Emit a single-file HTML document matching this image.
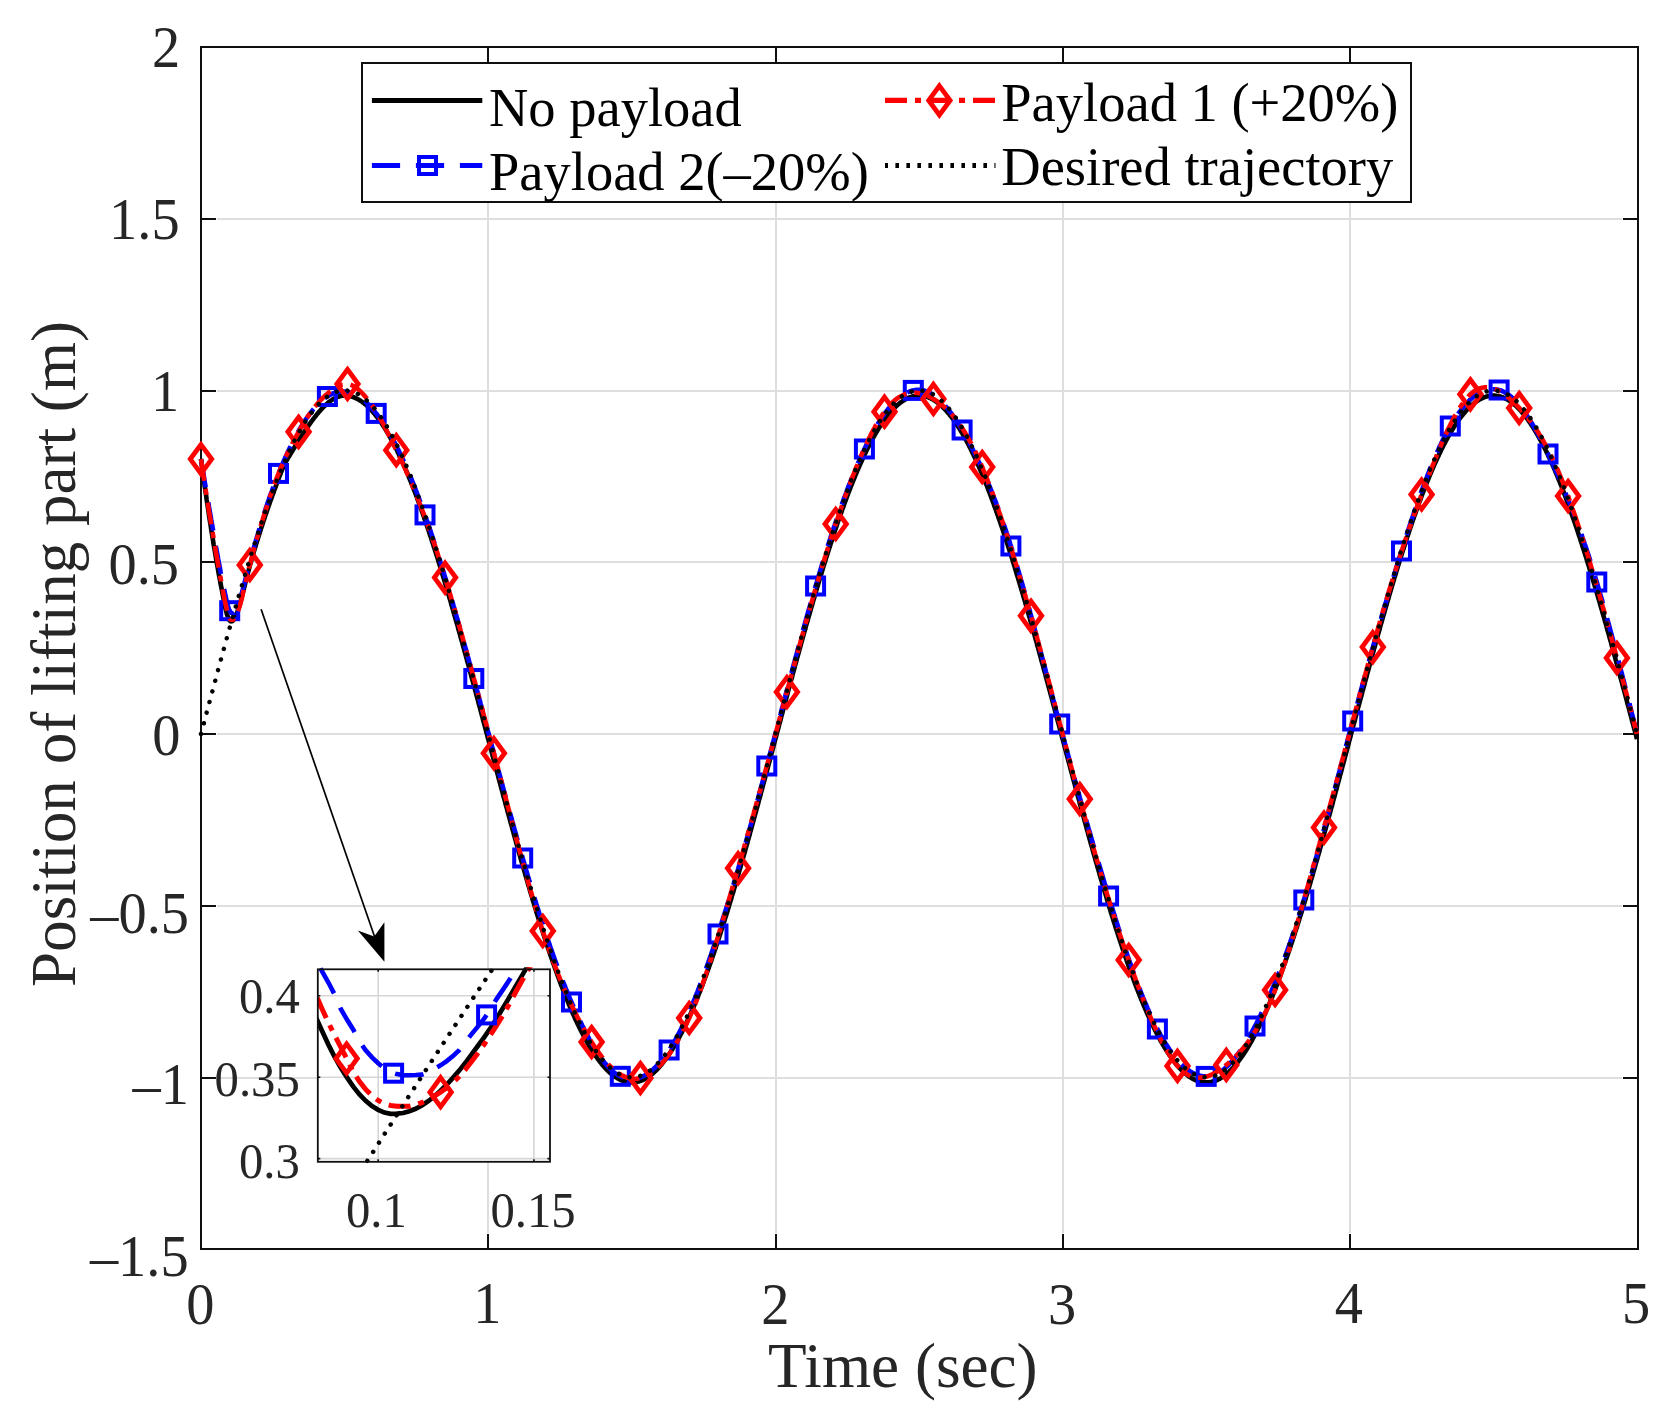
<!DOCTYPE html><html><head><meta charset="utf-8"><title>Position of lifting part</title>
<style>html,body{margin:0;padding:0;background:#fff}svg{display:block}text{font-family:"Liberation Serif",serif;fill:#262626}</style></head><body>
<svg width="1675" height="1423" viewBox="0 0 1675 1423">
<rect width="1675" height="1423" fill="#fff"/>
<defs><clipPath id="cm"><rect x="198.0" y="47.0" width="1443.0" height="1202.0"/></clipPath>
<clipPath id="ci"><rect x="317.3" y="967.3" width="233.2" height="196.5"/></clipPath>
<g id="sq"><rect x="-8.5" y="-8.5" width="17" height="17" fill="none" stroke="#0000ff" stroke-width="4"/></g>
<g id="di"><path d="M0 -14.55L10.7 0L0 14.55L-10.7 0Z" fill="none" stroke="#ff0000" stroke-width="4.8" stroke-linejoin="miter" stroke-miterlimit="10"/></g>
</defs>
<path d="M488 63.0V1233.0M776 63.0V1233.0M1063 63.0V1233.0M1350 63.0V1233.0M217.0 219H1622.0M217.0 391H1622.0M217.0 562H1622.0M217.0 734H1622.0M217.0 906H1622.0M217.0 1078H1622.0" stroke="#dedede" stroke-width="2" fill="none"/>
<path d="M488 1249.0v-15.0M488 47.0v15.0M776 1249.0v-15.0M776 47.0v15.0M1063 1249.0v-15.0M1063 47.0v15.0M1350 1249.0v-15.0M1350 47.0v15.0M201.0 219.0h15.0M1638.0 219.0h-15.0M201.0 391.0h15.0M1638.0 391.0h-15.0M201.0 562.0h15.0M1638.0 562.0h-15.0M201.0 734.0h15.0M1638.0 734.0h-15.0M201.0 906.0h15.0M1638.0 906.0h-15.0M201.0 1078.0h15.0M1638.0 1078.0h-15.0" stroke="#0f0f0f" stroke-width="2" fill="none"/>
<rect x="201.0" y="47.0" width="1437.0" height="1202.0" fill="none" stroke="#0f0f0f" stroke-width="2"/>
<g clip-path="url(#cm)" fill="none"><path d="M201.0 459.1L201.6 463.4L202.1 467.6L202.7 471.8L203.3 475.9L203.9 480.0L204.4 484.1L205.0 488.1L205.6 492.1L206.2 496.1L206.7 500.0L207.3 503.9L207.9 507.7L208.5 511.5L209.0 515.3L209.6 519.1L210.2 522.8L210.8 526.5L211.3 530.1L211.9 533.7L212.5 537.2L213.1 540.8L213.6 544.3L214.2 547.7L214.8 551.1L215.4 554.5L215.9 557.9L216.5 561.2L217.1 564.5L217.7 567.7L218.2 570.9L218.8 574.1L219.4 577.2L220.0 580.2L220.5 583.3L221.1 586.3L221.7 589.3L222.3 592.2L222.8 595.2L223.4 598.1L224.0 601.0L224.6 603.9L225.1 606.8L225.7 609.4L226.3 611.7L226.8 613.8L227.4 615.6L228.0 617.3L228.6 618.6L229.1 619.8L229.7 620.5L230.3 621.1L230.9 621.4L231.4 621.3L232.0 621.2L232.6 620.8L233.2 620.3L233.7 619.6L234.3 618.7L234.9 617.7L235.5 616.5L236.0 615.2L236.6 613.8L237.2 612.3L237.8 610.6L238.3 608.9L238.9 607.1L239.5 605.3L240.1 603.4L240.6 601.3L241.2 599.1L241.8 596.9L242.4 594.7L242.9 592.4L243.5 590.2L244.1 587.9L244.7 585.7L245.2 583.4L245.8 581.2L246.4 578.9L247.0 576.7L247.5 574.5L248.1 572.3L248.7 570.1L249.2 568.0L249.8 565.9L250.4 563.8L251.0 561.8L251.5 559.8L252.1 557.8L252.7 555.8L253.3 553.8L253.8 551.9L254.4 549.9L255.0 548.0L255.6 546.1L256.1 544.2L256.7 542.3L257.3 540.5L257.9 538.6L258.4 536.8L259.0 535.0L259.6 533.2L260.2 531.4L260.7 529.6L261.3 527.8L261.9 526.0L262.5 524.3L263.0 522.5L263.6 520.8L264.2 519.0L264.8 517.3L265.3 515.6L265.9 513.9L266.5 512.2L267.1 510.5L267.6 508.8L268.2 507.2L268.8 505.5L269.4 503.9L269.9 502.3L270.5 500.7L271.1 499.1L271.7 497.5L272.2 496.0L272.8 494.5L273.4 492.9L273.9 491.4L274.5 489.8L275.1 488.2L275.7 486.7L276.2 485.1L276.8 483.5L277.4 482.0L278.0 480.4L278.5 478.9L279.1 477.4L279.7 475.9L280.3 474.4L280.8 472.9L281.4 471.5L282.0 470.1L282.6 468.7L283.1 467.4L283.7 466.1L284.3 464.9L284.9 463.7L285.4 462.6L286.0 461.5L286.6 460.4L287.2 459.5L287.7 458.5L288.3 457.6L288.9 456.6L289.5 455.7L290.0 454.7L290.6 453.8L291.2 452.8L291.8 451.9L292.3 450.9L292.9 450.0L293.5 449.0L294.1 448.1L294.6 447.2L295.2 446.2L295.8 445.3L296.4 444.4L296.9 443.4L297.5 442.5L298.1 441.6L298.6 440.7L299.2 439.8L299.8 438.8L300.4 437.9L300.9 437.0L301.5 436.1L302.1 435.2L302.7 434.4L303.2 433.5L303.8 432.6L304.4 431.7L305.0 430.9L305.5 430.0L306.1 429.1L306.7 428.3L307.3 427.4L307.8 426.6L308.4 425.8L309.0 424.9L309.6 424.1L310.1 423.3L310.7 422.5L311.3 421.7L311.9 420.9L312.4 420.2L313.0 419.4L313.6 418.6L314.2 417.9L314.7 417.1L315.3 416.4L315.9 415.7L316.5 414.9L317.0 414.2L317.6 413.5L318.2 412.9L318.8 412.2L319.3 411.5L319.9 410.9L320.5 410.2L321.0 409.6L321.6 409.0L322.2 408.4L322.8 407.8L323.3 407.2L323.9 406.6L324.5 406.0L325.1 405.5L325.6 404.9L326.2 404.4L326.8 403.9L327.4 403.4L327.9 402.9L328.5 402.4L329.1 402.0L329.7 401.5L330.2 401.1L330.8 400.7L331.4 400.3L332.0 399.9L332.5 399.5L333.1 399.2L333.7 398.8L334.3 398.5L334.8 398.2L335.4 397.9L336.0 397.6L336.6 397.4L337.1 397.1L337.7 396.9L338.3 396.7L338.9 396.5L339.4 396.3L340.0 396.2L340.6 396.0L341.2 395.9L341.7 395.8L342.3 395.7L342.9 395.7L343.5 395.6L344.0 395.6L344.6 395.6L345.2 395.6L345.7 395.6L346.3 395.6L346.9 395.7L347.5 395.7L348.0 395.8L348.6 395.9L349.2 396.0L349.8 396.1L350.3 396.3L350.9 396.4L351.5 396.6L352.1 396.7L352.6 396.9L353.2 397.1L353.8 397.3L354.4 397.5L354.9 397.8L355.5 398.0L356.1 398.3L356.7 398.6L357.2 398.9L357.8 399.2L358.4 399.5L359.0 399.8L359.5 400.2L360.1 400.5L360.7 400.9L361.3 401.3L361.8 401.7L362.4 402.1L363.0 402.5L363.6 402.9L364.1 403.4L364.7 403.9L365.3 404.3L365.9 404.8L366.4 405.3L367.0 405.8L367.6 406.4L368.2 406.9L368.7 407.5L369.3 408.0L369.9 408.6L370.4 409.2L371.0 409.8L371.6 410.4L372.2 411.1L372.7 411.7L373.3 412.4L373.9 413.1L374.5 413.7L375.0 414.4L375.6 415.2L376.2 415.9L376.8 416.6L377.3 417.4L377.9 418.1L378.5 418.9L379.1 419.7L379.6 420.5L380.2 421.3L380.8 422.1L381.4 423.0L381.9 423.8L382.5 424.7L383.1 425.6L383.7 426.5L384.2 427.4L384.8 428.3L385.4 429.2L386.0 430.1L386.5 431.1L387.1 432.0L387.7 433.0L388.3 434.0L388.8 435.0L389.4 436.0L390.0 437.0L390.6 438.1L391.1 439.1L391.7 440.2L392.3 441.2L392.8 442.3L393.4 443.4L394.0 444.5L394.6 445.6L395.1 446.8L395.7 447.9L396.3 449.0L396.9 450.2L397.4 451.4L398.0 452.6L398.6 453.8L399.2 455.0L399.7 456.2L400.3 457.4L400.9 458.7L401.5 459.9L402.0 461.2L402.6 462.4L403.2 463.7L403.8 465.0L404.3 466.3L404.9 467.6L405.5 469.0L406.1 470.3L406.6 471.7L407.2 473.0L407.8 474.4L408.4 475.8L408.9 477.2L409.5 478.6L410.1 480.0L410.7 481.4L411.2 482.8L411.8 484.3L412.4 485.7L413.0 487.2L413.5 488.7L414.1 490.1L414.7 491.6L415.3 493.1L415.8 494.6L416.4 496.2L417.0 497.7L417.5 499.2L418.1 500.8L418.7 502.3L419.3 503.9L419.8 505.5L420.4 507.1L421.0 508.7L421.6 510.3L422.1 511.9L422.7 513.5L423.3 515.2L423.9 516.8L424.4 518.4L425.0 520.1L425.6 521.8L426.2 523.4L426.7 525.1L427.3 526.8L427.9 528.5L428.5 530.2L429.0 531.9L429.6 533.7L430.2 535.4L430.8 537.1L431.3 538.9L431.9 540.7L432.5 542.4L433.1 544.2L433.6 546.0L434.2 547.8L434.8 549.6L435.4 551.4L435.9 553.2L436.5 555.0L437.1 556.8L437.7 558.6L438.2 560.5L438.8 562.3L439.4 564.2L440.0 566.0L440.5 567.9L441.1 569.8L441.7 571.7L442.2 573.6L442.8 575.5L443.4 577.4L444.0 579.3L444.5 581.2L445.1 583.1L445.7 585.0L446.3 587.0L446.8 588.9L447.4 590.8L448.0 592.8L448.6 594.7L449.1 596.7L449.7 598.7L450.3 600.6L450.9 602.6L451.4 604.6L452.0 606.6L452.6 608.6L453.2 610.6L453.7 612.6L454.3 614.6L454.9 616.6L455.5 618.6L456.0 620.6L456.6 622.7L457.2 624.7L457.8 626.7L458.3 628.8L458.9 630.8L459.5 632.9L460.1 634.9L460.6 637.0L461.2 639.1L461.8 641.1L462.4 643.2L462.9 645.3L463.5 647.3L464.1 649.4L464.6 651.5L465.2 653.6L465.8 655.7L466.4 657.8L466.9 659.9L467.5 662.0L468.1 664.1L468.7 666.2L469.2 668.3L469.8 670.4L470.4 672.5L471.0 674.7L471.5 676.8L472.1 678.9L472.7 681.0L473.3 683.2L473.8 685.3L474.4 687.4L475.0 689.6L475.6 691.7L476.1 693.8L476.7 696.0L477.3 698.1L477.9 700.3L478.4 702.4L479.0 704.5L479.6 706.7L480.2 708.8L480.7 711.0L481.3 713.1L481.9 715.3L482.5 717.4L483.0 719.6L483.6 721.8L484.2 723.9L484.8 726.1L485.3 728.2L485.9 730.4L486.5 732.5L487.1 734.7L487.6 736.9L488.2 739.0L488.8 741.2L489.3 743.3L489.9 745.5L490.5 747.6L491.1 749.8L491.6 752.0L492.2 754.1L492.8 756.3L493.4 758.4L493.9 760.6L494.5 762.7L495.1 764.9L495.7 767.0L496.2 769.2L496.8 771.3L497.4 773.5L498.0 775.6L498.5 777.8L499.1 779.9L499.7 782.1L500.3 784.2L500.8 786.3L501.4 788.5L502.0 790.6L502.6 792.7L503.1 794.9L503.7 797.0L504.3 799.1L504.9 801.2L505.4 803.4L506.0 805.5L506.6 807.6L507.2 809.7L507.7 811.8L508.3 813.9L508.9 816.0L509.5 818.1L510.0 820.2L510.6 822.3L511.2 824.4L511.8 826.5L512.3 828.6L512.9 830.7L513.5 832.7L514.0 834.8L514.6 836.9L515.2 839.0L515.8 841.0L516.3 843.1L516.9 845.1L517.5 847.2L518.1 849.2L518.6 851.3L519.2 853.3L519.8 855.3L520.4 857.4L520.9 859.4L521.5 861.4L522.1 863.4L522.7 865.4L523.2 867.4L523.8 869.4L524.4 871.4L525.0 873.4L525.5 875.4L526.1 877.4L526.7 879.4L527.3 881.3L527.8 883.3L528.4 885.2L529.0 887.2L529.6 889.1L530.1 891.1L530.7 893.0L531.3 894.9L531.9 896.8L532.4 898.8L533.0 900.7L533.6 902.6L534.2 904.5L534.7 906.3L535.3 908.2L535.9 910.1L536.4 912.0L537.0 913.8L537.6 915.7L538.2 917.5L538.7 919.4L539.3 921.2L539.9 923.0L540.5 924.8L541.0 926.7L541.6 928.5L542.2 930.3L542.8 932.0L543.3 933.8L543.9 935.6L544.5 937.4L545.1 939.1L545.6 940.9L546.2 942.6L546.8 944.3L547.4 946.1L547.9 947.8L548.5 949.5L549.1 951.2L549.7 952.9L550.2 954.6L550.8 956.3L551.4 957.9L552.0 959.6L552.5 961.2L553.1 962.9L553.7 964.5L554.3 966.1L554.8 967.7L555.4 969.3L556.0 970.9L556.6 972.5L557.1 974.1L557.7 975.7L558.3 977.2L558.9 978.8L559.4 980.3L560.0 981.8L560.6 983.4L561.1 984.9L561.7 986.4L562.3 987.9L562.9 989.4L563.4 990.8L564.0 992.3L564.6 993.7L565.2 995.2L565.7 996.6L566.3 998.0L566.9 999.5L567.5 1000.9L568.0 1002.2L568.6 1003.6L569.2 1005.0L569.8 1006.4L570.3 1007.7L570.9 1009.0L571.5 1010.4L572.1 1011.7L572.6 1013.0L573.2 1014.3L573.8 1015.6L574.4 1016.8L574.9 1018.1L575.5 1019.4L576.1 1020.6L576.7 1021.8L577.2 1023.1L577.8 1024.3L578.4 1025.5L579.0 1026.6L579.5 1027.8L580.1 1029.0L580.7 1030.1L581.3 1031.3L581.8 1032.4L582.4 1033.5L583.0 1034.6L583.6 1035.7L584.1 1036.8L584.7 1037.9L585.3 1038.9L585.8 1040.0L586.4 1041.0L587.0 1042.0L587.6 1043.0L588.1 1044.0L588.7 1045.0L589.3 1046.0L589.9 1046.9L590.4 1047.9L591.0 1048.8L591.6 1049.8L592.2 1050.7L592.7 1051.6L593.3 1052.5L593.9 1053.3L594.5 1054.2L595.0 1055.0L595.6 1055.9L596.2 1056.7L596.8 1057.5L597.3 1058.3L597.9 1059.1L598.5 1059.9L599.1 1060.6L599.6 1061.4L600.2 1062.1L600.8 1062.9L601.4 1063.6L601.9 1064.3L602.5 1065.0L603.1 1065.6L603.7 1066.3L604.2 1066.9L604.8 1067.6L605.4 1068.2L606.0 1068.8L606.5 1069.4L607.1 1070.0L607.7 1070.5L608.2 1071.1L608.8 1071.6L609.4 1072.2L610.0 1072.7L610.5 1073.2L611.1 1073.7L611.7 1074.2L612.3 1074.6L612.8 1075.1L613.4 1075.5L614.0 1075.9L614.6 1076.4L615.1 1076.8L615.7 1077.1L616.3 1077.5L616.9 1077.9L617.4 1078.2L618.0 1078.5L618.6 1078.9L619.2 1079.2L619.7 1079.5L620.3 1079.7L620.9 1080.0L621.5 1080.2L622.0 1080.5L622.6 1080.7L623.2 1080.9L623.8 1081.1L624.3 1081.3L624.9 1081.5L625.5 1081.6L626.1 1081.8L626.6 1081.9L627.2 1082.0L627.8 1082.1L628.4 1082.2L628.9 1082.3L629.5 1082.3L630.1 1082.4L630.7 1082.4L631.2 1082.4L631.8 1082.4L632.4 1082.4L632.9 1082.4L633.5 1082.4L634.1 1082.3L634.7 1082.3L635.2 1082.2L635.8 1082.1L636.4 1082.0L637.0 1081.9L637.5 1081.8L638.1 1081.6L638.7 1081.5L639.3 1081.3L639.8 1081.1L640.4 1080.9L641.0 1080.7L641.6 1080.5L642.1 1080.2L642.7 1080.0L643.3 1079.7L643.9 1079.5L644.4 1079.2L645.0 1078.9L645.6 1078.5L646.2 1078.2L646.7 1077.9L647.3 1077.5L647.9 1077.1L648.5 1076.8L649.0 1076.4L649.6 1075.9L650.2 1075.5L650.8 1075.1L651.3 1074.6L651.9 1074.2L652.5 1073.7L653.1 1073.2L653.6 1072.7L654.2 1072.2L654.8 1071.6L655.4 1071.1L655.9 1070.5L656.5 1070.0L657.1 1069.4L657.6 1068.8L658.2 1068.2L658.8 1067.6L659.4 1066.9L659.9 1066.3L660.5 1065.6L661.1 1065.0L661.7 1064.3L662.2 1063.6L662.8 1062.9L663.4 1062.1L664.0 1061.4L664.5 1060.6L665.1 1059.9L665.7 1059.1L666.3 1058.3L666.8 1057.5L667.4 1056.7L668.0 1055.9L668.6 1055.0L669.1 1054.2L669.7 1053.3L670.3 1052.5L670.9 1051.6L671.4 1050.7L672.0 1049.8L672.6 1048.8L673.2 1047.9L673.7 1046.9L674.3 1046.0L674.9 1045.0L675.5 1044.0L676.0 1043.0L676.6 1042.0L677.2 1041.0L677.8 1040.0L678.3 1038.9L678.9 1037.9L679.5 1036.8L680.0 1035.7L680.6 1034.6L681.2 1033.5L681.8 1032.4L682.3 1031.3L682.9 1030.1L683.5 1029.0L684.1 1027.8L684.6 1026.6L685.2 1025.5L685.8 1024.3L686.4 1023.1L686.9 1021.8L687.5 1020.6L688.1 1019.4L688.7 1018.1L689.2 1016.8L689.8 1015.6L690.4 1014.3L691.0 1013.0L691.5 1011.7L692.1 1010.4L692.7 1009.0L693.3 1007.7L693.8 1006.4L694.4 1005.0L695.0 1003.6L695.6 1002.2L696.1 1000.9L696.7 999.5L697.3 998.0L697.9 996.6L698.4 995.2L699.0 993.7L699.6 992.3L700.2 990.8L700.7 989.4L701.3 987.9L701.9 986.4L702.5 984.9L703.0 983.4L703.6 981.8L704.2 980.3L704.7 978.8L705.3 977.2L705.9 975.7L706.5 974.1L707.0 972.5L707.6 970.9L708.2 969.3L708.8 967.7L709.3 966.1L709.9 964.5L710.5 962.9L711.1 961.2L711.6 959.6L712.2 957.9L712.8 956.3L713.4 954.6L713.9 952.9L714.5 951.2L715.1 949.5L715.7 947.8L716.2 946.1L716.8 944.3L717.4 942.6L718.0 940.9L718.5 939.1L719.1 937.4L719.7 935.6L720.3 933.8L720.8 932.0L721.4 930.3L722.0 928.5L722.6 926.7L723.1 924.8L723.7 923.0L724.3 921.2L724.9 919.4L725.4 917.5L726.0 915.7L726.6 913.8L727.2 912.0L727.7 910.1L728.3 908.2L728.9 906.3L729.4 904.5L730.0 902.6L730.6 900.7L731.2 898.8L731.7 896.8L732.3 894.9L732.9 893.0L733.5 891.1L734.0 889.1L734.6 887.2L735.2 885.2L735.8 883.3L736.3 881.3L736.9 879.4L737.5 877.4L738.1 875.4L738.6 873.4L739.2 871.4L739.8 869.4L740.4 867.4L740.9 865.4L741.5 863.4L742.1 861.4L742.7 859.4L743.2 857.4L743.8 855.3L744.4 853.3L745.0 851.3L745.5 849.2L746.1 847.2L746.7 845.1L747.3 843.1L747.8 841.0L748.4 839.0L749.0 836.9L749.6 834.8L750.1 832.7L750.7 830.7L751.3 828.6L751.8 826.5L752.4 824.4L753.0 822.3L753.6 820.2L754.1 818.1L754.7 816.0L755.3 813.9L755.9 811.8L756.4 809.7L757.0 807.6L757.6 805.5L758.2 803.4L758.7 801.2L759.3 799.1L759.9 797.0L760.5 794.9L761.0 792.7L761.6 790.6L762.2 788.5L762.8 786.3L763.3 784.2L763.9 782.1L764.5 779.9L765.1 777.8L765.6 775.6L766.2 773.5L766.8 771.3L767.4 769.2L767.9 767.0L768.5 764.9L769.1 762.7L769.7 760.6L770.2 758.4L770.8 756.3L771.4 754.1L772.0 752.0L772.5 749.8L773.1 747.6L773.7 745.5L774.3 743.3L774.8 741.2L775.4 739.0L776.0 736.9L776.5 734.7L777.1 732.5L777.7 730.4L778.3 728.2L778.8 726.1L779.4 723.9L780.0 721.8L780.6 719.6L781.1 717.4L781.7 715.3L782.3 713.1L782.9 711.0L783.4 708.8L784.0 706.7L784.6 704.5L785.2 702.4L785.7 700.3L786.3 698.1L786.9 696.0L787.5 693.8L788.0 691.7L788.6 689.6L789.2 687.4L789.8 685.3L790.3 683.2L790.9 681.0L791.5 678.9L792.1 676.8L792.6 674.7L793.2 672.5L793.8 670.4L794.4 668.3L794.9 666.2L795.5 664.1L796.1 662.0L796.7 659.9L797.2 657.8L797.8 655.7L798.4 653.6L799.0 651.5L799.5 649.4L800.1 647.3L800.7 645.3L801.2 643.2L801.8 641.1L802.4 639.1L803.0 637.0L803.5 634.9L804.1 632.9L804.7 630.8L805.3 628.8L805.8 626.7L806.4 624.7L807.0 622.7L807.6 620.6L808.1 618.6L808.7 616.6L809.3 614.6L809.9 612.6L810.4 610.6L811.0 608.6L811.6 606.6L812.2 604.6L812.7 602.6L813.3 600.6L813.9 598.7L814.5 596.7L815.0 594.7L815.6 592.8L816.2 590.8L816.8 588.9L817.3 587.0L817.9 585.0L818.5 583.1L819.1 581.2L819.6 579.3L820.2 577.4L820.8 575.5L821.4 573.6L821.9 571.7L822.5 569.8L823.1 567.9L823.6 566.0L824.2 564.2L824.8 562.3L825.4 560.5L825.9 558.6L826.5 556.8L827.1 555.0L827.7 553.2L828.2 551.4L828.8 549.6L829.4 547.8L830.0 546.0L830.5 544.2L831.1 542.4L831.7 540.7L832.3 538.9L832.8 537.1L833.4 535.4L834.0 533.7L834.6 531.9L835.1 530.2L835.7 528.5L836.3 526.8L836.9 525.1L837.4 523.4L838.0 521.8L838.6 520.1L839.2 518.4L839.7 516.8L840.3 515.2L840.9 513.5L841.5 511.9L842.0 510.3L842.6 508.7L843.2 507.1L843.8 505.5L844.3 503.9L844.9 502.3L845.5 500.8L846.1 499.2L846.6 497.7L847.2 496.2L847.8 494.6L848.3 493.1L848.9 491.6L849.5 490.1L850.1 488.7L850.6 487.2L851.2 485.7L851.8 484.3L852.4 482.8L852.9 481.4L853.5 480.0L854.1 478.6L854.7 477.2L855.2 475.8L855.8 474.4L856.4 473.0L857.0 471.7L857.5 470.3L858.1 469.0L858.7 467.6L859.3 466.3L859.8 465.0L860.4 463.7L861.0 462.4L861.6 461.2L862.1 459.9L862.7 458.7L863.3 457.4L863.9 456.2L864.4 455.0L865.0 453.8L865.6 452.6L866.2 451.4L866.7 450.2L867.3 449.0L867.9 447.9L868.5 446.8L869.0 445.6L869.6 444.5L870.2 443.4L870.8 442.3L871.3 441.2L871.9 440.2L872.5 439.1L873.0 438.1L873.6 437.0L874.2 436.0L874.8 435.0L875.3 434.0L875.9 433.0L876.5 432.0L877.1 431.1L877.6 430.1L878.2 429.2L878.8 428.3L879.4 427.4L879.9 426.5L880.5 425.6L881.1 424.7L881.7 423.8L882.2 423.0L882.8 422.1L883.4 421.3L884.0 420.5L884.5 419.7L885.1 418.9L885.7 418.1L886.3 417.4L886.8 416.6L887.4 415.9L888.0 415.2L888.6 414.4L889.1 413.7L889.7 413.1L890.3 412.4L890.9 411.7L891.4 411.1L892.0 410.4L892.6 409.8L893.2 409.2L893.7 408.6L894.3 408.0L894.9 407.5L895.4 406.9L896.0 406.4L896.6 405.8L897.2 405.3L897.7 404.8L898.3 404.3L898.9 403.9L899.5 403.4L900.0 402.9L900.6 402.5L901.2 402.1L901.8 401.7L902.3 401.3L902.9 400.9L903.5 400.5L904.1 400.2L904.6 399.8L905.2 399.5L905.8 399.2L906.4 398.9L906.9 398.6L907.5 398.3L908.1 398.0L908.7 397.8L909.2 397.5L909.8 397.3L910.4 397.1L911.0 396.9L911.5 396.7L912.1 396.6L912.7 396.4L913.3 396.3L913.8 396.1L914.4 396.0L915.0 395.9L915.6 395.8L916.1 395.7L916.7 395.7L917.3 395.6L917.9 395.6L918.4 395.6L919.0 395.6L919.6 395.6L920.1 395.6L920.7 395.6L921.3 395.7L921.9 395.7L922.4 395.8L923.0 395.9L923.6 396.0L924.2 396.1L924.7 396.3L925.3 396.4L925.9 396.6L926.5 396.7L927.0 396.9L927.6 397.1L928.2 397.3L928.8 397.5L929.3 397.8L929.9 398.0L930.5 398.3L931.1 398.6L931.6 398.9L932.2 399.2L932.8 399.5L933.4 399.8L933.9 400.2L934.5 400.5L935.1 400.9L935.7 401.3L936.2 401.7L936.8 402.1L937.4 402.5L938.0 402.9L938.5 403.4L939.1 403.9L939.7 404.3L940.3 404.8L940.8 405.3L941.4 405.8L942.0 406.4L942.6 406.9L943.1 407.5L943.7 408.0L944.3 408.6L944.8 409.2L945.4 409.8L946.0 410.4L946.6 411.1L947.1 411.7L947.7 412.4L948.3 413.1L948.9 413.7L949.4 414.4L950.0 415.2L950.6 415.9L951.2 416.6L951.7 417.4L952.3 418.1L952.9 418.9L953.5 419.7L954.0 420.5L954.6 421.3L955.2 422.1L955.8 423.0L956.3 423.8L956.9 424.7L957.5 425.6L958.1 426.5L958.6 427.4L959.2 428.3L959.8 429.2L960.4 430.1L960.9 431.1L961.5 432.0L962.1 433.0L962.7 434.0L963.2 435.0L963.8 436.0L964.4 437.0L965.0 438.1L965.5 439.1L966.1 440.2L966.7 441.2L967.2 442.3L967.8 443.4L968.4 444.5L969.0 445.6L969.5 446.8L970.1 447.9L970.7 449.0L971.3 450.2L971.8 451.4L972.4 452.6L973.0 453.8L973.6 455.0L974.1 456.2L974.7 457.4L975.3 458.7L975.9 459.9L976.4 461.2L977.0 462.4L977.6 463.7L978.2 465.0L978.7 466.3L979.3 467.6L979.9 469.0L980.5 470.3L981.0 471.7L981.6 473.0L982.2 474.4L982.8 475.8L983.3 477.2L983.9 478.6L984.5 480.0L985.1 481.4L985.6 482.8L986.2 484.3L986.8 485.7L987.4 487.2L987.9 488.7L988.5 490.1L989.1 491.6L989.7 493.1L990.2 494.6L990.8 496.2L991.4 497.7L991.9 499.2L992.5 500.8L993.1 502.3L993.7 503.9L994.2 505.5L994.8 507.1L995.4 508.7L996.0 510.3L996.5 511.9L997.1 513.5L997.7 515.2L998.3 516.8L998.8 518.4L999.4 520.1L1000.0 521.8L1000.6 523.4L1001.1 525.1L1001.7 526.8L1002.3 528.5L1002.9 530.2L1003.4 531.9L1004.0 533.7L1004.6 535.4L1005.2 537.1L1005.7 538.9L1006.3 540.7L1006.9 542.4L1007.5 544.2L1008.0 546.0L1008.6 547.8L1009.2 549.6L1009.8 551.4L1010.3 553.2L1010.9 555.0L1011.5 556.8L1012.1 558.6L1012.6 560.5L1013.2 562.3L1013.8 564.2L1014.4 566.0L1014.9 567.9L1015.5 569.8L1016.1 571.7L1016.6 573.6L1017.2 575.5L1017.8 577.4L1018.4 579.3L1018.9 581.2L1019.5 583.1L1020.1 585.0L1020.7 587.0L1021.2 588.9L1021.8 590.8L1022.4 592.8L1023.0 594.7L1023.5 596.7L1024.1 598.7L1024.7 600.6L1025.3 602.6L1025.8 604.6L1026.4 606.6L1027.0 608.6L1027.6 610.6L1028.1 612.6L1028.7 614.6L1029.3 616.6L1029.9 618.6L1030.4 620.6L1031.0 622.7L1031.6 624.7L1032.2 626.7L1032.7 628.8L1033.3 630.8L1033.9 632.9L1034.5 634.9L1035.0 637.0L1035.6 639.1L1036.2 641.1L1036.8 643.2L1037.3 645.3L1037.9 647.3L1038.5 649.4L1039.0 651.5L1039.6 653.6L1040.2 655.7L1040.8 657.8L1041.3 659.9L1041.9 662.0L1042.5 664.1L1043.1 666.2L1043.6 668.3L1044.2 670.4L1044.8 672.5L1045.4 674.7L1045.9 676.8L1046.5 678.9L1047.1 681.0L1047.7 683.2L1048.2 685.3L1048.8 687.4L1049.4 689.6L1050.0 691.7L1050.5 693.8L1051.1 696.0L1051.7 698.1L1052.3 700.3L1052.8 702.4L1053.4 704.5L1054.0 706.7L1054.6 708.8L1055.1 711.0L1055.7 713.1L1056.3 715.3L1056.9 717.4L1057.4 719.6L1058.0 721.8L1058.6 723.9L1059.2 726.1L1059.7 728.2L1060.3 730.4L1060.9 732.5L1061.5 734.7L1062.0 736.9L1062.6 739.0L1063.2 741.2L1063.7 743.3L1064.3 745.5L1064.9 747.6L1065.5 749.8L1066.0 752.0L1066.6 754.1L1067.2 756.3L1067.8 758.4L1068.3 760.6L1068.9 762.7L1069.5 764.9L1070.1 767.0L1070.6 769.2L1071.2 771.3L1071.8 773.5L1072.4 775.6L1072.9 777.8L1073.5 779.9L1074.1 782.1L1074.7 784.2L1075.2 786.3L1075.8 788.5L1076.4 790.6L1077.0 792.7L1077.5 794.9L1078.1 797.0L1078.7 799.1L1079.3 801.2L1079.8 803.4L1080.4 805.5L1081.0 807.6L1081.6 809.7L1082.1 811.8L1082.7 813.9L1083.3 816.0L1083.9 818.1L1084.4 820.2L1085.0 822.3L1085.6 824.4L1086.2 826.5L1086.7 828.6L1087.3 830.7L1087.9 832.7L1088.4 834.8L1089.0 836.9L1089.6 839.0L1090.2 841.0L1090.7 843.1L1091.3 845.1L1091.9 847.2L1092.5 849.2L1093.0 851.3L1093.6 853.3L1094.2 855.3L1094.8 857.4L1095.3 859.4L1095.9 861.4L1096.5 863.4L1097.1 865.4L1097.6 867.4L1098.2 869.4L1098.8 871.4L1099.4 873.4L1099.9 875.4L1100.5 877.4L1101.1 879.4L1101.7 881.3L1102.2 883.3L1102.8 885.2L1103.4 887.2L1104.0 889.1L1104.5 891.1L1105.1 893.0L1105.7 894.9L1106.3 896.8L1106.8 898.8L1107.4 900.7L1108.0 902.6L1108.6 904.5L1109.1 906.3L1109.7 908.2L1110.3 910.1L1110.8 912.0L1111.4 913.8L1112.0 915.7L1112.6 917.5L1113.1 919.4L1113.7 921.2L1114.3 923.0L1114.9 924.8L1115.4 926.7L1116.0 928.5L1116.6 930.3L1117.2 932.0L1117.7 933.8L1118.3 935.6L1118.9 937.4L1119.5 939.1L1120.0 940.9L1120.6 942.6L1121.2 944.3L1121.8 946.1L1122.3 947.8L1122.9 949.5L1123.5 951.2L1124.1 952.9L1124.6 954.6L1125.2 956.3L1125.8 957.9L1126.4 959.6L1126.9 961.2L1127.5 962.9L1128.1 964.5L1128.7 966.1L1129.2 967.7L1129.8 969.3L1130.4 970.9L1131.0 972.5L1131.5 974.1L1132.1 975.7L1132.7 977.2L1133.3 978.8L1133.8 980.3L1134.4 981.8L1135.0 983.4L1135.5 984.9L1136.1 986.4L1136.7 987.9L1137.3 989.4L1137.8 990.8L1138.4 992.3L1139.0 993.7L1139.6 995.2L1140.1 996.6L1140.7 998.0L1141.3 999.5L1141.9 1000.9L1142.4 1002.2L1143.0 1003.6L1143.6 1005.0L1144.2 1006.4L1144.7 1007.7L1145.3 1009.0L1145.9 1010.4L1146.5 1011.7L1147.0 1013.0L1147.6 1014.3L1148.2 1015.6L1148.8 1016.8L1149.3 1018.1L1149.9 1019.4L1150.5 1020.6L1151.1 1021.8L1151.6 1023.1L1152.2 1024.3L1152.8 1025.5L1153.4 1026.6L1153.9 1027.8L1154.5 1029.0L1155.1 1030.1L1155.7 1031.3L1156.2 1032.4L1156.8 1033.5L1157.4 1034.6L1158.0 1035.7L1158.5 1036.8L1159.1 1037.9L1159.7 1038.9L1160.2 1040.0L1160.8 1041.0L1161.4 1042.0L1162.0 1043.0L1162.5 1044.0L1163.1 1045.0L1163.7 1046.0L1164.3 1046.9L1164.8 1047.9L1165.4 1048.8L1166.0 1049.8L1166.6 1050.7L1167.1 1051.6L1167.7 1052.5L1168.3 1053.3L1168.9 1054.2L1169.4 1055.0L1170.0 1055.9L1170.6 1056.7L1171.2 1057.5L1171.7 1058.3L1172.3 1059.1L1172.9 1059.9L1173.5 1060.6L1174.0 1061.4L1174.6 1062.1L1175.2 1062.9L1175.8 1063.6L1176.3 1064.3L1176.9 1065.0L1177.5 1065.6L1178.1 1066.3L1178.6 1066.9L1179.2 1067.6L1179.8 1068.2L1180.4 1068.8L1180.9 1069.4L1181.5 1070.0L1182.1 1070.5L1182.6 1071.1L1183.2 1071.6L1183.8 1072.2L1184.4 1072.7L1184.9 1073.2L1185.5 1073.7L1186.1 1074.2L1186.7 1074.6L1187.2 1075.1L1187.8 1075.5L1188.4 1075.9L1189.0 1076.4L1189.5 1076.8L1190.1 1077.1L1190.7 1077.5L1191.3 1077.9L1191.8 1078.2L1192.4 1078.5L1193.0 1078.9L1193.6 1079.2L1194.1 1079.5L1194.7 1079.7L1195.3 1080.0L1195.9 1080.2L1196.4 1080.5L1197.0 1080.7L1197.6 1080.9L1198.2 1081.1L1198.7 1081.3L1199.3 1081.5L1199.9 1081.6L1200.5 1081.8L1201.0 1081.9L1201.6 1082.0L1202.2 1082.1L1202.8 1082.2L1203.3 1082.3L1203.9 1082.3L1204.5 1082.4L1205.1 1082.4L1205.6 1082.4L1206.2 1082.4L1206.8 1082.4L1207.3 1082.4L1207.9 1082.4L1208.5 1082.3L1209.1 1082.3L1209.6 1082.2L1210.2 1082.1L1210.8 1082.0L1211.4 1081.9L1211.9 1081.8L1212.5 1081.6L1213.1 1081.5L1213.7 1081.3L1214.2 1081.1L1214.8 1080.9L1215.4 1080.7L1216.0 1080.5L1216.5 1080.2L1217.1 1080.0L1217.7 1079.7L1218.3 1079.5L1218.8 1079.2L1219.4 1078.9L1220.0 1078.5L1220.6 1078.2L1221.1 1077.9L1221.7 1077.5L1222.3 1077.1L1222.9 1076.8L1223.4 1076.4L1224.0 1075.9L1224.6 1075.5L1225.2 1075.1L1225.7 1074.6L1226.3 1074.2L1226.9 1073.7L1227.5 1073.2L1228.0 1072.7L1228.6 1072.2L1229.2 1071.6L1229.8 1071.1L1230.3 1070.5L1230.9 1070.0L1231.5 1069.4L1232.0 1068.8L1232.6 1068.2L1233.2 1067.6L1233.8 1066.9L1234.3 1066.3L1234.9 1065.6L1235.5 1065.0L1236.1 1064.3L1236.6 1063.6L1237.2 1062.9L1237.8 1062.1L1238.4 1061.4L1238.9 1060.6L1239.5 1059.9L1240.1 1059.1L1240.7 1058.3L1241.2 1057.5L1241.8 1056.7L1242.4 1055.9L1243.0 1055.0L1243.5 1054.2L1244.1 1053.3L1244.7 1052.5L1245.3 1051.6L1245.8 1050.7L1246.4 1049.8L1247.0 1048.8L1247.6 1047.9L1248.1 1046.9L1248.7 1046.0L1249.3 1045.0L1249.9 1044.0L1250.4 1043.0L1251.0 1042.0L1251.6 1041.0L1252.2 1040.0L1252.7 1038.9L1253.3 1037.9L1253.9 1036.8L1254.4 1035.7L1255.0 1034.6L1255.6 1033.5L1256.2 1032.4L1256.7 1031.3L1257.3 1030.1L1257.9 1029.0L1258.5 1027.8L1259.0 1026.6L1259.6 1025.5L1260.2 1024.3L1260.8 1023.1L1261.3 1021.8L1261.9 1020.6L1262.5 1019.4L1263.1 1018.1L1263.6 1016.8L1264.2 1015.6L1264.8 1014.3L1265.4 1013.0L1265.9 1011.7L1266.5 1010.4L1267.1 1009.0L1267.7 1007.7L1268.2 1006.4L1268.8 1005.0L1269.4 1003.6L1270.0 1002.2L1270.5 1000.9L1271.1 999.5L1271.7 998.0L1272.3 996.6L1272.8 995.2L1273.4 993.7L1274.0 992.3L1274.6 990.8L1275.1 989.4L1275.7 987.9L1276.3 986.4L1276.9 984.9L1277.4 983.4L1278.0 981.8L1278.6 980.3L1279.1 978.8L1279.7 977.2L1280.3 975.7L1280.9 974.1L1281.4 972.5L1282.0 970.9L1282.6 969.3L1283.2 967.7L1283.7 966.1L1284.3 964.5L1284.9 962.9L1285.5 961.2L1286.0 959.6L1286.6 957.9L1287.2 956.3L1287.8 954.6L1288.3 952.9L1288.9 951.2L1289.5 949.5L1290.1 947.8L1290.6 946.1L1291.2 944.3L1291.8 942.6L1292.4 940.9L1292.9 939.1L1293.5 937.4L1294.1 935.6L1294.7 933.8L1295.2 932.0L1295.8 930.3L1296.4 928.5L1297.0 926.7L1297.5 924.8L1298.1 923.0L1298.7 921.2L1299.3 919.4L1299.8 917.5L1300.4 915.7L1301.0 913.8L1301.6 912.0L1302.1 910.1L1302.7 908.2L1303.3 906.3L1303.8 904.5L1304.4 902.6L1305.0 900.7L1305.6 898.8L1306.1 896.8L1306.7 894.9L1307.3 893.0L1307.9 891.1L1308.4 889.1L1309.0 887.2L1309.6 885.2L1310.2 883.3L1310.7 881.3L1311.3 879.4L1311.9 877.4L1312.5 875.4L1313.0 873.4L1313.6 871.4L1314.2 869.4L1314.8 867.4L1315.3 865.4L1315.9 863.4L1316.5 861.4L1317.1 859.4L1317.6 857.4L1318.2 855.3L1318.8 853.3L1319.4 851.3L1319.9 849.2L1320.5 847.2L1321.1 845.1L1321.7 843.1L1322.2 841.0L1322.8 839.0L1323.4 836.9L1324.0 834.8L1324.5 832.7L1325.1 830.7L1325.7 828.6L1326.2 826.5L1326.8 824.4L1327.4 822.3L1328.0 820.2L1328.5 818.1L1329.1 816.0L1329.7 813.9L1330.3 811.8L1330.8 809.7L1331.4 807.6L1332.0 805.5L1332.6 803.4L1333.1 801.2L1333.7 799.1L1334.3 797.0L1334.9 794.9L1335.4 792.7L1336.0 790.6L1336.6 788.5L1337.2 786.3L1337.7 784.2L1338.3 782.1L1338.9 779.9L1339.5 777.8L1340.0 775.6L1340.6 773.5L1341.2 771.3L1341.8 769.2L1342.3 767.0L1342.9 764.9L1343.5 762.7L1344.1 760.6L1344.6 758.4L1345.2 756.3L1345.8 754.1L1346.4 752.0L1346.9 749.8L1347.5 747.6L1348.1 745.5L1348.7 743.3L1349.2 741.2L1349.8 739.0L1350.4 736.9L1350.9 734.7L1351.5 732.5L1352.1 730.4L1352.7 728.2L1353.2 726.1L1353.8 723.9L1354.4 721.8L1355.0 719.6L1355.5 717.4L1356.1 715.3L1356.7 713.1L1357.3 711.0L1357.8 708.8L1358.4 706.7L1359.0 704.5L1359.6 702.4L1360.1 700.3L1360.7 698.1L1361.3 696.0L1361.9 693.8L1362.4 691.7L1363.0 689.6L1363.6 687.4L1364.2 685.3L1364.7 683.2L1365.3 681.0L1365.9 678.9L1366.5 676.8L1367.0 674.7L1367.6 672.5L1368.2 670.4L1368.8 668.3L1369.3 666.2L1369.9 664.1L1370.5 662.0L1371.1 659.9L1371.6 657.8L1372.2 655.7L1372.8 653.6L1373.4 651.5L1373.9 649.4L1374.5 647.3L1375.1 645.3L1375.6 643.2L1376.2 641.1L1376.8 639.1L1377.4 637.0L1377.9 634.9L1378.5 632.9L1379.1 630.8L1379.7 628.8L1380.2 626.7L1380.8 624.7L1381.4 622.7L1382.0 620.6L1382.5 618.6L1383.1 616.6L1383.7 614.6L1384.3 612.6L1384.8 610.6L1385.4 608.6L1386.0 606.6L1386.6 604.6L1387.1 602.6L1387.7 600.6L1388.3 598.7L1388.9 596.7L1389.4 594.7L1390.0 592.8L1390.6 590.8L1391.2 588.9L1391.7 587.0L1392.3 585.0L1392.9 583.1L1393.5 581.2L1394.0 579.3L1394.6 577.4L1395.2 575.5L1395.8 573.6L1396.3 571.7L1396.9 569.8L1397.5 567.9L1398.0 566.0L1398.6 564.2L1399.2 562.3L1399.8 560.5L1400.3 558.6L1400.9 556.8L1401.5 555.0L1402.1 553.2L1402.6 551.4L1403.2 549.6L1403.8 547.8L1404.4 546.0L1404.9 544.2L1405.5 542.4L1406.1 540.7L1406.7 538.9L1407.2 537.1L1407.8 535.4L1408.4 533.7L1409.0 531.9L1409.5 530.2L1410.1 528.5L1410.7 526.8L1411.3 525.1L1411.8 523.4L1412.4 521.8L1413.0 520.1L1413.6 518.4L1414.1 516.8L1414.7 515.2L1415.3 513.5L1415.9 511.9L1416.4 510.3L1417.0 508.7L1417.6 507.1L1418.2 505.5L1418.7 503.9L1419.3 502.3L1419.9 500.8L1420.5 499.2L1421.0 497.7L1421.6 496.2L1422.2 494.6L1422.7 493.1L1423.3 491.6L1423.9 490.1L1424.5 488.7L1425.0 487.2L1425.6 485.7L1426.2 484.3L1426.8 482.8L1427.3 481.4L1427.9 480.0L1428.5 478.6L1429.1 477.2L1429.6 475.8L1430.2 474.4L1430.8 473.0L1431.4 471.7L1431.9 470.3L1432.5 469.0L1433.1 467.6L1433.7 466.3L1434.2 465.0L1434.8 463.7L1435.4 462.4L1436.0 461.2L1436.5 459.9L1437.1 458.7L1437.7 457.4L1438.3 456.2L1438.8 455.0L1439.4 453.8L1440.0 452.6L1440.6 451.4L1441.1 450.2L1441.7 449.0L1442.3 447.9L1442.9 446.8L1443.4 445.6L1444.0 444.5L1444.6 443.4L1445.2 442.3L1445.7 441.2L1446.3 440.2L1446.9 439.1L1447.4 438.1L1448.0 437.0L1448.6 436.0L1449.2 435.0L1449.7 434.0L1450.3 433.0L1450.9 432.0L1451.5 431.1L1452.0 430.1L1452.6 429.2L1453.2 428.3L1453.8 427.4L1454.3 426.5L1454.9 425.6L1455.5 424.7L1456.1 423.8L1456.6 423.0L1457.2 422.1L1457.8 421.3L1458.4 420.5L1458.9 419.7L1459.5 418.9L1460.1 418.1L1460.7 417.4L1461.2 416.6L1461.8 415.9L1462.4 415.2L1463.0 414.4L1463.5 413.7L1464.1 413.1L1464.7 412.4L1465.3 411.7L1465.8 411.1L1466.4 410.4L1467.0 409.8L1467.6 409.2L1468.1 408.6L1468.7 408.0L1469.3 407.5L1469.8 406.9L1470.4 406.4L1471.0 405.8L1471.6 405.3L1472.1 404.8L1472.7 404.3L1473.3 403.9L1473.9 403.4L1474.4 402.9L1475.0 402.5L1475.6 402.1L1476.2 401.7L1476.7 401.3L1477.3 400.9L1477.9 400.5L1478.5 400.2L1479.0 399.8L1479.6 399.5L1480.2 399.2L1480.8 398.9L1481.3 398.6L1481.9 398.3L1482.5 398.0L1483.1 397.8L1483.6 397.5L1484.2 397.3L1484.8 397.1L1485.4 396.9L1485.9 396.7L1486.5 396.6L1487.1 396.4L1487.7 396.3L1488.2 396.1L1488.8 396.0L1489.4 395.9L1490.0 395.8L1490.5 395.7L1491.1 395.7L1491.7 395.6L1492.3 395.6L1492.8 395.6L1493.4 395.6L1494.0 395.6L1494.5 395.6L1495.1 395.6L1495.7 395.7L1496.3 395.7L1496.8 395.8L1497.4 395.9L1498.0 396.0L1498.6 396.1L1499.1 396.3L1499.7 396.4L1500.3 396.6L1500.9 396.7L1501.4 396.9L1502.0 397.1L1502.6 397.3L1503.2 397.5L1503.7 397.8L1504.3 398.0L1504.9 398.3L1505.5 398.6L1506.0 398.9L1506.6 399.2L1507.2 399.5L1507.8 399.8L1508.3 400.2L1508.9 400.5L1509.5 400.9L1510.1 401.3L1510.6 401.7L1511.2 402.1L1511.8 402.5L1512.4 402.9L1512.9 403.4L1513.5 403.9L1514.1 404.3L1514.7 404.8L1515.2 405.3L1515.8 405.8L1516.4 406.4L1517.0 406.9L1517.5 407.5L1518.1 408.0L1518.7 408.6L1519.2 409.2L1519.8 409.8L1520.4 410.4L1521.0 411.1L1521.5 411.7L1522.1 412.4L1522.7 413.1L1523.3 413.7L1523.8 414.4L1524.4 415.2L1525.0 415.9L1525.6 416.6L1526.1 417.4L1526.7 418.1L1527.3 418.9L1527.9 419.7L1528.4 420.5L1529.0 421.3L1529.6 422.1L1530.2 423.0L1530.7 423.8L1531.3 424.7L1531.9 425.6L1532.5 426.5L1533.0 427.4L1533.6 428.3L1534.2 429.2L1534.8 430.1L1535.3 431.1L1535.9 432.0L1536.5 433.0L1537.1 434.0L1537.6 435.0L1538.2 436.0L1538.8 437.0L1539.4 438.1L1539.9 439.1L1540.5 440.2L1541.1 441.2L1541.6 442.3L1542.2 443.4L1542.8 444.5L1543.4 445.6L1543.9 446.8L1544.5 447.9L1545.1 449.0L1545.7 450.2L1546.2 451.4L1546.8 452.6L1547.4 453.8L1548.0 455.0L1548.5 456.2L1549.1 457.4L1549.7 458.7L1550.3 459.9L1550.8 461.2L1551.4 462.4L1552.0 463.7L1552.6 465.0L1553.1 466.3L1553.7 467.6L1554.3 469.0L1554.9 470.3L1555.4 471.7L1556.0 473.0L1556.6 474.4L1557.2 475.8L1557.7 477.2L1558.3 478.6L1558.9 480.0L1559.5 481.4L1560.0 482.8L1560.6 484.3L1561.2 485.7L1561.8 487.2L1562.3 488.7L1562.9 490.1L1563.5 491.6L1564.1 493.1L1564.6 494.6L1565.2 496.2L1565.8 497.7L1566.3 499.2L1566.9 500.8L1567.5 502.3L1568.1 503.9L1568.6 505.5L1569.2 507.1L1569.8 508.7L1570.4 510.3L1570.9 511.9L1571.5 513.5L1572.1 515.2L1572.7 516.8L1573.2 518.4L1573.8 520.1L1574.4 521.8L1575.0 523.4L1575.5 525.1L1576.1 526.8L1576.7 528.5L1577.3 530.2L1577.8 531.9L1578.4 533.7L1579.0 535.4L1579.6 537.1L1580.1 538.9L1580.7 540.7L1581.3 542.4L1581.9 544.2L1582.4 546.0L1583.0 547.8L1583.6 549.6L1584.2 551.4L1584.7 553.2L1585.3 555.0L1585.9 556.8L1586.5 558.6L1587.0 560.5L1587.6 562.3L1588.2 564.2L1588.8 566.0L1589.3 567.9L1589.9 569.8L1590.5 571.7L1591.0 573.6L1591.6 575.5L1592.2 577.4L1592.8 579.3L1593.3 581.2L1593.9 583.1L1594.5 585.0L1595.1 587.0L1595.6 588.9L1596.2 590.8L1596.8 592.8L1597.4 594.7L1597.9 596.7L1598.5 598.7L1599.1 600.6L1599.7 602.6L1600.2 604.6L1600.8 606.6L1601.4 608.6L1602.0 610.6L1602.5 612.6L1603.1 614.6L1603.7 616.6L1604.3 618.6L1604.8 620.6L1605.4 622.7L1606.0 624.7L1606.6 626.7L1607.1 628.8L1607.7 630.8L1608.3 632.9L1608.9 634.9L1609.4 637.0L1610.0 639.1L1610.6 641.1L1611.2 643.2L1611.7 645.3L1612.3 647.3L1612.9 649.4L1613.4 651.5L1614.0 653.6L1614.6 655.7L1615.2 657.8L1615.7 659.9L1616.3 662.0L1616.9 664.1L1617.5 666.2L1618.0 668.3L1618.6 670.4L1619.2 672.5L1619.8 674.7L1620.3 676.8L1620.9 678.9L1621.5 681.0L1622.1 683.2L1622.6 685.3L1623.2 687.4L1623.8 689.6L1624.4 691.7L1624.9 693.8L1625.5 696.0L1626.1 698.1L1626.7 700.3L1627.2 702.4L1627.8 704.5L1628.4 706.7L1629.0 708.8L1629.5 711.0L1630.1 713.1L1630.7 715.3L1631.3 717.4L1631.8 719.6L1632.4 721.8L1633.0 723.9L1633.6 726.1L1634.1 728.2L1634.7 730.4L1635.3 732.5L1635.9 734.7L1636.4 736.9L1637.0 739.0" stroke="#000" stroke-width="4.6"/>
<path d="M201.0 459.1L201.6 462.6L202.1 466.1L202.7 469.5L203.3 473.0L203.9 476.4L204.4 479.8L205.0 483.3L205.6 486.7L206.2 490.1L206.7 493.5L207.3 496.8L207.9 500.2L208.5 503.6L209.0 506.9L209.6 510.2L210.2 513.6L210.8 516.9L211.3 520.2L211.9 523.5L212.5 526.8L213.1 530.1L213.6 533.3L214.2 536.6L214.8 539.9L215.4 543.2L215.9 546.4L216.5 549.6L217.1 552.8L217.7 555.9L218.2 559.1L218.8 562.1L219.4 565.2L220.0 568.3L220.5 571.4L221.1 574.4L221.7 577.4L222.3 580.3L222.8 583.2L223.4 586.0L224.0 588.7L224.6 591.3L225.1 593.7L225.7 596.2L226.3 599.3L226.8 601.5L227.4 603.6L228.0 606.1L228.6 608.0L229.1 609.5L229.7 610.7L230.3 611.7L230.9 612.6L231.4 613.0L232.0 613.2L232.6 613.2L233.2 613.2L233.7 613.1L234.3 612.7L234.9 611.9L235.5 611.1L236.0 610.3L236.6 609.2L237.2 608.0L237.8 606.3L238.3 604.6L238.9 603.0L239.5 601.3L240.1 599.3L240.6 597.2L241.2 595.2L241.8 593.3L242.4 591.2L242.9 589.0L243.5 586.8L244.1 584.6L244.7 582.4L245.2 580.1L245.8 577.9L246.4 575.6L247.0 573.4L247.5 571.2L248.1 569.0L248.7 566.8L249.2 564.6L249.8 562.5L250.4 560.4L251.0 558.3L251.5 556.2L252.1 554.1L252.7 552.0L253.3 549.9L253.8 547.9L254.4 545.8L255.0 543.8L255.6 541.8L256.1 539.8L256.7 537.8L257.3 535.9L257.9 533.9L258.4 532.0L259.0 530.1L259.6 528.2L260.2 526.3L260.7 524.4L261.3 522.5L261.9 520.7L262.5 518.9L263.0 517.0L263.6 515.2L264.2 513.4L264.8 511.6L265.3 509.8L265.9 508.1L266.5 506.3L267.1 504.6L267.6 502.9L268.2 501.2L268.8 499.5L269.4 497.9L269.9 496.3L270.5 494.6L271.1 493.1L271.7 491.5L272.2 489.9L272.8 488.3L273.4 486.8L273.9 485.2L274.5 483.7L275.1 482.2L275.7 480.7L276.2 479.2L276.8 477.7L277.4 476.3L278.0 474.8L278.5 473.4L279.1 472.0L279.7 470.6L280.3 469.2L280.8 467.8L281.4 466.4L282.0 465.1L282.6 463.7L283.1 462.4L283.7 461.1L284.3 459.8L284.9 458.5L285.4 457.2L286.0 455.9L286.6 454.7L287.2 453.4L287.7 452.2L288.3 451.0L288.9 449.8L289.5 448.6L290.0 447.4L290.6 446.2L291.2 445.1L291.8 443.9L292.3 442.8L292.9 441.7L293.5 440.6L294.1 439.4L294.6 438.4L295.2 437.3L295.8 436.2L296.4 435.1L296.9 434.1L297.5 433.0L298.1 432.0L298.6 431.0L299.2 430.0L299.8 429.0L300.4 428.0L300.9 427.1L301.5 426.1L302.1 425.2L302.7 424.3L303.2 423.4L303.8 422.5L304.4 421.6L305.0 420.7L305.5 419.8L306.1 419.0L306.7 418.1L307.3 417.3L307.8 416.5L308.4 415.7L309.0 414.9L309.6 414.1L310.1 413.4L310.7 412.6L311.3 411.9L311.9 411.2L312.4 410.5L313.0 409.8L313.6 409.1L314.2 408.4L314.7 407.8L315.3 407.1L315.9 406.5L316.5 405.9L317.0 405.3L317.6 404.7L318.2 404.1L318.8 403.5L319.3 402.9L319.9 402.4L320.5 401.9L321.0 401.4L321.6 400.9L322.2 400.4L322.8 399.9L323.3 399.4L323.9 399.0L324.5 398.5L325.1 398.1L325.6 397.7L326.2 397.3L326.8 396.9L327.4 396.5L327.9 396.1L328.5 395.8L329.1 395.5L329.7 395.1L330.2 394.8L330.8 394.5L331.4 394.3L332.0 394.0L332.5 393.7L333.1 393.5L333.7 393.3L334.3 393.1L334.8 392.9L335.4 392.7L336.0 392.5L336.6 392.4L337.1 392.2L337.7 392.1L338.3 392.0L338.9 391.9L339.4 391.8L340.0 391.7L340.6 391.7L341.2 391.6L341.7 391.6L342.3 391.6L342.9 391.6L343.5 391.6L344.0 391.6L344.6 391.6L345.2 391.7L345.7 391.7L346.3 391.8L346.9 391.9L347.5 392.0L348.0 392.1L348.6 392.2L349.2 392.4L349.8 392.5L350.3 392.7L350.9 392.9L351.5 393.1L352.1 393.3L352.6 393.5L353.2 393.8L353.8 394.0L354.4 394.3L354.9 394.5L355.5 394.8L356.1 395.1L356.7 395.4L357.2 395.8L357.8 396.1L358.4 396.4L359.0 396.8L359.5 397.2L360.1 397.6L360.7 398.0L361.3 398.4L361.8 398.8L362.4 399.2L363.0 399.7L363.6 400.2L364.1 400.6L364.7 401.1L365.3 401.6L365.9 402.1L366.4 402.7L367.0 403.2L367.6 403.8L368.2 404.3L368.7 404.9L369.3 405.5L369.9 406.1L370.4 406.7L371.0 407.3L371.6 407.9L372.2 408.6L372.7 409.2L373.3 409.9L373.9 410.6L374.5 411.3L375.0 412.0L375.6 412.7L376.2 413.4L376.8 414.1L377.3 414.9L377.9 415.7L378.5 416.4L379.1 417.2L379.6 418.0L380.2 418.8L380.8 419.6L381.4 420.4L381.9 421.3L382.5 422.1L383.1 423.0L383.7 423.9L384.2 424.7L384.8 425.6L385.4 426.5L386.0 427.4L386.5 428.4L387.1 429.3L387.7 430.3L388.3 431.2L388.8 432.2L389.4 433.2L390.0 434.2L390.6 435.2L391.1 436.2L391.7 437.2L392.3 438.2L392.8 439.3L393.4 440.3L394.0 441.4L394.6 442.5L395.1 443.6L395.7 444.7L396.3 445.8L396.9 446.9L397.4 448.0L398.0 449.2L398.6 450.3L399.2 451.5L399.7 452.7L400.3 453.9L400.9 455.1L401.5 456.3L402.0 457.5L402.6 458.7L403.2 460.0L403.8 461.2L404.3 462.5L404.9 463.8L405.5 465.1L406.1 466.4L406.6 467.7L407.2 469.0L407.8 470.3L408.4 471.6L408.9 473.0L409.5 474.4L410.1 475.7L410.7 477.1L411.2 478.5L411.8 479.9L412.4 481.3L413.0 482.7L413.5 484.2L414.1 485.6L414.7 487.1L415.3 488.5L415.8 490.0L416.4 491.5L417.0 493.0L417.5 494.5L418.1 496.0L418.7 497.5L419.3 499.1L419.8 500.6L420.4 502.2L421.0 503.7L421.6 505.3L422.1 506.9L422.7 508.5L423.3 510.1L423.9 511.7L424.4 513.3L425.0 514.9L425.6 516.6L426.2 518.2L426.7 519.9L427.3 521.6L427.9 523.2L428.5 524.9L429.0 526.6L429.6 528.3L430.2 530.0L430.8 531.8L431.3 533.5L431.9 535.2L432.5 537.0L433.1 538.7L433.6 540.5L434.2 542.2L434.8 544.0L435.4 545.8L435.9 547.6L436.5 549.4L437.1 551.2L437.7 553.0L438.2 554.8L438.8 556.6L439.4 558.5L440.0 560.3L440.5 562.1L441.1 564.0L441.7 565.8L442.2 567.7L442.8 569.6L443.4 571.5L444.0 573.3L444.5 575.2L445.1 577.1L445.7 579.0L446.3 581.0L446.8 582.9L447.4 584.8L448.0 586.7L448.6 588.7L449.1 590.6L449.7 592.5L450.3 594.5L450.9 596.5L451.4 598.4L452.0 600.4L452.6 602.4L453.2 604.3L453.7 606.3L454.3 608.3L454.9 610.3L455.5 612.3L456.0 614.3L456.6 616.3L457.2 618.3L457.8 620.4L458.3 622.4L458.9 624.4L459.5 626.4L460.1 628.5L460.6 630.5L461.2 632.6L461.8 634.6L462.4 636.7L462.9 638.7L463.5 640.8L464.1 642.9L464.6 644.9L465.2 647.0L465.8 649.1L466.4 651.2L466.9 653.2L467.5 655.3L468.1 657.4L468.7 659.5L469.2 661.6L469.8 663.7L470.4 665.8L471.0 667.9L471.5 670.0L472.1 672.1L472.7 674.2L473.3 676.4L473.8 678.5L474.4 680.6L475.0 682.7L475.6 684.9L476.1 687.0L476.7 689.1L477.3 691.2L477.9 693.4L478.4 695.5L479.0 697.6L479.6 699.8L480.2 701.9L480.7 704.1L481.3 706.2L481.9 708.4L482.5 710.5L483.0 712.6L483.6 714.8L484.2 716.9L484.8 719.1L485.3 721.2L485.9 723.4L486.5 725.5L487.1 727.7L487.6 729.8L488.2 732.0L488.8 734.1L489.3 736.3L489.9 738.4L490.5 740.6L491.1 742.7L491.6 744.9L492.2 747.0L492.8 749.2L493.4 751.3L493.9 753.5L494.5 755.6L495.1 757.8L495.7 759.9L496.2 762.1L496.8 764.2L497.4 766.3L498.0 768.5L498.5 770.6L499.1 772.8L499.7 774.9L500.3 777.0L500.8 779.2L501.4 781.3L502.0 783.4L502.6 785.5L503.1 787.7L503.7 789.8L504.3 791.9L504.9 794.0L505.4 796.1L506.0 798.2L506.6 800.4L507.2 802.5L507.7 804.6L508.3 806.7L508.9 808.8L509.5 810.9L510.0 812.9L510.6 815.0L511.2 817.1L511.8 819.2L512.3 821.3L512.9 823.4L513.5 825.4L514.0 827.5L514.6 829.6L515.2 831.6L515.8 833.7L516.3 835.7L516.9 837.8L517.5 839.8L518.1 841.8L518.6 843.9L519.2 845.9L519.8 847.9L520.4 850.0L520.9 852.0L521.5 854.0L522.1 856.0L522.7 858.0L523.2 860.0L523.8 862.0L524.4 863.9L525.0 865.9L525.5 867.9L526.1 869.9L526.7 871.8L527.3 873.8L527.8 875.7L528.4 877.7L529.0 879.6L529.6 881.5L530.1 883.5L530.7 885.4L531.3 887.3L531.9 889.2L532.4 891.1L533.0 893.0L533.6 894.9L534.2 896.8L534.7 898.6L535.3 900.5L535.9 902.4L536.4 904.2L537.0 906.1L537.6 907.9L538.2 909.7L538.7 911.6L539.3 913.4L539.9 915.2L540.5 917.0L541.0 918.8L541.6 920.6L542.2 922.4L542.8 924.1L543.3 925.9L543.9 927.7L544.5 929.4L545.1 931.2L545.6 932.9L546.2 934.6L546.8 936.3L547.4 938.1L547.9 939.8L548.5 941.5L549.1 943.1L549.7 944.8L550.2 946.5L550.8 948.2L551.4 949.8L552.0 951.4L552.5 953.1L553.1 954.7L553.7 956.3L554.3 957.9L554.8 959.5L555.4 961.1L556.0 962.7L556.6 964.3L557.1 965.9L557.7 967.4L558.3 969.0L558.9 970.5L559.4 972.0L560.0 973.6L560.6 975.1L561.1 976.6L561.7 978.1L562.3 979.6L562.9 981.0L563.4 982.5L564.0 984.0L564.6 985.4L565.2 986.8L565.7 988.3L566.3 989.7L566.9 991.1L567.5 992.5L568.0 993.9L568.6 995.3L569.2 996.6L569.8 998.0L570.3 999.3L570.9 1000.7L571.5 1002.0L572.1 1003.3L572.6 1004.6L573.2 1005.9L573.8 1007.2L574.4 1008.5L574.9 1009.8L575.5 1011.1L576.1 1012.3L576.7 1013.6L577.2 1014.9L577.8 1016.1L578.4 1017.3L579.0 1018.6L579.5 1019.8L580.1 1021.0L580.7 1022.2L581.3 1023.4L581.8 1024.6L582.4 1025.8L583.0 1026.9L583.6 1028.1L584.1 1029.2L584.7 1030.4L585.3 1031.5L585.8 1032.6L586.4 1033.7L587.0 1034.8L587.6 1035.9L588.1 1037.0L588.7 1038.0L589.3 1039.1L589.9 1040.1L590.4 1041.2L591.0 1042.2L591.6 1043.2L592.2 1044.2L592.7 1045.2L593.3 1046.2L593.9 1047.1L594.5 1048.1L595.0 1049.0L595.6 1049.9L596.2 1050.8L596.8 1051.7L597.3 1052.6L597.9 1053.5L598.5 1054.4L599.1 1055.2L599.6 1056.1L600.2 1056.9L600.8 1057.7L601.4 1058.5L601.9 1059.3L602.5 1060.0L603.1 1060.8L603.7 1061.5L604.2 1062.2L604.8 1063.0L605.4 1063.7L606.0 1064.3L606.5 1065.0L607.1 1065.7L607.7 1066.3L608.2 1066.9L608.8 1067.5L609.4 1068.1L610.0 1068.7L610.5 1069.2L611.1 1069.8L611.7 1070.3L612.3 1070.8L612.8 1071.3L613.4 1071.8L614.0 1072.3L614.6 1072.7L615.1 1073.2L615.7 1073.6L616.3 1074.0L616.9 1074.4L617.4 1074.7L618.0 1075.1L618.6 1075.4L619.2 1075.7L619.7 1076.0L620.3 1076.3L620.9 1076.6L621.5 1076.8L622.0 1077.0L622.6 1077.3L623.2 1077.5L623.8 1077.7L624.3 1077.9L624.9 1078.0L625.5 1078.2L626.1 1078.3L626.6 1078.4L627.2 1078.5L627.8 1078.6L628.4 1078.7L628.9 1078.8L629.5 1078.9L630.1 1078.9L630.7 1078.9L631.2 1078.9L631.8 1078.9L632.4 1078.9L632.9 1078.9L633.5 1078.9L634.1 1078.8L634.7 1078.7L635.2 1078.7L635.8 1078.6L636.4 1078.5L637.0 1078.3L637.5 1078.2L638.1 1078.1L638.7 1077.9L639.3 1077.7L639.8 1077.5L640.4 1077.3L641.0 1077.1L641.6 1076.9L642.1 1076.6L642.7 1076.4L643.3 1076.1L643.9 1075.8L644.4 1075.5L645.0 1075.2L645.6 1074.9L646.2 1074.5L646.7 1074.2L647.3 1073.8L647.9 1073.4L648.5 1073.0L649.0 1072.6L649.6 1072.2L650.2 1071.8L650.8 1071.3L651.3 1070.8L651.9 1070.4L652.5 1069.9L653.1 1069.4L653.6 1068.9L654.2 1068.3L654.8 1067.8L655.4 1067.2L655.9 1066.7L656.5 1066.1L657.1 1065.5L657.6 1064.9L658.2 1064.3L658.8 1063.6L659.4 1063.0L659.9 1062.3L660.5 1061.6L661.1 1061.0L661.7 1060.3L662.2 1059.5L662.8 1058.8L663.4 1058.1L664.0 1057.3L664.5 1056.6L665.1 1055.8L665.7 1055.0L666.3 1054.2L666.8 1053.4L667.4 1052.6L668.0 1051.7L668.6 1050.9L669.1 1050.0L669.7 1049.1L670.3 1048.2L670.9 1047.3L671.4 1046.4L672.0 1045.5L672.6 1044.5L673.2 1043.6L673.7 1042.6L674.3 1041.6L674.9 1040.6L675.5 1039.6L676.0 1038.6L676.6 1037.5L677.2 1036.5L677.8 1035.4L678.3 1034.3L678.9 1033.2L679.5 1032.1L680.0 1031.0L680.6 1029.9L681.2 1028.7L681.8 1027.6L682.3 1026.4L682.9 1025.2L683.5 1024.1L684.1 1022.9L684.6 1021.6L685.2 1020.4L685.8 1019.2L686.4 1017.9L686.9 1016.7L687.5 1015.4L688.1 1014.1L688.7 1012.8L689.2 1011.5L689.8 1010.2L690.4 1008.9L691.0 1007.5L691.5 1006.2L692.1 1004.8L692.7 1003.4L693.3 1002.0L693.8 1000.7L694.4 999.3L695.0 997.8L695.6 996.4L696.1 995.0L696.7 993.5L697.3 992.1L697.9 990.6L698.4 989.1L699.0 987.7L699.6 986.2L700.2 984.7L700.7 983.2L701.3 981.6L701.9 980.1L702.5 978.6L703.0 977.0L703.6 975.5L704.2 973.9L704.7 972.3L705.3 970.7L705.9 969.2L706.5 967.6L707.0 966.0L707.6 964.3L708.2 962.7L708.8 961.1L709.3 959.4L709.9 957.8L710.5 956.1L711.1 954.5L711.6 952.8L712.2 951.1L712.8 949.5L713.4 947.8L713.9 946.1L714.5 944.4L715.1 942.7L715.7 940.9L716.2 939.2L716.8 937.5L717.4 935.7L718.0 934.0L718.5 932.3L719.1 930.5L719.7 928.7L720.3 927.0L720.8 925.2L721.4 923.4L722.0 921.6L722.6 919.8L723.1 918.0L723.7 916.2L724.3 914.4L724.9 912.6L725.4 910.8L726.0 908.9L726.6 907.1L727.2 905.2L727.7 903.4L728.3 901.5L728.9 899.7L729.4 897.8L730.0 895.9L730.6 894.1L731.2 892.2L731.7 890.3L732.3 888.4L732.9 886.5L733.5 884.6L734.0 882.7L734.6 880.7L735.2 878.8L735.8 876.9L736.3 874.9L736.9 873.0L737.5 871.1L738.1 869.1L738.6 867.1L739.2 865.2L739.8 863.2L740.4 861.2L740.9 859.3L741.5 857.3L742.1 855.3L742.7 853.3L743.2 851.3L743.8 849.3L744.4 847.3L745.0 845.3L745.5 843.3L746.1 841.3L746.7 839.2L747.3 837.2L747.8 835.2L748.4 833.1L749.0 831.1L749.6 829.1L750.1 827.0L750.7 825.0L751.3 822.9L751.8 820.8L752.4 818.8L753.0 816.7L753.6 814.6L754.1 812.6L754.7 810.5L755.3 808.4L755.9 806.3L756.4 804.2L757.0 802.1L757.6 800.0L758.2 797.9L758.7 795.8L759.3 793.7L759.9 791.6L760.5 789.5L761.0 787.4L761.6 785.2L762.2 783.1L762.8 781.0L763.3 778.8L763.9 776.7L764.5 774.6L765.1 772.4L765.6 770.3L766.2 768.2L766.8 766.0L767.4 763.9L767.9 761.7L768.5 759.5L769.1 757.4L769.7 755.2L770.2 753.1L770.8 750.9L771.4 748.7L772.0 746.6L772.5 744.4L773.1 742.2L773.7 740.1L774.3 737.9L774.8 735.7L775.4 733.6L776.0 731.4L776.5 729.2L777.1 727.0L777.7 724.9L778.3 722.7L778.8 720.5L779.4 718.3L780.0 716.2L780.6 714.0L781.1 711.8L781.7 709.6L782.3 707.5L782.9 705.3L783.4 703.1L784.0 700.9L784.6 698.8L785.2 696.6L785.7 694.4L786.3 692.3L786.9 690.1L787.5 687.9L788.0 685.8L788.6 683.6L789.2 681.4L789.8 679.3L790.3 677.1L790.9 675.0L791.5 672.8L792.1 670.7L792.6 668.5L793.2 666.4L793.8 664.2L794.4 662.1L794.9 660.0L795.5 657.8L796.1 655.7L796.7 653.6L797.2 651.5L797.8 649.3L798.4 647.2L799.0 645.1L799.5 643.0L800.1 640.9L800.7 638.8L801.2 636.7L801.8 634.6L802.4 632.5L803.0 630.4L803.5 628.4L804.1 626.3L804.7 624.2L805.3 622.2L805.8 620.1L806.4 618.0L807.0 616.0L807.6 614.0L808.1 611.9L808.7 609.9L809.3 607.9L809.9 605.8L810.4 603.8L811.0 601.8L811.6 599.8L812.2 597.8L812.7 595.8L813.3 593.8L813.9 591.9L814.5 589.9L815.0 587.9L815.6 586.0L816.2 584.0L816.8 582.1L817.3 580.2L817.9 578.2L818.5 576.3L819.1 574.4L819.6 572.5L820.2 570.6L820.8 568.7L821.4 566.8L821.9 564.9L822.5 563.0L823.1 561.2L823.6 559.3L824.2 557.5L824.8 555.6L825.4 553.8L825.9 551.9L826.5 550.1L827.1 548.3L827.7 546.5L828.2 544.7L828.8 542.9L829.4 541.1L830.0 539.3L830.5 537.6L831.1 535.8L831.7 534.0L832.3 532.3L832.8 530.6L833.4 528.8L834.0 527.1L834.6 525.4L835.1 523.7L835.7 522.0L836.3 520.3L836.9 518.6L837.4 517.0L838.0 515.3L838.6 513.7L839.2 512.0L839.7 510.4L840.3 508.7L840.9 507.1L841.5 505.5L842.0 503.9L842.6 502.3L843.2 500.7L843.8 499.2L844.3 497.6L844.9 496.1L845.5 494.5L846.1 493.0L846.6 491.4L847.2 489.9L847.8 488.4L848.3 486.9L848.9 485.4L849.5 484.0L850.1 482.5L850.6 481.0L851.2 479.6L851.8 478.1L852.4 476.7L852.9 475.3L853.5 473.9L854.1 472.5L854.7 471.1L855.2 469.7L855.8 468.3L856.4 467.0L857.0 465.6L857.5 464.3L858.1 462.9L858.7 461.6L859.3 460.3L859.8 459.0L860.4 457.7L861.0 456.4L861.6 455.2L862.1 453.9L862.7 452.7L863.3 451.4L863.9 450.2L864.4 449.0L865.0 447.8L865.6 446.6L866.2 445.4L866.7 444.2L867.3 443.1L867.9 441.9L868.5 440.8L869.0 439.7L869.6 438.6L870.2 437.4L870.8 436.4L871.3 435.3L871.9 434.2L872.5 433.2L873.0 432.1L873.6 431.1L874.2 430.1L874.8 429.0L875.3 428.1L875.9 427.1L876.5 426.1L877.1 425.1L877.6 424.2L878.2 423.2L878.8 422.3L879.4 421.4L879.9 420.5L880.5 419.6L881.1 418.8L881.7 417.9L882.2 417.0L882.8 416.2L883.4 415.4L884.0 414.6L884.5 413.8L885.1 413.0L885.7 412.2L886.3 411.4L886.8 410.7L887.4 410.0L888.0 409.2L888.6 408.5L889.1 407.8L889.7 407.1L890.3 406.5L890.9 405.8L891.4 405.2L892.0 404.5L892.6 403.9L893.2 403.3L893.7 402.7L894.3 402.1L894.9 401.6L895.4 401.0L896.0 400.5L896.6 399.9L897.2 399.4L897.7 398.9L898.3 398.4L898.9 397.9L899.5 397.5L900.0 397.0L900.6 396.6L901.2 396.2L901.8 395.8L902.3 395.4L902.9 395.0L903.5 394.6L904.1 394.3L904.6 393.9L905.2 393.6L905.8 393.3L906.4 393.0L906.9 392.7L907.5 392.4L908.1 392.1L908.7 391.9L909.2 391.7L909.8 391.4L910.4 391.2L911.0 391.0L911.5 390.8L912.1 390.7L912.7 390.5L913.3 390.4L913.8 390.3L914.4 390.2L915.0 390.1L915.6 390.0L916.1 389.9L916.7 389.9L917.3 389.8L917.9 389.8L918.4 389.8L919.0 389.8L919.6 389.9L920.1 389.9L920.7 390.0L921.3 390.0L921.9 390.1L922.4 390.2L923.0 390.4L923.6 390.5L924.2 390.6L924.7 390.8L925.3 391.0L925.9 391.2L926.5 391.4L927.0 391.6L927.6 391.9L928.2 392.1L928.8 392.4L929.3 392.7L929.9 393.0L930.5 393.3L931.1 393.6L931.6 393.9L932.2 394.3L932.8 394.6L933.4 395.0L933.9 395.4L934.5 395.8L935.1 396.2L935.7 396.7L936.2 397.1L936.8 397.6L937.4 398.1L938.0 398.5L938.5 399.0L939.1 399.6L939.7 400.1L940.3 400.6L940.8 401.2L941.4 401.7L942.0 402.3L942.6 402.9L943.1 403.5L943.7 404.1L944.3 404.8L944.8 405.4L945.4 406.0L946.0 406.7L946.6 407.4L947.1 408.1L947.7 408.8L948.3 409.5L948.9 410.2L949.4 411.0L950.0 411.7L950.6 412.5L951.2 413.2L951.7 414.0L952.3 414.8L952.9 415.6L953.5 416.4L954.0 417.3L954.6 418.1L955.2 419.0L955.8 419.8L956.3 420.7L956.9 421.6L957.5 422.5L958.1 423.4L958.6 424.3L959.2 425.2L959.8 426.1L960.4 427.1L960.9 428.0L961.5 429.0L962.1 430.0L962.7 431.0L963.2 432.0L963.8 433.0L964.4 434.0L965.0 435.0L965.5 436.0L966.1 437.0L966.7 438.1L967.2 439.1L967.8 440.2L968.4 441.2L969.0 442.3L969.5 443.4L970.1 444.4L970.7 445.5L971.3 446.6L971.8 447.7L972.4 448.8L973.0 450.0L973.6 451.1L974.1 452.2L974.7 453.4L975.3 454.6L975.9 455.7L976.4 456.9L977.0 458.1L977.6 459.3L978.2 460.5L978.7 461.7L979.3 462.9L979.9 464.1L980.5 465.4L981.0 466.6L981.6 467.9L982.2 469.2L982.8 470.4L983.3 471.7L983.9 473.0L984.5 474.3L985.1 475.7L985.6 477.0L986.2 478.3L986.8 479.7L987.4 481.0L987.9 482.4L988.5 483.8L989.1 485.2L989.7 486.5L990.2 488.0L990.8 489.4L991.4 490.8L991.9 492.2L992.5 493.7L993.1 495.2L993.7 496.6L994.2 498.1L994.8 499.6L995.4 501.1L996.0 502.6L996.5 504.1L997.1 505.7L997.7 507.2L998.3 508.8L998.8 510.4L999.4 511.9L1000.0 513.5L1000.6 515.1L1001.1 516.7L1001.7 518.4L1002.3 520.0L1002.9 521.7L1003.4 523.3L1004.0 525.0L1004.6 526.7L1005.2 528.4L1005.7 530.1L1006.3 531.8L1006.9 533.5L1007.5 535.3L1008.0 537.0L1008.6 538.8L1009.2 540.6L1009.8 542.4L1010.3 544.2L1010.9 546.0L1011.5 547.8L1012.1 549.7L1012.6 551.5L1013.2 553.4L1013.8 555.2L1014.4 557.1L1014.9 559.0L1015.5 560.9L1016.1 562.8L1016.6 564.7L1017.2 566.7L1017.8 568.6L1018.4 570.6L1018.9 572.5L1019.5 574.5L1020.1 576.5L1020.7 578.5L1021.2 580.4L1021.8 582.4L1022.4 584.5L1023.0 586.5L1023.5 588.5L1024.1 590.5L1024.7 592.6L1025.3 594.6L1025.8 596.7L1026.4 598.7L1027.0 600.8L1027.6 602.9L1028.1 605.0L1028.7 607.0L1029.3 609.1L1029.9 611.2L1030.4 613.3L1031.0 615.4L1031.6 617.6L1032.2 619.7L1032.7 621.8L1033.3 623.9L1033.9 626.1L1034.5 628.2L1035.0 630.3L1035.6 632.5L1036.2 634.6L1036.8 636.8L1037.3 639.0L1037.9 641.1L1038.5 643.3L1039.0 645.4L1039.6 647.6L1040.2 649.8L1040.8 652.0L1041.3 654.1L1041.9 656.3L1042.5 658.5L1043.1 660.7L1043.6 662.9L1044.2 665.1L1044.8 667.2L1045.4 669.4L1045.9 671.6L1046.5 673.8L1047.1 676.0L1047.7 678.2L1048.2 680.4L1048.8 682.6L1049.4 684.8L1050.0 687.0L1050.5 689.2L1051.1 691.3L1051.7 693.5L1052.3 695.7L1052.8 697.9L1053.4 700.1L1054.0 702.3L1054.6 704.5L1055.1 706.6L1055.7 708.8L1056.3 711.0L1056.9 713.2L1057.4 715.3L1058.0 717.5L1058.6 719.7L1059.2 721.8L1059.7 724.0L1060.3 726.2L1060.9 728.3L1061.5 730.5L1062.0 732.6L1062.6 734.7L1063.2 736.9L1063.7 739.0L1064.3 741.2L1064.9 743.3L1065.5 745.4L1066.0 747.5L1066.6 749.7L1067.2 751.8L1067.8 753.9L1068.3 756.0L1068.9 758.1L1069.5 760.2L1070.1 762.3L1070.6 764.4L1071.2 766.5L1071.8 768.6L1072.4 770.7L1072.9 772.8L1073.5 774.9L1074.1 776.9L1074.7 779.0L1075.2 781.1L1075.8 783.2L1076.4 785.2L1077.0 787.3L1077.5 789.4L1078.1 791.4L1078.7 793.5L1079.3 795.5L1079.8 797.6L1080.4 799.6L1081.0 801.7L1081.6 803.7L1082.1 805.7L1082.7 807.8L1083.3 809.8L1083.9 811.8L1084.4 813.9L1085.0 815.9L1085.6 817.9L1086.2 819.9L1086.7 821.9L1087.3 823.9L1087.9 825.9L1088.4 827.9L1089.0 829.9L1089.6 831.9L1090.2 833.9L1090.7 835.9L1091.3 837.9L1091.9 839.9L1092.5 841.9L1093.0 843.8L1093.6 845.8L1094.2 847.8L1094.8 849.7L1095.3 851.7L1095.9 853.7L1096.5 855.6L1097.1 857.6L1097.6 859.5L1098.2 861.5L1098.8 863.4L1099.4 865.4L1099.9 867.3L1100.5 869.2L1101.1 871.2L1101.7 873.1L1102.2 875.0L1102.8 876.9L1103.4 878.9L1104.0 880.8L1104.5 882.7L1105.1 884.6L1105.7 886.5L1106.3 888.4L1106.8 890.3L1107.4 892.2L1108.0 894.1L1108.6 896.0L1109.1 897.9L1109.7 899.8L1110.3 901.7L1110.8 903.5L1111.4 905.4L1112.0 907.3L1112.6 909.1L1113.1 911.0L1113.7 912.8L1114.3 914.7L1114.9 916.5L1115.4 918.4L1116.0 920.2L1116.6 922.0L1117.2 923.8L1117.7 925.6L1118.3 927.4L1118.9 929.2L1119.5 931.0L1120.0 932.8L1120.6 934.6L1121.2 936.4L1121.8 938.1L1122.3 939.9L1122.9 941.6L1123.5 943.4L1124.1 945.1L1124.6 946.8L1125.2 948.6L1125.8 950.3L1126.4 952.0L1126.9 953.7L1127.5 955.4L1128.1 957.0L1128.7 958.7L1129.2 960.4L1129.8 962.0L1130.4 963.7L1131.0 965.3L1131.5 966.9L1132.1 968.6L1132.7 970.2L1133.3 971.8L1133.8 973.4L1134.4 974.9L1135.0 976.5L1135.5 978.1L1136.1 979.6L1136.7 981.2L1137.3 982.7L1137.8 984.2L1138.4 985.7L1139.0 987.2L1139.6 988.7L1140.1 990.2L1140.7 991.6L1141.3 993.1L1141.9 994.5L1142.4 996.0L1143.0 997.4L1143.6 998.8L1144.2 1000.2L1144.7 1001.6L1145.3 1003.0L1145.9 1004.3L1146.5 1005.7L1147.0 1007.0L1147.6 1008.4L1148.2 1009.7L1148.8 1011.0L1149.3 1012.3L1149.9 1013.6L1150.5 1014.8L1151.1 1016.1L1151.6 1017.3L1152.2 1018.5L1152.8 1019.8L1153.4 1021.0L1153.9 1022.1L1154.5 1023.3L1155.1 1024.5L1155.7 1025.6L1156.2 1026.8L1156.8 1027.9L1157.4 1029.0L1158.0 1030.1L1158.5 1031.2L1159.1 1032.2L1159.7 1033.3L1160.2 1034.3L1160.8 1035.4L1161.4 1036.4L1162.0 1037.4L1162.5 1038.4L1163.1 1039.4L1163.7 1040.3L1164.3 1041.3L1164.8 1042.2L1165.4 1043.2L1166.0 1044.1L1166.6 1045.0L1167.1 1045.9L1167.7 1046.8L1168.3 1047.7L1168.9 1048.5L1169.4 1049.4L1170.0 1050.2L1170.6 1051.0L1171.2 1051.8L1171.7 1052.6L1172.3 1053.4L1172.9 1054.2L1173.5 1055.0L1174.0 1055.7L1174.6 1056.4L1175.2 1057.2L1175.8 1057.9L1176.3 1058.6L1176.9 1059.2L1177.5 1059.9L1178.1 1060.6L1178.6 1061.2L1179.2 1061.8L1179.8 1062.5L1180.4 1063.1L1180.9 1063.7L1181.5 1064.2L1182.1 1064.8L1182.6 1065.3L1183.2 1065.9L1183.8 1066.4L1184.4 1066.9L1184.9 1067.4L1185.5 1067.9L1186.1 1068.4L1186.7 1068.8L1187.2 1069.3L1187.8 1069.7L1188.4 1070.1L1189.0 1070.5L1189.5 1070.9L1190.1 1071.3L1190.7 1071.7L1191.3 1072.0L1191.8 1072.4L1192.4 1072.7L1193.0 1073.0L1193.6 1073.3L1194.1 1073.6L1194.7 1073.8L1195.3 1074.1L1195.9 1074.3L1196.4 1074.6L1197.0 1074.8L1197.6 1075.0L1198.2 1075.2L1198.7 1075.4L1199.3 1075.5L1199.9 1075.7L1200.5 1075.8L1201.0 1075.9L1201.6 1076.0L1202.2 1076.1L1202.8 1076.2L1203.3 1076.3L1203.9 1076.3L1204.5 1076.4L1205.1 1076.4L1205.6 1076.4L1206.2 1076.4L1206.8 1076.4L1207.3 1076.3L1207.9 1076.3L1208.5 1076.2L1209.1 1076.2L1209.6 1076.1L1210.2 1076.0L1210.8 1075.8L1211.4 1075.7L1211.9 1075.6L1212.5 1075.4L1213.1 1075.2L1213.7 1075.0L1214.2 1074.8L1214.8 1074.6L1215.4 1074.3L1216.0 1074.1L1216.5 1073.8L1217.1 1073.5L1217.7 1073.2L1218.3 1072.9L1218.8 1072.6L1219.4 1072.2L1220.0 1071.9L1220.6 1071.5L1221.1 1071.1L1221.7 1070.7L1222.3 1070.3L1222.9 1069.9L1223.4 1069.5L1224.0 1069.0L1224.6 1068.6L1225.2 1068.1L1225.7 1067.6L1226.3 1067.1L1226.9 1066.5L1227.5 1066.0L1228.0 1065.5L1228.6 1064.9L1229.2 1064.3L1229.8 1063.7L1230.3 1063.1L1230.9 1062.5L1231.5 1061.9L1232.0 1061.3L1232.6 1060.6L1233.2 1060.0L1233.8 1059.3L1234.3 1058.6L1234.9 1057.9L1235.5 1057.2L1236.1 1056.4L1236.6 1055.7L1237.2 1055.0L1237.8 1054.2L1238.4 1053.4L1238.9 1052.6L1239.5 1051.8L1240.1 1051.0L1240.7 1050.2L1241.2 1049.4L1241.8 1048.5L1242.4 1047.7L1243.0 1046.8L1243.5 1045.9L1244.1 1045.0L1244.7 1044.1L1245.3 1043.2L1245.8 1042.3L1246.4 1041.3L1247.0 1040.4L1247.6 1039.4L1248.1 1038.4L1248.7 1037.5L1249.3 1036.5L1249.9 1035.5L1250.4 1034.5L1251.0 1033.4L1251.6 1032.4L1252.2 1031.4L1252.7 1030.3L1253.3 1029.2L1253.9 1028.2L1254.4 1027.1L1255.0 1026.0L1255.6 1024.9L1256.2 1023.8L1256.7 1022.7L1257.3 1021.5L1257.9 1020.4L1258.5 1019.3L1259.0 1018.1L1259.6 1016.9L1260.2 1015.8L1260.8 1014.6L1261.3 1013.4L1261.9 1012.2L1262.5 1011.0L1263.1 1009.8L1263.6 1008.6L1264.2 1007.3L1264.8 1006.1L1265.4 1004.9L1265.9 1003.6L1266.5 1002.3L1267.1 1001.1L1267.7 999.8L1268.2 998.5L1268.8 997.2L1269.4 995.9L1270.0 994.6L1270.5 993.2L1271.1 991.9L1271.7 990.5L1272.3 989.2L1272.8 987.8L1273.4 986.4L1274.0 985.1L1274.6 983.7L1275.1 982.3L1275.7 980.9L1276.3 979.4L1276.9 978.0L1277.4 976.6L1278.0 975.1L1278.6 973.7L1279.1 972.2L1279.7 970.7L1280.3 969.2L1280.9 967.7L1281.4 966.2L1282.0 964.7L1282.6 963.2L1283.2 961.7L1283.7 960.1L1284.3 958.6L1284.9 957.0L1285.5 955.4L1286.0 953.9L1286.6 952.3L1287.2 950.7L1287.8 949.1L1288.3 947.4L1288.9 945.8L1289.5 944.2L1290.1 942.5L1290.6 940.9L1291.2 939.2L1291.8 937.5L1292.4 935.8L1292.9 934.1L1293.5 932.4L1294.1 930.7L1294.7 929.0L1295.2 927.2L1295.8 925.5L1296.4 923.7L1297.0 922.0L1297.5 920.2L1298.1 918.4L1298.7 916.6L1299.3 914.8L1299.8 913.0L1300.4 911.2L1301.0 909.3L1301.6 907.5L1302.1 905.6L1302.7 903.8L1303.3 901.9L1303.8 900.0L1304.4 898.1L1305.0 896.2L1305.6 894.3L1306.1 892.4L1306.7 890.4L1307.3 888.5L1307.9 886.5L1308.4 884.6L1309.0 882.6L1309.6 880.7L1310.2 878.7L1310.7 876.7L1311.3 874.7L1311.9 872.7L1312.5 870.7L1313.0 868.7L1313.6 866.7L1314.2 864.7L1314.8 862.6L1315.3 860.6L1315.9 858.5L1316.5 856.5L1317.1 854.4L1317.6 852.4L1318.2 850.3L1318.8 848.2L1319.4 846.2L1319.9 844.1L1320.5 842.0L1321.1 839.9L1321.7 837.8L1322.2 835.7L1322.8 833.6L1323.4 831.5L1324.0 829.3L1324.5 827.2L1325.1 825.1L1325.7 823.0L1326.2 820.8L1326.8 818.7L1327.4 816.6L1328.0 814.4L1328.5 812.3L1329.1 810.1L1329.7 808.0L1330.3 805.8L1330.8 803.7L1331.4 801.5L1332.0 799.3L1332.6 797.2L1333.1 795.0L1333.7 792.8L1334.3 790.7L1334.9 788.5L1335.4 786.3L1336.0 784.1L1336.6 782.0L1337.2 779.8L1337.7 777.6L1338.3 775.4L1338.9 773.2L1339.5 771.0L1340.0 768.9L1340.6 766.7L1341.2 764.5L1341.8 762.3L1342.3 760.1L1342.9 758.0L1343.5 755.8L1344.1 753.6L1344.6 751.4L1345.2 749.2L1345.8 747.0L1346.4 744.9L1346.9 742.7L1347.5 740.5L1348.1 738.3L1348.7 736.2L1349.2 734.0L1349.8 731.8L1350.4 729.7L1350.9 727.5L1351.5 725.3L1352.1 723.2L1352.7 721.0L1353.2 718.9L1353.8 716.7L1354.4 714.6L1355.0 712.4L1355.5 710.3L1356.1 708.1L1356.7 706.0L1357.3 703.9L1357.8 701.7L1358.4 699.6L1359.0 697.5L1359.6 695.4L1360.1 693.2L1360.7 691.1L1361.3 689.0L1361.9 686.9L1362.4 684.8L1363.0 682.7L1363.6 680.6L1364.2 678.5L1364.7 676.4L1365.3 674.4L1365.9 672.3L1366.5 670.2L1367.0 668.1L1367.6 666.0L1368.2 664.0L1368.8 661.9L1369.3 659.9L1369.9 657.8L1370.5 655.8L1371.1 653.7L1371.6 651.7L1372.2 649.6L1372.8 647.6L1373.4 645.5L1373.9 643.5L1374.5 641.5L1375.1 639.5L1375.6 637.5L1376.2 635.4L1376.8 633.4L1377.4 631.4L1377.9 629.4L1378.5 627.4L1379.1 625.4L1379.7 623.4L1380.2 621.5L1380.8 619.5L1381.4 617.5L1382.0 615.5L1382.5 613.6L1383.1 611.6L1383.7 609.6L1384.3 607.7L1384.8 605.7L1385.4 603.8L1386.0 601.8L1386.6 599.9L1387.1 598.0L1387.7 596.0L1388.3 594.1L1388.9 592.2L1389.4 590.3L1390.0 588.3L1390.6 586.4L1391.2 584.5L1391.7 582.6L1392.3 580.7L1392.9 578.8L1393.5 577.0L1394.0 575.1L1394.6 573.2L1395.2 571.3L1395.8 569.5L1396.3 567.6L1396.9 565.7L1397.5 563.9L1398.0 562.0L1398.6 560.2L1399.2 558.3L1399.8 556.5L1400.3 554.7L1400.9 552.8L1401.5 551.0L1402.1 549.2L1402.6 547.4L1403.2 545.6L1403.8 543.8L1404.4 542.0L1404.9 540.2L1405.5 538.4L1406.1 536.6L1406.7 534.8L1407.2 533.0L1407.8 531.3L1408.4 529.5L1409.0 527.8L1409.5 526.0L1410.1 524.3L1410.7 522.6L1411.3 520.8L1411.8 519.1L1412.4 517.4L1413.0 515.7L1413.6 514.0L1414.1 512.3L1414.7 510.6L1415.3 508.9L1415.9 507.3L1416.4 505.6L1417.0 504.0L1417.6 502.3L1418.2 500.7L1418.7 499.1L1419.3 497.5L1419.9 495.8L1420.5 494.2L1421.0 492.7L1421.6 491.1L1422.2 489.5L1422.7 487.9L1423.3 486.4L1423.9 484.8L1424.5 483.3L1425.0 481.8L1425.6 480.3L1426.2 478.8L1426.8 477.3L1427.3 475.8L1427.9 474.3L1428.5 472.8L1429.1 471.4L1429.6 469.9L1430.2 468.5L1430.8 467.1L1431.4 465.7L1431.9 464.3L1432.5 462.9L1433.1 461.5L1433.7 460.1L1434.2 458.8L1434.8 457.4L1435.4 456.1L1436.0 454.8L1436.5 453.5L1437.1 452.2L1437.7 450.9L1438.3 449.6L1438.8 448.4L1439.4 447.1L1440.0 445.9L1440.6 444.7L1441.1 443.5L1441.7 442.3L1442.3 441.1L1442.9 439.9L1443.4 438.8L1444.0 437.6L1444.6 436.5L1445.2 435.4L1445.7 434.3L1446.3 433.2L1446.9 432.1L1447.4 431.1L1448.0 430.0L1448.6 429.0L1449.2 428.0L1449.7 427.0L1450.3 426.0L1450.9 425.0L1451.5 424.1L1452.0 423.1L1452.6 422.2L1453.2 421.3L1453.8 420.4L1454.3 419.5L1454.9 418.6L1455.5 417.7L1456.1 416.8L1456.6 416.0L1457.2 415.1L1457.8 414.3L1458.4 413.5L1458.9 412.7L1459.5 411.9L1460.1 411.2L1460.7 410.4L1461.2 409.7L1461.8 408.9L1462.4 408.2L1463.0 407.5L1463.5 406.8L1464.1 406.1L1464.7 405.5L1465.3 404.8L1465.8 404.2L1466.4 403.5L1467.0 402.9L1467.6 402.3L1468.1 401.7L1468.7 401.2L1469.3 400.6L1469.8 400.0L1470.4 399.5L1471.0 399.0L1471.6 398.5L1472.1 398.0L1472.7 397.5L1473.3 397.0L1473.9 396.6L1474.4 396.1L1475.0 395.7L1475.6 395.3L1476.2 394.9L1476.7 394.5L1477.3 394.1L1477.9 393.8L1478.5 393.4L1479.0 393.1L1479.6 392.8L1480.2 392.5L1480.8 392.2L1481.3 391.9L1481.9 391.6L1482.5 391.4L1483.1 391.1L1483.6 390.9L1484.2 390.7L1484.8 390.5L1485.4 390.3L1485.9 390.1L1486.5 390.0L1487.1 389.8L1487.7 389.7L1488.2 389.6L1488.8 389.5L1489.4 389.4L1490.0 389.3L1490.5 389.3L1491.1 389.2L1491.7 389.2L1492.3 389.2L1492.8 389.2L1493.4 389.2L1494.0 389.2L1494.5 389.2L1495.1 389.3L1495.7 389.3L1496.3 389.4L1496.8 389.5L1497.4 389.6L1498.0 389.7L1498.6 389.9L1499.1 390.0L1499.7 390.2L1500.3 390.3L1500.9 390.5L1501.4 390.7L1502.0 391.0L1502.6 391.2L1503.2 391.5L1503.7 391.8L1504.3 392.1L1504.9 392.4L1505.5 392.7L1506.0 393.0L1506.6 393.4L1507.2 393.8L1507.8 394.2L1508.3 394.6L1508.9 395.0L1509.5 395.4L1510.1 395.9L1510.6 396.3L1511.2 396.8L1511.8 397.3L1512.4 397.8L1512.9 398.4L1513.5 398.9L1514.1 399.5L1514.7 400.0L1515.2 400.6L1515.8 401.2L1516.4 401.8L1517.0 402.5L1517.5 403.1L1518.1 403.8L1518.7 404.4L1519.2 405.1L1519.8 405.8L1520.4 406.5L1521.0 407.2L1521.5 408.0L1522.1 408.7L1522.7 409.5L1523.3 410.3L1523.8 411.1L1524.4 411.9L1525.0 412.7L1525.6 413.5L1526.1 414.3L1526.7 415.2L1527.3 416.0L1527.9 416.9L1528.4 417.8L1529.0 418.7L1529.6 419.6L1530.2 420.5L1530.7 421.5L1531.3 422.4L1531.9 423.4L1532.5 424.3L1533.0 425.3L1533.6 426.3L1534.2 427.3L1534.8 428.3L1535.3 429.3L1535.9 430.3L1536.5 431.4L1537.1 432.4L1537.6 433.5L1538.2 434.5L1538.8 435.6L1539.4 436.7L1539.9 437.8L1540.5 438.9L1541.1 440.0L1541.6 441.1L1542.2 442.3L1542.8 443.4L1543.4 444.5L1543.9 445.7L1544.5 446.9L1545.1 448.0L1545.7 449.2L1546.2 450.4L1546.8 451.6L1547.4 452.8L1548.0 454.0L1548.5 455.2L1549.1 456.4L1549.7 457.7L1550.3 458.9L1550.8 460.1L1551.4 461.3L1552.0 462.6L1552.6 463.8L1553.1 465.1L1553.7 466.3L1554.3 467.6L1554.9 468.8L1555.4 470.1L1556.0 471.3L1556.6 472.6L1557.2 473.9L1557.7 475.2L1558.3 476.5L1558.9 477.8L1559.5 479.1L1560.0 480.4L1560.6 481.7L1561.2 483.0L1561.8 484.3L1562.3 485.6L1562.9 487.0L1563.5 488.3L1564.1 489.7L1564.6 491.0L1565.2 492.4L1565.8 493.8L1566.3 495.1L1566.9 496.5L1567.5 497.9L1568.1 499.3L1568.6 500.7L1569.2 502.2L1569.8 503.6L1570.4 505.0L1570.9 506.5L1571.5 507.9L1572.1 509.4L1572.7 510.8L1573.2 512.3L1573.8 513.8L1574.4 515.3L1575.0 516.8L1575.5 518.3L1576.1 519.8L1576.7 521.4L1577.3 522.9L1577.8 524.5L1578.4 526.0L1579.0 527.6L1579.6 529.2L1580.1 530.8L1580.7 532.4L1581.3 534.0L1581.9 535.6L1582.4 537.2L1583.0 538.9L1583.6 540.5L1584.2 542.2L1584.7 543.9L1585.3 545.6L1585.9 547.3L1586.5 549.0L1587.0 550.7L1587.6 552.5L1588.2 554.2L1588.8 556.0L1589.3 557.8L1589.9 559.5L1590.5 561.3L1591.0 563.2L1591.6 565.0L1592.2 566.8L1592.8 568.7L1593.3 570.5L1593.9 572.4L1594.5 574.3L1595.1 576.2L1595.6 578.1L1596.2 580.1L1596.8 582.0L1597.4 584.0L1597.9 585.9L1598.5 587.9L1599.1 589.9L1599.7 591.9L1600.2 593.9L1600.8 595.9L1601.4 597.9L1602.0 599.9L1602.5 601.9L1603.1 603.9L1603.7 606.0L1604.3 608.0L1604.8 610.1L1605.4 612.1L1606.0 614.2L1606.6 616.3L1607.1 618.3L1607.7 620.4L1608.3 622.5L1608.9 624.6L1609.4 626.7L1610.0 628.8L1610.6 631.0L1611.2 633.1L1611.7 635.2L1612.3 637.3L1612.9 639.5L1613.4 641.6L1614.0 643.8L1614.6 646.0L1615.2 648.1L1615.7 650.3L1616.3 652.5L1616.9 654.6L1617.5 656.8L1618.0 659.0L1618.6 661.2L1619.2 663.4L1619.8 665.6L1620.3 667.8L1620.9 670.1L1621.5 672.3L1622.1 674.5L1622.6 676.7L1623.2 679.0L1623.8 681.2L1624.4 683.5L1624.9 685.7L1625.5 688.0L1626.1 690.2L1626.7 692.5L1627.2 694.8L1627.8 697.0L1628.4 699.3L1629.0 701.6L1629.5 703.9L1630.1 706.2L1630.7 708.4L1631.3 710.7L1631.8 713.0L1632.4 715.3L1633.0 717.6L1633.6 719.9L1634.1 722.3L1634.7 724.6L1635.3 726.9L1635.9 729.2L1636.4 731.5L1637.0 733.9" stroke="#0000ff" stroke-width="4.6" stroke-dasharray="28.6 15.4"/></g>
<g>
<use href="#sq" x="229.7" y="610.7"/>
<use href="#sq" x="278.5" y="473.4"/>
<use href="#sq" x="327.4" y="396.5"/>
<use href="#sq" x="376.2" y="413.4"/>
<use href="#sq" x="425.0" y="514.9"/>
<use href="#sq" x="473.8" y="678.5"/>
<use href="#sq" x="522.7" y="858.0"/>
<use href="#sq" x="571.5" y="1002.0"/>
<use href="#sq" x="620.3" y="1076.3"/>
<use href="#sq" x="669.1" y="1050.0"/>
<use href="#sq" x="718.0" y="934.0"/>
<use href="#sq" x="766.8" y="766.0"/>
<use href="#sq" x="815.6" y="586.0"/>
<use href="#sq" x="864.4" y="449.0"/>
<use href="#sq" x="913.3" y="390.4"/>
<use href="#sq" x="962.1" y="430.0"/>
<use href="#sq" x="1010.9" y="546.0"/>
<use href="#sq" x="1059.7" y="724.0"/>
<use href="#sq" x="1108.6" y="896.0"/>
<use href="#sq" x="1157.4" y="1029.0"/>
<use href="#sq" x="1206.2" y="1076.4"/>
<use href="#sq" x="1255.0" y="1026.0"/>
<use href="#sq" x="1303.8" y="900.0"/>
<use href="#sq" x="1352.7" y="721.0"/>
<use href="#sq" x="1401.5" y="551.0"/>
<use href="#sq" x="1450.3" y="426.0"/>
<use href="#sq" x="1499.1" y="390.0"/>
<use href="#sq" x="1548.0" y="454.0"/>
<use href="#sq" x="1596.8" y="582.0"/>
</g>
<g clip-path="url(#cm)" fill="none"><path d="M201.0 459.1L201.6 463.0L202.1 466.9L202.7 470.7L203.3 474.6L203.9 478.4L204.4 482.1L205.0 485.9L205.6 489.6L206.2 493.2L206.7 496.9L207.3 500.5L207.9 504.1L208.5 507.7L209.0 511.2L209.6 514.7L210.2 518.2L210.8 521.6L211.3 525.1L211.9 528.5L212.5 531.9L213.1 535.3L213.6 538.7L214.2 542.1L214.8 545.5L215.4 548.8L215.9 552.2L216.5 555.5L217.1 558.8L217.7 562.0L218.2 565.2L218.8 568.4L219.4 571.6L220.0 574.7L220.5 577.8L221.1 580.9L221.7 584.0L222.3 587.1L222.8 590.1L223.4 593.2L224.0 596.2L224.6 599.3L225.1 602.2L225.7 604.8L226.3 607.3L226.8 609.9L227.4 612.6L228.0 614.6L228.6 616.2L229.1 617.6L229.7 618.6L230.3 619.3L230.9 619.6L231.4 619.8L232.0 619.8L232.6 619.8L233.2 619.5L233.7 619.0L234.3 618.4L234.9 617.7L235.5 616.8L236.0 615.9L236.6 614.8L237.2 613.5L237.8 612.0L238.3 610.3L238.9 608.6L239.5 606.8L240.1 604.8L240.6 602.8L241.2 600.6L241.8 598.3L242.4 595.9L242.9 593.5L243.5 591.2L244.1 588.9L244.7 586.5L245.2 584.1L245.8 581.7L246.4 579.2L247.0 576.8L247.5 574.4L248.1 572.0L248.7 569.6L249.2 567.3L249.8 565.0L250.4 562.8L251.0 560.5L251.5 558.3L252.1 556.1L252.7 553.9L253.3 551.8L253.8 549.6L254.4 547.5L255.0 545.4L255.6 543.3L256.1 541.3L256.7 539.3L257.3 537.3L257.9 535.3L258.4 533.4L259.0 531.5L259.6 529.6L260.2 527.7L260.7 525.8L261.3 523.9L261.9 522.0L262.5 520.2L263.0 518.3L263.6 516.5L264.2 514.6L264.8 512.8L265.3 511.0L265.9 509.2L266.5 507.4L267.1 505.7L267.6 503.9L268.2 502.2L268.8 500.5L269.4 498.7L269.9 497.0L270.5 495.3L271.1 493.7L271.7 492.0L272.2 490.4L272.8 488.8L273.4 487.2L273.9 485.6L274.5 484.0L275.1 482.4L275.7 480.9L276.2 479.4L276.8 477.9L277.4 476.4L278.0 474.9L278.5 473.5L279.1 472.1L279.7 470.7L280.3 469.3L280.8 467.9L281.4 466.6L282.0 465.3L282.6 463.9L283.1 462.6L283.7 461.3L284.3 460.1L284.9 458.8L285.4 457.6L286.0 456.3L286.6 455.1L287.2 453.9L287.7 452.7L288.3 451.5L288.9 450.4L289.5 449.2L290.0 448.1L290.6 446.9L291.2 445.8L291.8 444.7L292.3 443.6L292.9 442.5L293.5 441.4L294.1 440.3L294.6 439.2L295.2 438.1L295.8 437.1L296.4 436.0L296.9 434.9L297.5 433.9L298.1 432.9L298.6 431.8L299.2 430.8L299.8 429.8L300.4 428.7L300.9 427.7L301.5 426.7L302.1 425.8L302.7 424.8L303.2 423.8L303.8 422.9L304.4 421.9L305.0 421.0L305.5 420.1L306.1 419.2L306.7 418.3L307.3 417.4L307.8 416.5L308.4 415.7L309.0 414.8L309.6 414.0L310.1 413.2L310.7 412.4L311.3 411.5L311.9 410.8L312.4 410.0L313.0 409.2L313.6 408.5L314.2 407.7L314.7 407.0L315.3 406.3L315.9 405.6L316.5 404.9L317.0 404.2L317.6 403.5L318.2 402.8L318.8 402.2L319.3 401.6L319.9 400.9L320.5 400.3L321.0 399.7L321.6 399.2L322.2 398.6L322.8 398.0L323.3 397.4L323.9 396.9L324.5 396.3L325.1 395.8L325.6 395.3L326.2 394.7L326.8 394.2L327.4 393.7L327.9 393.2L328.5 392.7L329.1 392.2L329.7 391.8L330.2 391.3L330.8 390.9L331.4 390.4L332.0 390.0L332.5 389.6L333.1 389.2L333.7 388.8L334.3 388.5L334.8 388.1L335.4 387.8L336.0 387.5L336.6 387.2L337.1 386.9L337.7 386.6L338.3 386.3L338.9 386.0L339.4 385.8L340.0 385.5L340.6 385.3L341.2 385.0L341.7 384.8L342.3 384.6L342.9 384.5L343.5 384.3L344.0 384.2L344.6 384.1L345.2 384.0L345.7 384.0L346.3 383.9L346.9 384.0L347.5 384.0L348.0 384.1L348.6 384.2L349.2 384.3L349.8 384.5L350.3 384.7L350.9 384.9L351.5 385.1L352.1 385.4L352.6 385.6L353.2 385.9L353.8 386.2L354.4 386.6L354.9 387.0L355.5 387.3L356.1 387.7L356.7 388.2L357.2 388.6L357.8 389.1L358.4 389.6L359.0 390.1L359.5 390.6L360.1 391.1L360.7 391.7L361.3 392.2L361.8 392.8L362.4 393.4L363.0 394.0L363.6 394.7L364.1 395.3L364.7 396.0L365.3 396.6L365.9 397.3L366.4 398.0L367.0 398.7L367.6 399.5L368.2 400.2L368.7 400.9L369.3 401.7L369.9 402.5L370.4 403.2L371.0 404.0L371.6 404.8L372.2 405.6L372.7 406.4L373.3 407.2L373.9 408.1L374.5 408.9L375.0 409.8L375.6 410.7L376.2 411.6L376.8 412.5L377.3 413.5L377.9 414.4L378.5 415.4L379.1 416.4L379.6 417.4L380.2 418.4L380.8 419.5L381.4 420.5L381.9 421.6L382.5 422.6L383.1 423.7L383.7 424.8L384.2 425.9L384.8 427.0L385.4 428.2L386.0 429.3L386.5 430.4L387.1 431.6L387.7 432.7L388.3 433.9L388.8 435.0L389.4 436.2L390.0 437.4L390.6 438.5L391.1 439.7L391.7 440.9L392.3 442.0L392.8 443.2L393.4 444.4L394.0 445.6L394.6 446.7L395.1 447.9L395.7 449.1L396.3 450.2L396.9 451.4L397.4 452.5L398.0 453.7L398.6 454.9L399.2 456.1L399.7 457.3L400.3 458.5L400.9 459.7L401.5 460.9L402.0 462.1L402.6 463.3L403.2 464.6L403.8 465.8L404.3 467.1L404.9 468.3L405.5 469.6L406.1 470.9L406.6 472.2L407.2 473.5L407.8 474.8L408.4 476.1L408.9 477.4L409.5 478.7L410.1 480.0L410.7 481.4L411.2 482.7L411.8 484.1L412.4 485.4L413.0 486.8L413.5 488.2L414.1 489.5L414.7 490.9L415.3 492.3L415.8 493.8L416.4 495.2L417.0 496.6L417.5 498.0L418.1 499.5L418.7 500.9L419.3 502.4L419.8 503.9L420.4 505.3L421.0 506.8L421.6 508.3L422.1 509.8L422.7 511.3L423.3 512.9L423.9 514.4L424.4 515.9L425.0 517.5L425.6 519.0L426.2 520.6L426.7 522.2L427.3 523.8L427.9 525.4L428.5 527.0L429.0 528.6L429.6 530.2L430.2 531.8L430.8 533.5L431.3 535.1L431.9 536.8L432.5 538.5L433.1 540.1L433.6 541.8L434.2 543.5L434.8 545.2L435.4 546.9L435.9 548.7L436.5 550.4L437.1 552.1L437.7 553.9L438.2 555.7L438.8 557.4L439.4 559.2L440.0 561.0L440.5 562.8L441.1 564.6L441.7 566.5L442.2 568.3L442.8 570.1L443.4 572.0L444.0 573.8L444.5 575.7L445.1 577.6L445.7 579.5L446.3 581.4L446.8 583.3L447.4 585.2L448.0 587.1L448.6 589.0L449.1 591.0L449.7 592.9L450.3 594.8L450.9 596.8L451.4 598.7L452.0 600.7L452.6 602.6L453.2 604.6L453.7 606.6L454.3 608.6L454.9 610.5L455.5 612.5L456.0 614.5L456.6 616.5L457.2 618.5L457.8 620.5L458.3 622.5L458.9 624.5L459.5 626.6L460.1 628.6L460.6 630.6L461.2 632.6L461.8 634.7L462.4 636.7L462.9 638.8L463.5 640.8L464.1 642.9L464.6 644.9L465.2 647.0L465.8 649.1L466.4 651.1L466.9 653.2L467.5 655.3L468.1 657.3L468.7 659.4L469.2 661.5L469.8 663.6L470.4 665.7L471.0 667.8L471.5 669.9L472.1 672.0L472.7 674.1L473.3 676.2L473.8 678.3L474.4 680.4L475.0 682.5L475.6 684.6L476.1 686.8L476.7 688.9L477.3 691.0L477.9 693.1L478.4 695.3L479.0 697.4L479.6 699.5L480.2 701.7L480.7 703.8L481.3 705.9L481.9 708.1L482.5 710.2L483.0 712.3L483.6 714.5L484.2 716.6L484.8 718.8L485.3 720.9L485.9 723.1L486.5 725.2L487.1 727.4L487.6 729.5L488.2 731.7L488.8 733.8L489.3 736.0L489.9 738.1L490.5 740.3L491.1 742.4L491.6 744.6L492.2 746.7L492.8 748.9L493.4 751.0L493.9 753.2L494.5 755.3L495.1 757.5L495.7 759.7L496.2 761.8L496.8 764.0L497.4 766.2L498.0 768.4L498.5 770.5L499.1 772.7L499.7 774.9L500.3 777.1L500.8 779.3L501.4 781.5L502.0 783.7L502.6 785.9L503.1 788.1L503.7 790.3L504.3 792.5L504.9 794.7L505.4 796.9L506.0 799.1L506.6 801.3L507.2 803.5L507.7 805.7L508.3 807.9L508.9 810.1L509.5 812.3L510.0 814.5L510.6 816.7L511.2 818.8L511.8 821.0L512.3 823.2L512.9 825.4L513.5 827.6L514.0 829.8L514.6 832.0L515.2 834.1L515.8 836.3L516.3 838.5L516.9 840.6L517.5 842.8L518.1 845.0L518.6 847.1L519.2 849.3L519.8 851.4L520.4 853.6L520.9 855.7L521.5 857.8L522.1 859.9L522.7 862.1L523.2 864.2L523.8 866.3L524.4 868.4L525.0 870.5L525.5 872.6L526.1 874.6L526.7 876.7L527.3 878.8L527.8 880.8L528.4 882.9L529.0 884.9L529.6 887.0L530.1 889.0L530.7 891.0L531.3 893.0L531.9 895.0L532.4 897.0L533.0 899.0L533.6 900.9L534.2 902.9L534.7 904.9L535.3 906.8L535.9 908.7L536.4 910.6L537.0 912.6L537.6 914.5L538.2 916.3L538.7 918.2L539.3 920.1L539.9 921.9L540.5 923.8L541.0 925.6L541.6 927.4L542.2 929.2L542.8 931.0L543.3 932.8L543.9 934.6L544.5 936.3L545.1 938.0L545.6 939.8L546.2 941.5L546.8 943.2L547.4 944.9L547.9 946.5L548.5 948.2L549.1 949.9L549.7 951.5L550.2 953.1L550.8 954.7L551.4 956.3L552.0 957.9L552.5 959.5L553.1 961.1L553.7 962.6L554.3 964.1L554.8 965.7L555.4 967.2L556.0 968.7L556.6 970.2L557.1 971.7L557.7 973.1L558.3 974.6L558.9 976.0L559.4 977.5L560.0 978.9L560.6 980.3L561.1 981.7L561.7 983.1L562.3 984.5L562.9 985.8L563.4 987.2L564.0 988.5L564.6 989.9L565.2 991.2L565.7 992.5L566.3 993.8L566.9 995.1L567.5 996.4L568.0 997.7L568.6 998.9L569.2 1000.2L569.8 1001.4L570.3 1002.7L570.9 1003.9L571.5 1005.1L572.1 1006.3L572.6 1007.5L573.2 1008.7L573.8 1009.8L574.4 1011.0L574.9 1012.2L575.5 1013.3L576.1 1014.4L576.7 1015.6L577.2 1016.7L577.8 1017.8L578.4 1018.9L579.0 1020.0L579.5 1021.1L580.1 1022.2L580.7 1023.2L581.3 1024.3L581.8 1025.3L582.4 1026.4L583.0 1027.4L583.6 1028.4L584.1 1029.4L584.7 1030.5L585.3 1031.5L585.8 1032.5L586.4 1033.4L587.0 1034.4L587.6 1035.4L588.1 1036.4L588.7 1037.3L589.3 1038.3L589.9 1039.2L590.4 1040.1L591.0 1041.1L591.6 1042.0L592.2 1042.9L592.7 1043.8L593.3 1044.7L593.9 1045.6L594.5 1046.5L595.0 1047.3L595.6 1048.2L596.2 1049.0L596.8 1049.9L597.3 1050.7L597.9 1051.5L598.5 1052.3L599.1 1053.1L599.6 1053.9L600.2 1054.7L600.8 1055.4L601.4 1056.2L601.9 1056.9L602.5 1057.6L603.1 1058.4L603.7 1059.1L604.2 1059.8L604.8 1060.4L605.4 1061.1L606.0 1061.8L606.5 1062.4L607.1 1063.1L607.7 1063.7L608.2 1064.3L608.8 1064.9L609.4 1065.5L610.0 1066.1L610.5 1066.7L611.1 1067.2L611.7 1067.8L612.3 1068.3L612.8 1068.8L613.4 1069.3L614.0 1069.8L614.6 1070.3L615.1 1070.8L615.7 1071.2L616.3 1071.7L616.9 1072.1L617.4 1072.5L618.0 1072.9L618.6 1073.3L619.2 1073.7L619.7 1074.0L620.3 1074.4L620.9 1074.7L621.5 1075.1L622.0 1075.4L622.6 1075.7L623.2 1076.0L623.8 1076.2L624.3 1076.5L624.9 1076.7L625.5 1077.0L626.1 1077.2L626.6 1077.4L627.2 1077.6L627.8 1077.8L628.4 1077.9L628.9 1078.1L629.5 1078.2L630.1 1078.3L630.7 1078.4L631.2 1078.5L631.8 1078.6L632.4 1078.7L632.9 1078.7L633.5 1078.7L634.1 1078.8L634.7 1078.8L635.2 1078.7L635.8 1078.7L636.4 1078.7L637.0 1078.6L637.5 1078.6L638.1 1078.5L638.7 1078.4L639.3 1078.3L639.8 1078.1L640.4 1078.0L641.0 1077.8L641.6 1077.7L642.1 1077.5L642.7 1077.3L643.3 1077.1L643.9 1076.9L644.4 1076.6L645.0 1076.4L645.6 1076.1L646.2 1075.8L646.7 1075.6L647.3 1075.3L647.9 1075.0L648.5 1074.6L649.0 1074.3L649.6 1073.9L650.2 1073.6L650.8 1073.2L651.3 1072.8L651.9 1072.4L652.5 1072.0L653.1 1071.6L653.6 1071.1L654.2 1070.7L654.8 1070.2L655.4 1069.7L655.9 1069.2L656.5 1068.7L657.1 1068.2L657.6 1067.7L658.2 1067.1L658.8 1066.6L659.4 1066.0L659.9 1065.4L660.5 1064.8L661.1 1064.2L661.7 1063.6L662.2 1063.0L662.8 1062.3L663.4 1061.6L664.0 1061.0L664.5 1060.3L665.1 1059.6L665.7 1058.9L666.3 1058.1L666.8 1057.4L667.4 1056.6L668.0 1055.9L668.6 1055.1L669.1 1054.3L669.7 1053.5L670.3 1052.6L670.9 1051.8L671.4 1050.9L672.0 1050.1L672.6 1049.2L673.2 1048.3L673.7 1047.4L674.3 1046.5L674.9 1045.6L675.5 1044.6L676.0 1043.7L676.6 1042.7L677.2 1041.7L677.8 1040.7L678.3 1039.7L678.9 1038.7L679.5 1037.6L680.0 1036.6L680.6 1035.5L681.2 1034.4L681.8 1033.4L682.3 1032.3L682.9 1031.1L683.5 1030.0L684.1 1028.9L684.6 1027.7L685.2 1026.5L685.8 1025.4L686.4 1024.2L686.9 1022.9L687.5 1021.7L688.1 1020.5L688.7 1019.2L689.2 1018.0L689.8 1016.7L690.4 1015.4L691.0 1014.1L691.5 1012.8L692.1 1011.4L692.7 1010.1L693.3 1008.7L693.8 1007.3L694.4 1005.9L695.0 1004.4L695.6 1003.0L696.1 1001.5L696.7 1000.1L697.3 998.6L697.9 997.1L698.4 995.5L699.0 994.0L699.6 992.5L700.2 990.9L700.7 989.3L701.3 987.7L701.9 986.1L702.5 984.5L703.0 982.9L703.6 981.2L704.2 979.6L704.7 977.9L705.3 976.2L705.9 974.6L706.5 972.9L707.0 971.1L707.6 969.4L708.2 967.7L708.8 965.9L709.3 964.2L709.9 962.4L710.5 960.6L711.1 958.8L711.6 957.1L712.2 955.2L712.8 953.4L713.4 951.6L713.9 949.8L714.5 947.9L715.1 946.1L715.7 944.2L716.2 942.4L716.8 940.5L717.4 938.6L718.0 936.7L718.5 934.8L719.1 932.9L719.7 931.0L720.3 929.1L720.8 927.2L721.4 925.3L722.0 923.4L722.6 921.4L723.1 919.5L723.7 917.6L724.3 915.6L724.9 913.7L725.4 911.7L726.0 909.7L726.6 907.8L727.2 905.8L727.7 903.9L728.3 901.9L728.9 899.9L729.4 897.9L730.0 896.0L730.6 894.0L731.2 892.0L731.7 890.0L732.3 888.0L732.9 886.0L733.5 884.1L734.0 882.1L734.6 880.1L735.2 878.1L735.8 876.1L736.3 874.1L736.9 872.2L737.5 870.2L738.1 868.2L738.6 866.2L739.2 864.2L739.8 862.2L740.4 860.2L740.9 858.3L741.5 856.3L742.1 854.3L742.7 852.3L743.2 850.3L743.8 848.3L744.4 846.2L745.0 844.2L745.5 842.2L746.1 840.2L746.7 838.2L747.3 836.2L747.8 834.1L748.4 832.1L749.0 830.1L749.6 828.1L750.1 826.0L750.7 824.0L751.3 822.0L751.8 819.9L752.4 817.9L753.0 815.8L753.6 813.8L754.1 811.7L754.7 809.7L755.3 807.6L755.9 805.6L756.4 803.5L757.0 801.5L757.6 799.4L758.2 797.3L758.7 795.3L759.3 793.2L759.9 791.1L760.5 789.1L761.0 787.0L761.6 784.9L762.2 782.8L762.8 780.8L763.3 778.7L763.9 776.6L764.5 774.5L765.1 772.4L765.6 770.3L766.2 768.2L766.8 766.2L767.4 764.1L767.9 762.0L768.5 759.9L769.1 757.8L769.7 755.7L770.2 753.6L770.8 751.5L771.4 749.4L772.0 747.2L772.5 745.1L773.1 743.0L773.7 740.9L774.3 738.8L774.8 736.7L775.4 734.6L776.0 732.5L776.5 730.3L777.1 728.2L777.7 726.1L778.3 724.0L778.8 721.8L779.4 719.7L780.0 717.6L780.6 715.5L781.1 713.3L781.7 711.2L782.3 709.1L782.9 706.9L783.4 704.8L784.0 702.7L784.6 700.5L785.2 698.4L785.7 696.3L786.3 694.1L786.9 692.0L787.5 689.8L788.0 687.7L788.6 685.6L789.2 683.4L789.8 681.3L790.3 679.2L790.9 677.0L791.5 674.9L792.1 672.8L792.6 670.7L793.2 668.5L793.8 666.4L794.4 664.3L794.9 662.2L795.5 660.1L796.1 658.0L796.7 655.9L797.2 653.8L797.8 651.7L798.4 649.6L799.0 647.5L799.5 645.4L800.1 643.3L800.7 641.2L801.2 639.2L801.8 637.1L802.4 635.0L803.0 632.9L803.5 630.9L804.1 628.8L804.7 626.8L805.3 624.7L805.8 622.7L806.4 620.6L807.0 618.6L807.6 616.6L808.1 614.5L808.7 612.5L809.3 610.5L809.9 608.5L810.4 606.5L811.0 604.4L811.6 602.4L812.2 600.4L812.7 598.5L813.3 596.5L813.9 594.5L814.5 592.5L815.0 590.6L815.6 588.6L816.2 586.6L816.8 584.7L817.3 582.7L817.9 580.8L818.5 578.9L819.1 576.9L819.6 575.0L820.2 573.1L820.8 571.2L821.4 569.3L821.9 567.4L822.5 565.5L823.1 563.6L823.6 561.7L824.2 559.9L824.8 558.0L825.4 556.1L825.9 554.3L826.5 552.5L827.1 550.6L827.7 548.8L828.2 547.0L828.8 545.2L829.4 543.3L830.0 541.5L830.5 539.8L831.1 538.0L831.7 536.2L832.3 534.4L832.8 532.7L833.4 530.9L834.0 529.2L834.6 527.4L835.1 525.7L835.7 524.0L836.3 522.3L836.9 520.6L837.4 518.9L838.0 517.2L838.6 515.5L839.2 513.8L839.7 512.1L840.3 510.5L840.9 508.8L841.5 507.1L842.0 505.5L842.6 503.9L843.2 502.2L843.8 500.6L844.3 499.0L844.9 497.4L845.5 495.8L846.1 494.2L846.6 492.6L847.2 491.0L847.8 489.5L848.3 487.9L848.9 486.3L849.5 484.8L850.1 483.3L850.6 481.7L851.2 480.2L851.8 478.7L852.4 477.2L852.9 475.7L853.5 474.3L854.1 472.8L854.7 471.3L855.2 469.9L855.8 468.4L856.4 467.0L857.0 465.6L857.5 464.2L858.1 462.8L858.7 461.4L859.3 460.0L859.8 458.7L860.4 457.3L861.0 456.0L861.6 454.6L862.1 453.3L862.7 452.0L863.3 450.7L863.9 449.4L864.4 448.1L865.0 446.9L865.6 445.6L866.2 444.4L866.7 443.2L867.3 442.0L867.9 440.8L868.5 439.6L869.0 438.4L869.6 437.2L870.2 436.1L870.8 434.9L871.3 433.8L871.9 432.7L872.5 431.6L873.0 430.5L873.6 429.4L874.2 428.4L874.8 427.3L875.3 426.3L875.9 425.3L876.5 424.3L877.1 423.3L877.6 422.3L878.2 421.3L878.8 420.4L879.4 419.4L879.9 418.5L880.5 417.6L881.1 416.7L881.7 415.9L882.2 415.0L882.8 414.1L883.4 413.3L884.0 412.5L884.5 411.7L885.1 410.9L885.7 410.1L886.3 409.4L886.8 408.7L887.4 408.0L888.0 407.3L888.6 406.6L889.1 405.9L889.7 405.3L890.3 404.7L890.9 404.1L891.4 403.5L892.0 402.9L892.6 402.3L893.2 401.8L893.7 401.3L894.3 400.8L894.9 400.3L895.4 399.8L896.0 399.4L896.6 398.9L897.2 398.5L897.7 398.1L898.3 397.7L898.9 397.3L899.5 397.0L900.0 396.6L900.6 396.3L901.2 396.0L901.8 395.7L902.3 395.4L902.9 395.1L903.5 394.9L904.1 394.7L904.6 394.4L905.2 394.2L905.8 394.0L906.4 393.8L906.9 393.7L907.5 393.5L908.1 393.4L908.7 393.3L909.2 393.2L909.8 393.1L910.4 393.0L911.0 392.9L911.5 392.8L912.1 392.8L912.7 392.8L913.3 392.7L913.8 392.7L914.4 392.7L915.0 392.8L915.6 392.8L916.1 392.8L916.7 392.9L917.3 392.9L917.9 393.0L918.4 393.1L919.0 393.2L919.6 393.3L920.1 393.4L920.7 393.6L921.3 393.7L921.9 393.9L922.4 394.0L923.0 394.2L923.6 394.4L924.2 394.6L924.7 394.8L925.3 395.0L925.9 395.2L926.5 395.4L927.0 395.7L927.6 395.9L928.2 396.2L928.8 396.5L929.3 396.7L929.9 397.0L930.5 397.3L931.1 397.6L931.6 397.9L932.2 398.3L932.8 398.6L933.4 398.9L933.9 399.3L934.5 399.6L935.1 400.0L935.7 400.3L936.2 400.7L936.8 401.1L937.4 401.5L938.0 401.9L938.5 402.3L939.1 402.7L939.7 403.1L940.3 403.6L940.8 404.0L941.4 404.5L942.0 404.9L942.6 405.4L943.1 405.9L943.7 406.4L944.3 406.9L944.8 407.4L945.4 407.9L946.0 408.5L946.6 409.0L947.1 409.6L947.7 410.1L948.3 410.7L948.9 411.3L949.4 411.9L950.0 412.5L950.6 413.1L951.2 413.8L951.7 414.4L952.3 415.1L952.9 415.7L953.5 416.4L954.0 417.1L954.6 417.8L955.2 418.5L955.8 419.2L956.3 420.0L956.9 420.7L957.5 421.5L958.1 422.3L958.6 423.0L959.2 423.8L959.8 424.7L960.4 425.5L960.9 426.3L961.5 427.2L962.1 428.0L962.7 428.9L963.2 429.8L963.8 430.7L964.4 431.6L965.0 432.5L965.5 433.5L966.1 434.4L966.7 435.4L967.2 436.4L967.8 437.4L968.4 438.4L969.0 439.4L969.5 440.4L970.1 441.5L970.7 442.6L971.3 443.6L971.8 444.7L972.4 445.9L973.0 447.0L973.6 448.1L974.1 449.3L974.7 450.4L975.3 451.6L975.9 452.8L976.4 454.0L977.0 455.3L977.6 456.5L978.2 457.8L978.7 459.0L979.3 460.3L979.9 461.6L980.5 463.0L981.0 464.3L981.6 465.6L982.2 467.0L982.8 468.4L983.3 469.8L983.9 471.2L984.5 472.6L985.1 474.0L985.6 475.5L986.2 476.9L986.8 478.3L987.4 479.8L987.9 481.3L988.5 482.8L989.1 484.3L989.7 485.8L990.2 487.3L990.8 488.8L991.4 490.3L991.9 491.9L992.5 493.4L993.1 495.0L993.7 496.6L994.2 498.1L994.8 499.7L995.4 501.3L996.0 502.9L996.5 504.6L997.1 506.2L997.7 507.8L998.3 509.5L998.8 511.1L999.4 512.8L1000.0 514.5L1000.6 516.1L1001.1 517.8L1001.7 519.5L1002.3 521.2L1002.9 523.0L1003.4 524.7L1004.0 526.4L1004.6 528.1L1005.2 529.9L1005.7 531.7L1006.3 533.4L1006.9 535.2L1007.5 537.0L1008.0 538.8L1008.6 540.6L1009.2 542.4L1009.8 544.2L1010.3 546.0L1010.9 547.8L1011.5 549.6L1012.1 551.5L1012.6 553.3L1013.2 555.2L1013.8 557.0L1014.4 558.9L1014.9 560.8L1015.5 562.7L1016.1 564.6L1016.6 566.5L1017.2 568.4L1017.8 570.3L1018.4 572.2L1018.9 574.1L1019.5 576.0L1020.1 578.0L1020.7 579.9L1021.2 581.9L1021.8 583.8L1022.4 585.8L1023.0 587.7L1023.5 589.7L1024.1 591.7L1024.7 593.7L1025.3 595.7L1025.8 597.6L1026.4 599.6L1027.0 601.6L1027.6 603.7L1028.1 605.7L1028.7 607.7L1029.3 609.7L1029.9 611.7L1030.4 613.8L1031.0 615.8L1031.6 617.9L1032.2 619.9L1032.7 622.0L1033.3 624.0L1033.9 626.1L1034.5 628.2L1035.0 630.2L1035.6 632.3L1036.2 634.4L1036.8 636.5L1037.3 638.6L1037.9 640.7L1038.5 642.8L1039.0 644.9L1039.6 647.0L1040.2 649.2L1040.8 651.3L1041.3 653.4L1041.9 655.6L1042.5 657.7L1043.1 659.8L1043.6 662.0L1044.2 664.1L1044.8 666.3L1045.4 668.4L1045.9 670.6L1046.5 672.8L1047.1 674.9L1047.7 677.1L1048.2 679.3L1048.8 681.4L1049.4 683.6L1050.0 685.8L1050.5 688.0L1051.1 690.1L1051.7 692.3L1052.3 694.5L1052.8 696.7L1053.4 698.9L1054.0 701.1L1054.6 703.3L1055.1 705.5L1055.7 707.7L1056.3 709.8L1056.9 712.0L1057.4 714.2L1058.0 716.4L1058.6 718.6L1059.2 720.8L1059.7 723.0L1060.3 725.2L1060.9 727.4L1061.5 729.6L1062.0 731.8L1062.6 734.0L1063.2 736.2L1063.7 738.4L1064.3 740.6L1064.9 742.8L1065.5 745.0L1066.0 747.2L1066.6 749.3L1067.2 751.5L1067.8 753.7L1068.3 755.9L1068.9 758.1L1069.5 760.3L1070.1 762.4L1070.6 764.6L1071.2 766.8L1071.8 769.0L1072.4 771.1L1072.9 773.3L1073.5 775.4L1074.1 777.6L1074.7 779.8L1075.2 781.9L1075.8 784.1L1076.4 786.2L1077.0 788.3L1077.5 790.5L1078.1 792.6L1078.7 794.8L1079.3 796.9L1079.8 799.0L1080.4 801.1L1081.0 803.2L1081.6 805.3L1082.1 807.4L1082.7 809.5L1083.3 811.6L1083.9 813.7L1084.4 815.8L1085.0 817.9L1085.6 820.0L1086.2 822.1L1086.7 824.1L1087.3 826.2L1087.9 828.3L1088.4 830.3L1089.0 832.4L1089.6 834.4L1090.2 836.5L1090.7 838.5L1091.3 840.5L1091.9 842.6L1092.5 844.6L1093.0 846.6L1093.6 848.6L1094.2 850.6L1094.8 852.6L1095.3 854.6L1095.9 856.6L1096.5 858.6L1097.1 860.6L1097.6 862.5L1098.2 864.5L1098.8 866.5L1099.4 868.4L1099.9 870.4L1100.5 872.3L1101.1 874.3L1101.7 876.2L1102.2 878.1L1102.8 880.1L1103.4 882.0L1104.0 883.9L1104.5 885.8L1105.1 887.7L1105.7 889.6L1106.3 891.5L1106.8 893.4L1107.4 895.3L1108.0 897.1L1108.6 899.0L1109.1 900.8L1109.7 902.7L1110.3 904.5L1110.8 906.4L1111.4 908.2L1112.0 910.0L1112.6 911.9L1113.1 913.7L1113.7 915.5L1114.3 917.3L1114.9 919.1L1115.4 920.9L1116.0 922.6L1116.6 924.4L1117.2 926.2L1117.7 927.9L1118.3 929.7L1118.9 931.4L1119.5 933.2L1120.0 934.9L1120.6 936.6L1121.2 938.3L1121.8 940.1L1122.3 941.8L1122.9 943.5L1123.5 945.1L1124.1 946.8L1124.6 948.5L1125.2 950.2L1125.8 951.8L1126.4 953.5L1126.9 955.1L1127.5 956.8L1128.1 958.4L1128.7 960.0L1129.2 961.6L1129.8 963.2L1130.4 964.8L1131.0 966.5L1131.5 968.1L1132.1 969.6L1132.7 971.2L1133.3 972.8L1133.8 974.4L1134.4 976.0L1135.0 977.6L1135.5 979.1L1136.1 980.7L1136.7 982.2L1137.3 983.8L1137.8 985.3L1138.4 986.8L1139.0 988.4L1139.6 989.9L1140.1 991.4L1140.7 992.9L1141.3 994.4L1141.9 995.9L1142.4 997.4L1143.0 998.8L1143.6 1000.3L1144.2 1001.8L1144.7 1003.2L1145.3 1004.7L1145.9 1006.1L1146.5 1007.5L1147.0 1008.9L1147.6 1010.3L1148.2 1011.7L1148.8 1013.1L1149.3 1014.5L1149.9 1015.8L1150.5 1017.2L1151.1 1018.5L1151.6 1019.9L1152.2 1021.2L1152.8 1022.5L1153.4 1023.8L1153.9 1025.1L1154.5 1026.3L1155.1 1027.6L1155.7 1028.9L1156.2 1030.1L1156.8 1031.3L1157.4 1032.5L1158.0 1033.7L1158.5 1034.9L1159.1 1036.1L1159.7 1037.3L1160.2 1038.4L1160.8 1039.5L1161.4 1040.7L1162.0 1041.8L1162.5 1042.9L1163.1 1043.9L1163.7 1045.0L1164.3 1046.1L1164.8 1047.1L1165.4 1048.1L1166.0 1049.1L1166.6 1050.1L1167.1 1051.1L1167.7 1052.1L1168.3 1053.0L1168.9 1053.9L1169.4 1054.9L1170.0 1055.8L1170.6 1056.6L1171.2 1057.5L1171.7 1058.4L1172.3 1059.2L1172.9 1060.0L1173.5 1060.8L1174.0 1061.6L1174.6 1062.3L1175.2 1063.1L1175.8 1063.8L1176.3 1064.5L1176.9 1065.2L1177.5 1065.9L1178.1 1066.6L1178.6 1067.2L1179.2 1067.8L1179.8 1068.4L1180.4 1069.0L1180.9 1069.5L1181.5 1070.1L1182.1 1070.6L1182.6 1071.1L1183.2 1071.6L1183.8 1072.0L1184.4 1072.5L1184.9 1072.9L1185.5 1073.3L1186.1 1073.7L1186.7 1074.0L1187.2 1074.4L1187.8 1074.7L1188.4 1075.0L1189.0 1075.3L1189.5 1075.6L1190.1 1075.8L1190.7 1076.1L1191.3 1076.3L1191.8 1076.5L1192.4 1076.7L1193.0 1076.9L1193.6 1077.0L1194.1 1077.2L1194.7 1077.3L1195.3 1077.4L1195.9 1077.5L1196.4 1077.6L1197.0 1077.6L1197.6 1077.7L1198.2 1077.7L1198.7 1077.7L1199.3 1077.7L1199.9 1077.7L1200.5 1077.7L1201.0 1077.6L1201.6 1077.6L1202.2 1077.5L1202.8 1077.4L1203.3 1077.3L1203.9 1077.2L1204.5 1077.1L1205.1 1077.0L1205.6 1076.8L1206.2 1076.7L1206.8 1076.5L1207.3 1076.3L1207.9 1076.1L1208.5 1075.9L1209.1 1075.7L1209.6 1075.5L1210.2 1075.3L1210.8 1075.0L1211.4 1074.7L1211.9 1074.5L1212.5 1074.2L1213.1 1073.9L1213.7 1073.6L1214.2 1073.3L1214.8 1073.0L1215.4 1072.6L1216.0 1072.3L1216.5 1072.0L1217.1 1071.6L1217.7 1071.2L1218.3 1070.9L1218.8 1070.5L1219.4 1070.1L1220.0 1069.7L1220.6 1069.3L1221.1 1068.9L1221.7 1068.5L1222.3 1068.0L1222.9 1067.6L1223.4 1067.2L1224.0 1066.7L1224.6 1066.3L1225.2 1065.8L1225.7 1065.4L1226.3 1064.9L1226.9 1064.4L1227.5 1063.9L1228.0 1063.5L1228.6 1063.0L1229.2 1062.5L1229.8 1062.0L1230.3 1061.5L1230.9 1061.0L1231.5 1060.4L1232.0 1059.9L1232.6 1059.4L1233.2 1058.8L1233.8 1058.3L1234.3 1057.7L1234.9 1057.2L1235.5 1056.6L1236.1 1056.0L1236.6 1055.4L1237.2 1054.9L1237.8 1054.3L1238.4 1053.6L1238.9 1053.0L1239.5 1052.4L1240.1 1051.8L1240.7 1051.1L1241.2 1050.5L1241.8 1049.8L1242.4 1049.1L1243.0 1048.4L1243.5 1047.8L1244.1 1047.1L1244.7 1046.3L1245.3 1045.6L1245.8 1044.9L1246.4 1044.1L1247.0 1043.4L1247.6 1042.6L1248.1 1041.8L1248.7 1041.1L1249.3 1040.3L1249.9 1039.4L1250.4 1038.6L1251.0 1037.8L1251.6 1036.9L1252.2 1036.1L1252.7 1035.2L1253.3 1034.3L1253.9 1033.4L1254.4 1032.5L1255.0 1031.6L1255.6 1030.7L1256.2 1029.7L1256.7 1028.8L1257.3 1027.8L1257.9 1026.8L1258.5 1025.8L1259.0 1024.8L1259.6 1023.7L1260.2 1022.7L1260.8 1021.6L1261.3 1020.6L1261.9 1019.5L1262.5 1018.4L1263.1 1017.2L1263.6 1016.1L1264.2 1015.0L1264.8 1013.8L1265.4 1012.6L1265.9 1011.4L1266.5 1010.2L1267.1 1009.0L1267.7 1007.7L1268.2 1006.5L1268.8 1005.2L1269.4 1003.9L1270.0 1002.6L1270.5 1001.3L1271.1 999.9L1271.7 998.6L1272.3 997.2L1272.8 995.8L1273.4 994.4L1274.0 992.9L1274.6 991.5L1275.1 990.0L1275.7 988.5L1276.3 987.0L1276.9 985.5L1277.4 984.0L1278.0 982.4L1278.6 980.9L1279.1 979.3L1279.7 977.7L1280.3 976.1L1280.9 974.5L1281.4 972.8L1282.0 971.2L1282.6 969.5L1283.2 967.8L1283.7 966.1L1284.3 964.4L1284.9 962.7L1285.5 961.0L1286.0 959.2L1286.6 957.5L1287.2 955.7L1287.8 953.9L1288.3 952.1L1288.9 950.3L1289.5 948.5L1290.1 946.7L1290.6 944.8L1291.2 943.0L1291.8 941.1L1292.4 939.3L1292.9 937.4L1293.5 935.5L1294.1 933.6L1294.7 931.7L1295.2 929.8L1295.8 927.9L1296.4 925.9L1297.0 924.0L1297.5 922.0L1298.1 920.1L1298.7 918.1L1299.3 916.2L1299.8 914.2L1300.4 912.2L1301.0 910.2L1301.6 908.2L1302.1 906.2L1302.7 904.2L1303.3 902.2L1303.8 900.1L1304.4 898.1L1305.0 896.1L1305.6 894.0L1306.1 892.0L1306.7 890.0L1307.3 887.9L1307.9 885.9L1308.4 883.8L1309.0 881.7L1309.6 879.7L1310.2 877.6L1310.7 875.5L1311.3 873.4L1311.9 871.4L1312.5 869.3L1313.0 867.2L1313.6 865.1L1314.2 863.0L1314.8 861.0L1315.3 858.9L1315.9 856.8L1316.5 854.7L1317.1 852.6L1317.6 850.5L1318.2 848.4L1318.8 846.3L1319.4 844.3L1319.9 842.2L1320.5 840.1L1321.1 838.0L1321.7 835.9L1322.2 833.8L1322.8 831.8L1323.4 829.7L1324.0 827.6L1324.5 825.5L1325.1 823.5L1325.7 821.4L1326.2 819.3L1326.8 817.2L1327.4 815.1L1328.0 813.0L1328.5 810.9L1329.1 808.8L1329.7 806.7L1330.3 804.6L1330.8 802.5L1331.4 800.4L1332.0 798.3L1332.6 796.2L1333.1 794.1L1333.7 791.9L1334.3 789.8L1334.9 787.7L1335.4 785.6L1336.0 783.4L1336.6 781.3L1337.2 779.2L1337.7 777.0L1338.3 774.9L1338.9 772.8L1339.5 770.6L1340.0 768.5L1340.6 766.4L1341.2 764.2L1341.8 762.1L1342.3 759.9L1342.9 757.8L1343.5 755.6L1344.1 753.5L1344.6 751.3L1345.2 749.2L1345.8 747.1L1346.4 744.9L1346.9 742.8L1347.5 740.6L1348.1 738.5L1348.7 736.3L1349.2 734.2L1349.8 732.0L1350.4 729.9L1350.9 727.7L1351.5 725.6L1352.1 723.4L1352.7 721.3L1353.2 719.1L1353.8 717.0L1354.4 714.8L1355.0 712.7L1355.5 710.5L1356.1 708.4L1356.7 706.3L1357.3 704.1L1357.8 702.0L1358.4 699.8L1359.0 697.7L1359.6 695.6L1360.1 693.4L1360.7 691.3L1361.3 689.2L1361.9 687.1L1362.4 684.9L1363.0 682.8L1363.6 680.7L1364.2 678.6L1364.7 676.4L1365.3 674.3L1365.9 672.2L1366.5 670.1L1367.0 668.0L1367.6 665.9L1368.2 663.8L1368.8 661.7L1369.3 659.6L1369.9 657.5L1370.5 655.4L1371.1 653.3L1371.6 651.2L1372.2 649.2L1372.8 647.1L1373.4 645.0L1373.9 642.9L1374.5 640.9L1375.1 638.8L1375.6 636.8L1376.2 634.7L1376.8 632.7L1377.4 630.7L1377.9 628.7L1378.5 626.7L1379.1 624.6L1379.7 622.6L1380.2 620.7L1380.8 618.7L1381.4 616.7L1382.0 614.7L1382.5 612.8L1383.1 610.8L1383.7 608.8L1384.3 606.9L1384.8 605.0L1385.4 603.0L1386.0 601.1L1386.6 599.2L1387.1 597.3L1387.7 595.4L1388.3 593.5L1388.9 591.6L1389.4 589.7L1390.0 587.8L1390.6 585.9L1391.2 584.1L1391.7 582.2L1392.3 580.4L1392.9 578.5L1393.5 576.7L1394.0 574.8L1394.6 573.0L1395.2 571.2L1395.8 569.4L1396.3 567.6L1396.9 565.8L1397.5 564.0L1398.0 562.2L1398.6 560.4L1399.2 558.6L1399.8 556.9L1400.3 555.1L1400.9 553.4L1401.5 551.6L1402.1 549.9L1402.6 548.1L1403.2 546.4L1403.8 544.7L1404.4 543.0L1404.9 541.3L1405.5 539.6L1406.1 537.9L1406.7 536.2L1407.2 534.5L1407.8 532.8L1408.4 531.2L1409.0 529.5L1409.5 527.8L1410.1 526.2L1410.7 524.5L1411.3 522.9L1411.8 521.3L1412.4 519.6L1413.0 518.0L1413.6 516.4L1414.1 514.8L1414.7 513.2L1415.3 511.6L1415.9 510.0L1416.4 508.4L1417.0 506.8L1417.6 505.3L1418.2 503.7L1418.7 502.2L1419.3 500.6L1419.9 499.1L1420.5 497.5L1421.0 496.0L1421.6 494.5L1422.2 492.9L1422.7 491.4L1423.3 489.9L1423.9 488.4L1424.5 486.8L1425.0 485.3L1425.6 483.8L1426.2 482.3L1426.8 480.8L1427.3 479.3L1427.9 477.8L1428.5 476.3L1429.1 474.8L1429.6 473.3L1430.2 471.8L1430.8 470.3L1431.4 468.9L1431.9 467.4L1432.5 465.9L1433.1 464.5L1433.7 463.0L1434.2 461.6L1434.8 460.2L1435.4 458.7L1436.0 457.3L1436.5 455.9L1437.1 454.5L1437.7 453.1L1438.3 451.7L1438.8 450.3L1439.4 448.9L1440.0 447.6L1440.6 446.2L1441.1 444.9L1441.7 443.5L1442.3 442.2L1442.9 440.9L1443.4 439.6L1444.0 438.3L1444.6 437.0L1445.2 435.7L1445.7 434.5L1446.3 433.2L1446.9 432.0L1447.4 430.7L1448.0 429.5L1448.6 428.3L1449.2 427.1L1449.7 426.0L1450.3 424.8L1450.9 423.6L1451.5 422.5L1452.0 421.4L1452.6 420.3L1453.2 419.2L1453.8 418.1L1454.3 417.0L1454.9 416.0L1455.5 415.0L1456.1 414.0L1456.6 413.0L1457.2 412.0L1457.8 411.0L1458.4 410.1L1458.9 409.1L1459.5 408.2L1460.1 407.3L1460.7 406.4L1461.2 405.6L1461.8 404.7L1462.4 403.9L1463.0 403.1L1463.5 402.3L1464.1 401.5L1464.7 400.8L1465.3 400.0L1465.8 399.3L1466.4 398.6L1467.0 398.0L1467.6 397.3L1468.1 396.7L1468.7 396.1L1469.3 395.5L1469.8 394.9L1470.4 394.3L1471.0 393.8L1471.6 393.3L1472.1 392.8L1472.7 392.4L1473.3 391.9L1473.9 391.5L1474.4 391.1L1475.0 390.7L1475.6 390.4L1476.2 390.1L1476.7 389.7L1477.3 389.4L1477.9 389.2L1478.5 388.9L1479.0 388.7L1479.6 388.5L1480.2 388.3L1480.8 388.1L1481.3 387.9L1481.9 387.8L1482.5 387.7L1483.1 387.6L1483.6 387.5L1484.2 387.4L1484.8 387.3L1485.4 387.3L1485.9 387.3L1486.5 387.3L1487.1 387.3L1487.7 387.3L1488.2 387.4L1488.8 387.4L1489.4 387.5L1490.0 387.6L1490.5 387.7L1491.1 387.8L1491.7 388.0L1492.3 388.1L1492.8 388.3L1493.4 388.5L1494.0 388.7L1494.5 388.9L1495.1 389.1L1495.7 389.4L1496.3 389.6L1496.8 389.9L1497.4 390.2L1498.0 390.4L1498.6 390.7L1499.1 391.1L1499.7 391.4L1500.3 391.7L1500.9 392.1L1501.4 392.4L1502.0 392.8L1502.6 393.2L1503.2 393.6L1503.7 394.0L1504.3 394.4L1504.9 394.8L1505.5 395.3L1506.0 395.7L1506.6 396.2L1507.2 396.6L1507.8 397.1L1508.3 397.6L1508.9 398.1L1509.5 398.6L1510.1 399.1L1510.6 399.6L1511.2 400.1L1511.8 400.6L1512.4 401.1L1512.9 401.7L1513.5 402.2L1514.1 402.8L1514.7 403.3L1515.2 403.9L1515.8 404.5L1516.4 405.1L1517.0 405.6L1517.5 406.2L1518.1 406.8L1518.7 407.4L1519.2 408.0L1519.8 408.6L1520.4 409.2L1521.0 409.9L1521.5 410.5L1522.1 411.1L1522.7 411.8L1523.3 412.4L1523.8 413.1L1524.4 413.7L1525.0 414.4L1525.6 415.1L1526.1 415.8L1526.7 416.5L1527.3 417.2L1527.9 417.9L1528.4 418.7L1529.0 419.4L1529.6 420.2L1530.2 420.9L1530.7 421.7L1531.3 422.5L1531.9 423.2L1532.5 424.0L1533.0 424.8L1533.6 425.7L1534.2 426.5L1534.8 427.3L1535.3 428.2L1535.9 429.0L1536.5 429.9L1537.1 430.8L1537.6 431.6L1538.2 432.5L1538.8 433.5L1539.4 434.4L1539.9 435.3L1540.5 436.2L1541.1 437.2L1541.6 438.2L1542.2 439.1L1542.8 440.1L1543.4 441.1L1543.9 442.1L1544.5 443.1L1545.1 444.2L1545.7 445.2L1546.2 446.3L1546.8 447.3L1547.4 448.4L1548.0 449.5L1548.5 450.6L1549.1 451.7L1549.7 452.9L1550.3 454.0L1550.8 455.2L1551.4 456.3L1552.0 457.5L1552.6 458.7L1553.1 459.9L1553.7 461.1L1554.3 462.3L1554.9 463.6L1555.4 464.8L1556.0 466.1L1556.6 467.4L1557.2 468.7L1557.7 470.0L1558.3 471.3L1558.9 472.7L1559.5 474.0L1560.0 475.4L1560.6 476.8L1561.2 478.2L1561.8 479.6L1562.3 481.0L1562.9 482.4L1563.5 483.9L1564.1 485.3L1564.6 486.8L1565.2 488.3L1565.8 489.8L1566.3 491.3L1566.9 492.9L1567.5 494.4L1568.1 496.0L1568.6 497.6L1569.2 499.1L1569.8 500.7L1570.4 502.4L1570.9 504.0L1571.5 505.6L1572.1 507.2L1572.7 508.9L1573.2 510.5L1573.8 512.2L1574.4 513.9L1575.0 515.6L1575.5 517.3L1576.1 519.0L1576.7 520.7L1577.3 522.4L1577.8 524.1L1578.4 525.9L1579.0 527.6L1579.6 529.4L1580.1 531.2L1580.7 532.9L1581.3 534.7L1581.9 536.5L1582.4 538.3L1583.0 540.1L1583.6 541.9L1584.2 543.7L1584.7 545.6L1585.3 547.4L1585.9 549.3L1586.5 551.1L1587.0 553.0L1587.6 554.9L1588.2 556.7L1588.8 558.6L1589.3 560.5L1589.9 562.4L1590.5 564.3L1591.0 566.2L1591.6 568.2L1592.2 570.1L1592.8 572.0L1593.3 574.0L1593.9 575.9L1594.5 577.9L1595.1 579.8L1595.6 581.8L1596.2 583.7L1596.8 585.7L1597.4 587.7L1597.9 589.7L1598.5 591.7L1599.1 593.7L1599.7 595.7L1600.2 597.7L1600.8 599.7L1601.4 601.8L1602.0 603.8L1602.5 605.8L1603.1 607.9L1603.7 609.9L1604.3 611.9L1604.8 614.0L1605.4 616.1L1606.0 618.1L1606.6 620.2L1607.1 622.3L1607.7 624.3L1608.3 626.4L1608.9 628.5L1609.4 630.6L1610.0 632.7L1610.6 634.8L1611.2 636.9L1611.7 639.0L1612.3 641.1L1612.9 643.2L1613.4 645.3L1614.0 647.4L1614.6 649.5L1615.2 651.6L1615.7 653.8L1616.3 655.9L1616.9 658.0L1617.5 660.1L1618.0 662.3L1618.6 664.4L1619.2 666.6L1619.8 668.7L1620.3 670.8L1620.9 673.0L1621.5 675.1L1622.1 677.3L1622.6 679.5L1623.2 681.6L1623.8 683.8L1624.4 685.9L1624.9 688.1L1625.5 690.3L1626.1 692.4L1626.7 694.6L1627.2 696.8L1627.8 699.0L1628.4 701.1L1629.0 703.3L1629.5 705.5L1630.1 707.7L1630.7 709.8L1631.3 712.0L1631.8 714.2L1632.4 716.4L1633.0 718.6L1633.6 720.7L1634.1 722.9L1634.7 725.1L1635.3 727.3L1635.9 729.5L1636.4 731.7L1637.0 733.9" stroke="#ff0000" stroke-width="4.6" stroke-dasharray="22 8 6 8"/></g>
<g>
<use href="#di" x="201.0" y="459.1"/>
<use href="#di" x="249.8" y="565.0"/>
<use href="#di" x="298.6" y="431.8"/>
<use href="#di" x="347.5" y="384.0"/>
<use href="#di" x="396.3" y="450.2"/>
<use href="#di" x="445.1" y="577.6"/>
<use href="#di" x="493.9" y="753.2"/>
<use href="#di" x="542.8" y="931.0"/>
<use href="#di" x="591.6" y="1042.0"/>
<use href="#di" x="640.4" y="1078.0"/>
<use href="#di" x="689.2" y="1018.0"/>
<use href="#di" x="738.1" y="868.2"/>
<use href="#di" x="786.9" y="692.0"/>
<use href="#di" x="835.7" y="524.0"/>
<use href="#di" x="884.5" y="411.7"/>
<use href="#di" x="933.4" y="398.9"/>
<use href="#di" x="982.2" y="467.0"/>
<use href="#di" x="1031.0" y="615.8"/>
<use href="#di" x="1079.8" y="799.0"/>
<use href="#di" x="1128.7" y="960.0"/>
<use href="#di" x="1177.5" y="1065.9"/>
<use href="#di" x="1226.3" y="1064.9"/>
<use href="#di" x="1275.1" y="990.0"/>
<use href="#di" x="1324.0" y="827.6"/>
<use href="#di" x="1372.8" y="647.1"/>
<use href="#di" x="1421.6" y="494.5"/>
<use href="#di" x="1470.4" y="394.3"/>
<use href="#di" x="1519.2" y="408.0"/>
<use href="#di" x="1568.1" y="496.0"/>
<use href="#di" x="1616.9" y="658.0"/>
</g>
<g clip-path="url(#cm)" fill="none"><path d="M201.0 733.9L201.6 731.7L202.1 729.5L202.7 727.4L203.3 725.2L203.9 723.1L204.4 720.9L205.0 718.8L205.6 716.6L206.2 714.4L206.7 712.3L207.3 710.1L207.9 708.0L208.5 705.8L209.0 703.7L209.6 701.5L210.2 699.4L210.8 697.2L211.3 695.1L211.9 693.0L212.5 690.8L213.1 688.7L213.6 686.5L214.2 684.4L214.8 682.3L215.4 680.1L215.9 678.0L216.5 675.9L217.1 673.7L217.7 671.6L218.2 669.5L218.8 667.4L219.4 665.3L220.0 663.2L220.5 661.0L221.1 658.9L221.7 656.8L222.3 654.7L222.8 652.6L223.4 650.5L224.0 648.4L224.6 646.4L225.1 644.3L225.7 642.2L226.3 640.1L226.8 638.0L227.4 636.0L228.0 633.9L228.6 631.8L229.1 629.8L229.7 627.7L230.3 625.7L230.9 623.6L231.4 621.6L232.0 619.6L232.6 617.5L233.2 615.5L233.7 613.5L234.3 611.5L234.9 609.4L235.5 607.4L236.0 605.4L236.6 603.4L237.2 601.4L237.8 599.4L238.3 597.5L238.9 595.5L239.5 593.5L240.1 591.5L240.6 589.6L241.2 587.6L241.8 585.7L242.4 583.7L242.9 581.8L243.5 579.9L244.1 577.9L244.7 576.0L245.2 574.1L245.8 572.2L246.4 570.3L247.0 568.4L247.5 566.5L248.1 564.6L248.7 562.8L249.2 560.9L249.8 559.0L250.4 557.2L251.0 555.3L251.5 553.5L252.1 551.7L252.7 549.8L253.3 548.0L253.8 546.2L254.4 544.4L255.0 542.6L255.6 540.8L256.1 539.0L256.7 537.3L257.3 535.5L257.9 533.7L258.4 532.0L259.0 530.3L259.6 528.5L260.2 526.8L260.7 525.1L261.3 523.4L261.9 521.7L262.5 520.0L263.0 518.3L263.6 516.6L264.2 514.9L264.8 513.3L265.3 511.6L265.9 510.0L266.5 508.4L267.1 506.7L267.6 505.1L268.2 503.5L268.8 501.9L269.4 500.3L269.9 498.8L270.5 497.2L271.1 495.6L271.7 494.1L272.2 492.5L272.8 491.0L273.4 489.5L273.9 488.0L274.5 486.5L275.1 485.0L275.7 483.5L276.2 482.0L276.8 480.6L277.4 479.1L278.0 477.7L278.5 476.2L279.1 474.8L279.7 473.4L280.3 472.0L280.8 470.6L281.4 469.2L282.0 467.9L282.6 466.5L283.1 465.2L283.7 463.8L284.3 462.5L284.9 461.2L285.4 459.9L286.0 458.6L286.6 457.3L287.2 456.0L287.7 454.8L288.3 453.5L288.9 452.3L289.5 451.0L290.0 449.8L290.6 448.6L291.2 447.4L291.8 446.2L292.3 445.1L292.9 443.9L293.5 442.7L294.1 441.6L294.6 440.5L295.2 439.4L295.8 438.3L296.4 437.2L296.9 436.1L297.5 435.0L298.1 434.0L298.6 432.9L299.2 431.9L299.8 430.9L300.4 429.8L300.9 428.8L301.5 427.9L302.1 426.9L302.7 425.9L303.2 425.0L303.8 424.0L304.4 423.1L305.0 422.2L305.5 421.3L306.1 420.4L306.7 419.5L307.3 418.7L307.8 417.8L308.4 417.0L309.0 416.2L309.6 415.3L310.1 414.5L310.7 413.8L311.3 413.0L311.9 412.2L312.4 411.5L313.0 410.7L313.6 410.0L314.2 409.3L314.7 408.6L315.3 407.9L315.9 407.2L316.5 406.6L317.0 405.9L317.6 405.3L318.2 404.7L318.8 404.1L319.3 403.5L319.9 402.9L320.5 402.3L321.0 401.8L321.6 401.2L322.2 400.7L322.8 400.2L323.3 399.7L323.9 399.2L324.5 398.7L325.1 398.2L325.6 397.8L326.2 397.3L326.8 396.9L327.4 396.5L327.9 396.1L328.5 395.7L329.1 395.4L329.7 395.0L330.2 394.7L330.8 394.3L331.4 394.0L332.0 393.7L332.5 393.4L333.1 393.1L333.7 392.9L334.3 392.6L334.8 392.4L335.4 392.2L336.0 392.0L336.6 391.8L337.1 391.6L337.7 391.4L338.3 391.2L338.9 391.1L339.4 391.0L340.0 390.9L340.6 390.8L341.2 390.7L341.7 390.6L342.3 390.5L342.9 390.5L343.5 390.5L344.0 390.4L344.6 390.4L345.2 390.4L345.7 390.5L346.3 390.5L346.9 390.5L347.5 390.6L348.0 390.7L348.6 390.8L349.2 390.9L349.8 391.0L350.3 391.1L350.9 391.2L351.5 391.4L352.1 391.6L352.6 391.8L353.2 392.0L353.8 392.2L354.4 392.4L354.9 392.6L355.5 392.9L356.1 393.1L356.7 393.4L357.2 393.7L357.8 394.0L358.4 394.3L359.0 394.7L359.5 395.0L360.1 395.4L360.7 395.7L361.3 396.1L361.8 396.5L362.4 396.9L363.0 397.3L363.6 397.8L364.1 398.2L364.7 398.7L365.3 399.2L365.9 399.7L366.4 400.2L367.0 400.7L367.6 401.2L368.2 401.8L368.7 402.3L369.3 402.9L369.9 403.5L370.4 404.1L371.0 404.7L371.6 405.3L372.2 405.9L372.7 406.6L373.3 407.2L373.9 407.9L374.5 408.6L375.0 409.3L375.6 410.0L376.2 410.7L376.8 411.5L377.3 412.2L377.9 413.0L378.5 413.8L379.1 414.5L379.6 415.3L380.2 416.2L380.8 417.0L381.4 417.8L381.9 418.7L382.5 419.5L383.1 420.4L383.7 421.3L384.2 422.2L384.8 423.1L385.4 424.0L386.0 425.0L386.5 425.9L387.1 426.9L387.7 427.9L388.3 428.8L388.8 429.8L389.4 430.9L390.0 431.9L390.6 432.9L391.1 434.0L391.7 435.0L392.3 436.1L392.8 437.2L393.4 438.3L394.0 439.4L394.6 440.5L395.1 441.6L395.7 442.7L396.3 443.9L396.9 445.1L397.4 446.2L398.0 447.4L398.6 448.6L399.2 449.8L399.7 451.0L400.3 452.3L400.9 453.5L401.5 454.8L402.0 456.0L402.6 457.3L403.2 458.6L403.8 459.9L404.3 461.2L404.9 462.5L405.5 463.8L406.1 465.2L406.6 466.5L407.2 467.9L407.8 469.2L408.4 470.6L408.9 472.0L409.5 473.4L410.1 474.8L410.7 476.2L411.2 477.7L411.8 479.1L412.4 480.6L413.0 482.0L413.5 483.5L414.1 485.0L414.7 486.5L415.3 488.0L415.8 489.5L416.4 491.0L417.0 492.5L417.5 494.1L418.1 495.6L418.7 497.2L419.3 498.8L419.8 500.3L420.4 501.9L421.0 503.5L421.6 505.1L422.1 506.7L422.7 508.4L423.3 510.0L423.9 511.6L424.4 513.3L425.0 514.9L425.6 516.6L426.2 518.3L426.7 520.0L427.3 521.7L427.9 523.4L428.5 525.1L429.0 526.8L429.6 528.5L430.2 530.3L430.8 532.0L431.3 533.7L431.9 535.5L432.5 537.3L433.1 539.0L433.6 540.8L434.2 542.6L434.8 544.4L435.4 546.2L435.9 548.0L436.5 549.8L437.1 551.7L437.7 553.5L438.2 555.3L438.8 557.2L439.4 559.0L440.0 560.9L440.5 562.8L441.1 564.6L441.7 566.5L442.2 568.4L442.8 570.3L443.4 572.2L444.0 574.1L444.5 576.0L445.1 577.9L445.7 579.9L446.3 581.8L446.8 583.7L447.4 585.7L448.0 587.6L448.6 589.6L449.1 591.5L449.7 593.5L450.3 595.5L450.9 597.5L451.4 599.4L452.0 601.4L452.6 603.4L453.2 605.4L453.7 607.4L454.3 609.4L454.9 611.5L455.5 613.5L456.0 615.5L456.6 617.5L457.2 619.6L457.8 621.6L458.3 623.6L458.9 625.7L459.5 627.7L460.1 629.8L460.6 631.8L461.2 633.9L461.8 636.0L462.4 638.0L462.9 640.1L463.5 642.2L464.1 644.3L464.6 646.4L465.2 648.4L465.8 650.5L466.4 652.6L466.9 654.7L467.5 656.8L468.1 658.9L468.7 661.0L469.2 663.2L469.8 665.3L470.4 667.4L471.0 669.5L471.5 671.6L472.1 673.7L472.7 675.9L473.3 678.0L473.8 680.1L474.4 682.3L475.0 684.4L475.6 686.5L476.1 688.7L476.7 690.8L477.3 693.0L477.9 695.1L478.4 697.2L479.0 699.4L479.6 701.5L480.2 703.7L480.7 705.8L481.3 708.0L481.9 710.1L482.5 712.3L483.0 714.4L483.6 716.6L484.2 718.8L484.8 720.9L485.3 723.1L485.9 725.2L486.5 727.4L487.1 729.5L487.6 731.7L488.2 733.9L488.8 736.0L489.3 738.2L489.9 740.3L490.5 742.5L491.1 744.6L491.6 746.8L492.2 749.0L492.8 751.1L493.4 753.3L493.9 755.4L494.5 757.6L495.1 759.7L495.7 761.9L496.2 764.0L496.8 766.2L497.4 768.3L498.0 770.5L498.5 772.6L499.1 774.8L499.7 776.9L500.3 779.0L500.8 781.2L501.4 783.3L502.0 785.4L502.6 787.6L503.1 789.7L503.7 791.8L504.3 794.0L504.9 796.1L505.4 798.2L506.0 800.3L506.6 802.4L507.2 804.6L507.7 806.7L508.3 808.8L508.9 810.9L509.5 813.0L510.0 815.1L510.6 817.2L511.2 819.3L511.8 821.4L512.3 823.4L512.9 825.5L513.5 827.6L514.0 829.7L514.6 831.7L515.2 833.8L515.8 835.9L516.3 837.9L516.9 840.0L517.5 842.0L518.1 844.1L518.6 846.1L519.2 848.2L519.8 850.2L520.4 852.2L520.9 854.2L521.5 856.3L522.1 858.3L522.7 860.3L523.2 862.3L523.8 864.3L524.4 866.3L525.0 868.3L525.5 870.2L526.1 872.2L526.7 874.2L527.3 876.2L527.8 878.1L528.4 880.1L529.0 882.0L529.6 884.0L530.1 885.9L530.7 887.8L531.3 889.8L531.9 891.7L532.4 893.6L533.0 895.5L533.6 897.4L534.2 899.3L534.7 901.2L535.3 903.1L535.9 904.9L536.4 906.8L537.0 908.7L537.6 910.5L538.2 912.4L538.7 914.2L539.3 916.0L539.9 917.9L540.5 919.7L541.0 921.5L541.6 923.3L542.2 925.1L542.8 926.9L543.3 928.7L543.9 930.4L544.5 932.2L545.1 934.0L545.6 935.7L546.2 937.5L546.8 939.2L547.4 940.9L547.9 942.6L548.5 944.3L549.1 946.0L549.7 947.7L550.2 949.4L550.8 951.1L551.4 952.8L552.0 954.4L552.5 956.1L553.1 957.7L553.7 959.3L554.3 961.0L554.8 962.6L555.4 964.2L556.0 965.8L556.6 967.4L557.1 969.0L557.7 970.5L558.3 972.1L558.9 973.6L559.4 975.2L560.0 976.7L560.6 978.2L561.1 979.7L561.7 981.2L562.3 982.7L562.9 984.2L563.4 985.7L564.0 987.1L564.6 988.6L565.2 990.0L565.7 991.5L566.3 992.9L566.9 994.3L567.5 995.7L568.0 997.1L568.6 998.5L569.2 999.8L569.8 1001.2L570.3 1002.6L570.9 1003.9L571.5 1005.2L572.1 1006.5L572.6 1007.8L573.2 1009.1L573.8 1010.4L574.4 1011.7L574.9 1013.0L575.5 1014.2L576.1 1015.5L576.7 1016.7L577.2 1017.9L577.8 1019.1L578.4 1020.3L579.0 1021.5L579.5 1022.7L580.1 1023.8L580.7 1025.0L581.3 1026.1L581.8 1027.2L582.4 1028.4L583.0 1029.5L583.6 1030.6L584.1 1031.6L584.7 1032.7L585.3 1033.8L585.8 1034.8L586.4 1035.8L587.0 1036.9L587.6 1037.9L588.1 1038.9L588.7 1039.9L589.3 1040.8L589.9 1041.8L590.4 1042.7L591.0 1043.7L591.6 1044.6L592.2 1045.5L592.7 1046.4L593.3 1047.3L593.9 1048.2L594.5 1049.0L595.0 1049.9L595.6 1050.7L596.2 1051.6L596.8 1052.4L597.3 1053.2L597.9 1054.0L598.5 1054.7L599.1 1055.5L599.6 1056.2L600.2 1057.0L600.8 1057.7L601.4 1058.4L601.9 1059.1L602.5 1059.8L603.1 1060.5L603.7 1061.1L604.2 1061.8L604.8 1062.4L605.4 1063.0L606.0 1063.6L606.5 1064.2L607.1 1064.8L607.7 1065.4L608.2 1066.0L608.8 1066.5L609.4 1067.0L610.0 1067.5L610.5 1068.0L611.1 1068.5L611.7 1069.0L612.3 1069.5L612.8 1069.9L613.4 1070.4L614.0 1070.8L614.6 1071.2L615.1 1071.6L615.7 1072.0L616.3 1072.4L616.9 1072.7L617.4 1073.1L618.0 1073.4L618.6 1073.7L619.2 1074.0L619.7 1074.3L620.3 1074.6L620.9 1074.8L621.5 1075.1L622.0 1075.3L622.6 1075.6L623.2 1075.8L623.8 1076.0L624.3 1076.1L624.9 1076.3L625.5 1076.5L626.1 1076.6L626.6 1076.7L627.2 1076.9L627.8 1077.0L628.4 1077.0L628.9 1077.1L629.5 1077.2L630.1 1077.2L630.7 1077.3L631.2 1077.3L631.8 1077.3L632.4 1077.3L632.9 1077.3L633.5 1077.2L634.1 1077.2L634.7 1077.1L635.2 1077.0L635.8 1077.0L636.4 1076.9L637.0 1076.7L637.5 1076.6L638.1 1076.5L638.7 1076.3L639.3 1076.1L639.8 1076.0L640.4 1075.8L641.0 1075.6L641.6 1075.3L642.1 1075.1L642.7 1074.8L643.3 1074.6L643.9 1074.3L644.4 1074.0L645.0 1073.7L645.6 1073.4L646.2 1073.1L646.7 1072.7L647.3 1072.4L647.9 1072.0L648.5 1071.6L649.0 1071.2L649.6 1070.8L650.2 1070.4L650.8 1069.9L651.3 1069.5L651.9 1069.0L652.5 1068.5L653.1 1068.0L653.6 1067.5L654.2 1067.0L654.8 1066.5L655.4 1066.0L655.9 1065.4L656.5 1064.8L657.1 1064.2L657.6 1063.6L658.2 1063.0L658.8 1062.4L659.4 1061.8L659.9 1061.1L660.5 1060.5L661.1 1059.8L661.7 1059.1L662.2 1058.4L662.8 1057.7L663.4 1057.0L664.0 1056.2L664.5 1055.5L665.1 1054.7L665.7 1054.0L666.3 1053.2L666.8 1052.4L667.4 1051.6L668.0 1050.7L668.6 1049.9L669.1 1049.0L669.7 1048.2L670.3 1047.3L670.9 1046.4L671.4 1045.5L672.0 1044.6L672.6 1043.7L673.2 1042.7L673.7 1041.8L674.3 1040.8L674.9 1039.9L675.5 1038.9L676.0 1037.9L676.6 1036.9L677.2 1035.8L677.8 1034.8L678.3 1033.8L678.9 1032.7L679.5 1031.6L680.0 1030.6L680.6 1029.5L681.2 1028.4L681.8 1027.2L682.3 1026.1L682.9 1025.0L683.5 1023.8L684.1 1022.7L684.6 1021.5L685.2 1020.3L685.8 1019.1L686.4 1017.9L686.9 1016.7L687.5 1015.5L688.1 1014.2L688.7 1013.0L689.2 1011.7L689.8 1010.4L690.4 1009.1L691.0 1007.8L691.5 1006.5L692.1 1005.2L692.7 1003.9L693.3 1002.6L693.8 1001.2L694.4 999.8L695.0 998.5L695.6 997.1L696.1 995.7L696.7 994.3L697.3 992.9L697.9 991.5L698.4 990.0L699.0 988.6L699.6 987.1L700.2 985.7L700.7 984.2L701.3 982.7L701.9 981.2L702.5 979.7L703.0 978.2L703.6 976.7L704.2 975.2L704.7 973.6L705.3 972.1L705.9 970.5L706.5 969.0L707.0 967.4L707.6 965.8L708.2 964.2L708.8 962.6L709.3 961.0L709.9 959.3L710.5 957.7L711.1 956.1L711.6 954.4L712.2 952.8L712.8 951.1L713.4 949.4L713.9 947.7L714.5 946.0L715.1 944.3L715.7 942.6L716.2 940.9L716.8 939.2L717.4 937.5L718.0 935.7L718.5 934.0L719.1 932.2L719.7 930.4L720.3 928.7L720.8 926.9L721.4 925.1L722.0 923.3L722.6 921.5L723.1 919.7L723.7 917.9L724.3 916.0L724.9 914.2L725.4 912.4L726.0 910.5L726.6 908.7L727.2 906.8L727.7 904.9L728.3 903.1L728.9 901.2L729.4 899.3L730.0 897.4L730.6 895.5L731.2 893.6L731.7 891.7L732.3 889.8L732.9 887.8L733.5 885.9L734.0 884.0L734.6 882.0L735.2 880.1L735.8 878.1L736.3 876.2L736.9 874.2L737.5 872.2L738.1 870.2L738.6 868.3L739.2 866.3L739.8 864.3L740.4 862.3L740.9 860.3L741.5 858.3L742.1 856.3L742.7 854.2L743.2 852.2L743.8 850.2L744.4 848.2L745.0 846.1L745.5 844.1L746.1 842.0L746.7 840.0L747.3 837.9L747.8 835.9L748.4 833.8L749.0 831.7L749.6 829.7L750.1 827.6L750.7 825.5L751.3 823.4L751.8 821.4L752.4 819.3L753.0 817.2L753.6 815.1L754.1 813.0L754.7 810.9L755.3 808.8L755.9 806.7L756.4 804.6L757.0 802.4L757.6 800.3L758.2 798.2L758.7 796.1L759.3 794.0L759.9 791.8L760.5 789.7L761.0 787.6L761.6 785.4L762.2 783.3L762.8 781.2L763.3 779.0L763.9 776.9L764.5 774.8L765.1 772.6L765.6 770.5L766.2 768.3L766.8 766.2L767.4 764.0L767.9 761.9L768.5 759.7L769.1 757.6L769.7 755.4L770.2 753.3L770.8 751.1L771.4 749.0L772.0 746.8L772.5 744.6L773.1 742.5L773.7 740.3L774.3 738.2L774.8 736.0L775.4 733.9L776.0 731.7L776.5 729.5L777.1 727.4L777.7 725.2L778.3 723.1L778.8 720.9L779.4 718.8L780.0 716.6L780.6 714.4L781.1 712.3L781.7 710.1L782.3 708.0L782.9 705.8L783.4 703.7L784.0 701.5L784.6 699.4L785.2 697.2L785.7 695.1L786.3 693.0L786.9 690.8L787.5 688.7L788.0 686.5L788.6 684.4L789.2 682.3L789.8 680.1L790.3 678.0L790.9 675.9L791.5 673.7L792.1 671.6L792.6 669.5L793.2 667.4L793.8 665.3L794.4 663.2L794.9 661.0L795.5 658.9L796.1 656.8L796.7 654.7L797.2 652.6L797.8 650.5L798.4 648.4L799.0 646.4L799.5 644.3L800.1 642.2L800.7 640.1L801.2 638.0L801.8 636.0L802.4 633.9L803.0 631.8L803.5 629.8L804.1 627.7L804.7 625.7L805.3 623.6L805.8 621.6L806.4 619.6L807.0 617.5L807.6 615.5L808.1 613.5L808.7 611.5L809.3 609.4L809.9 607.4L810.4 605.4L811.0 603.4L811.6 601.4L812.2 599.4L812.7 597.5L813.3 595.5L813.9 593.5L814.5 591.5L815.0 589.6L815.6 587.6L816.2 585.7L816.8 583.7L817.3 581.8L817.9 579.9L818.5 577.9L819.1 576.0L819.6 574.1L820.2 572.2L820.8 570.3L821.4 568.4L821.9 566.5L822.5 564.6L823.1 562.8L823.6 560.9L824.2 559.0L824.8 557.2L825.4 555.3L825.9 553.5L826.5 551.7L827.1 549.8L827.7 548.0L828.2 546.2L828.8 544.4L829.4 542.6L830.0 540.8L830.5 539.0L831.1 537.3L831.7 535.5L832.3 533.7L832.8 532.0L833.4 530.3L834.0 528.5L834.6 526.8L835.1 525.1L835.7 523.4L836.3 521.7L836.9 520.0L837.4 518.3L838.0 516.6L838.6 514.9L839.2 513.3L839.7 511.6L840.3 510.0L840.9 508.4L841.5 506.7L842.0 505.1L842.6 503.5L843.2 501.9L843.8 500.3L844.3 498.8L844.9 497.2L845.5 495.6L846.1 494.1L846.6 492.5L847.2 491.0L847.8 489.5L848.3 488.0L848.9 486.5L849.5 485.0L850.1 483.5L850.6 482.0L851.2 480.6L851.8 479.1L852.4 477.7L852.9 476.2L853.5 474.8L854.1 473.4L854.7 472.0L855.2 470.6L855.8 469.2L856.4 467.9L857.0 466.5L857.5 465.2L858.1 463.8L858.7 462.5L859.3 461.2L859.8 459.9L860.4 458.6L861.0 457.3L861.6 456.0L862.1 454.8L862.7 453.5L863.3 452.3L863.9 451.0L864.4 449.8L865.0 448.6L865.6 447.4L866.2 446.2L866.7 445.1L867.3 443.9L867.9 442.7L868.5 441.6L869.0 440.5L869.6 439.4L870.2 438.3L870.8 437.2L871.3 436.1L871.9 435.0L872.5 434.0L873.0 432.9L873.6 431.9L874.2 430.9L874.8 429.8L875.3 428.8L875.9 427.9L876.5 426.9L877.1 425.9L877.6 425.0L878.2 424.0L878.8 423.1L879.4 422.2L879.9 421.3L880.5 420.4L881.1 419.5L881.7 418.7L882.2 417.8L882.8 417.0L883.4 416.2L884.0 415.3L884.5 414.5L885.1 413.8L885.7 413.0L886.3 412.2L886.8 411.5L887.4 410.7L888.0 410.0L888.6 409.3L889.1 408.6L889.7 407.9L890.3 407.2L890.9 406.6L891.4 405.9L892.0 405.3L892.6 404.7L893.2 404.1L893.7 403.5L894.3 402.9L894.9 402.3L895.4 401.8L896.0 401.2L896.6 400.7L897.2 400.2L897.7 399.7L898.3 399.2L898.9 398.7L899.5 398.2L900.0 397.8L900.6 397.3L901.2 396.9L901.8 396.5L902.3 396.1L902.9 395.7L903.5 395.4L904.1 395.0L904.6 394.7L905.2 394.3L905.8 394.0L906.4 393.7L906.9 393.4L907.5 393.1L908.1 392.9L908.7 392.6L909.2 392.4L909.8 392.2L910.4 392.0L911.0 391.8L911.5 391.6L912.1 391.4L912.7 391.2L913.3 391.1L913.8 391.0L914.4 390.9L915.0 390.8L915.6 390.7L916.1 390.6L916.7 390.5L917.3 390.5L917.9 390.5L918.4 390.4L919.0 390.4L919.6 390.4L920.1 390.5L920.7 390.5L921.3 390.5L921.9 390.6L922.4 390.7L923.0 390.8L923.6 390.9L924.2 391.0L924.7 391.1L925.3 391.2L925.9 391.4L926.5 391.6L927.0 391.8L927.6 392.0L928.2 392.2L928.8 392.4L929.3 392.6L929.9 392.9L930.5 393.1L931.1 393.4L931.6 393.7L932.2 394.0L932.8 394.3L933.4 394.7L933.9 395.0L934.5 395.4L935.1 395.7L935.7 396.1L936.2 396.5L936.8 396.9L937.4 397.3L938.0 397.8L938.5 398.2L939.1 398.7L939.7 399.2L940.3 399.7L940.8 400.2L941.4 400.7L942.0 401.2L942.6 401.8L943.1 402.3L943.7 402.9L944.3 403.5L944.8 404.1L945.4 404.7L946.0 405.3L946.6 405.9L947.1 406.6L947.7 407.2L948.3 407.9L948.9 408.6L949.4 409.3L950.0 410.0L950.6 410.7L951.2 411.5L951.7 412.2L952.3 413.0L952.9 413.8L953.5 414.5L954.0 415.3L954.6 416.2L955.2 417.0L955.8 417.8L956.3 418.7L956.9 419.5L957.5 420.4L958.1 421.3L958.6 422.2L959.2 423.1L959.8 424.0L960.4 425.0L960.9 425.9L961.5 426.9L962.1 427.9L962.7 428.8L963.2 429.8L963.8 430.9L964.4 431.9L965.0 432.9L965.5 434.0L966.1 435.0L966.7 436.1L967.2 437.2L967.8 438.3L968.4 439.4L969.0 440.5L969.5 441.6L970.1 442.7L970.7 443.9L971.3 445.1L971.8 446.2L972.4 447.4L973.0 448.6L973.6 449.8L974.1 451.0L974.7 452.3L975.3 453.5L975.9 454.8L976.4 456.0L977.0 457.3L977.6 458.6L978.2 459.9L978.7 461.2L979.3 462.5L979.9 463.8L980.5 465.2L981.0 466.5L981.6 467.9L982.2 469.2L982.8 470.6L983.3 472.0L983.9 473.4L984.5 474.8L985.1 476.2L985.6 477.7L986.2 479.1L986.8 480.6L987.4 482.0L987.9 483.5L988.5 485.0L989.1 486.5L989.7 488.0L990.2 489.5L990.8 491.0L991.4 492.5L991.9 494.1L992.5 495.6L993.1 497.2L993.7 498.8L994.2 500.3L994.8 501.9L995.4 503.5L996.0 505.1L996.5 506.7L997.1 508.4L997.7 510.0L998.3 511.6L998.8 513.3L999.4 514.9L1000.0 516.6L1000.6 518.3L1001.1 520.0L1001.7 521.7L1002.3 523.4L1002.9 525.1L1003.4 526.8L1004.0 528.5L1004.6 530.3L1005.2 532.0L1005.7 533.7L1006.3 535.5L1006.9 537.3L1007.5 539.0L1008.0 540.8L1008.6 542.6L1009.2 544.4L1009.8 546.2L1010.3 548.0L1010.9 549.8L1011.5 551.7L1012.1 553.5L1012.6 555.3L1013.2 557.2L1013.8 559.0L1014.4 560.9L1014.9 562.8L1015.5 564.6L1016.1 566.5L1016.6 568.4L1017.2 570.3L1017.8 572.2L1018.4 574.1L1018.9 576.0L1019.5 577.9L1020.1 579.9L1020.7 581.8L1021.2 583.7L1021.8 585.7L1022.4 587.6L1023.0 589.6L1023.5 591.5L1024.1 593.5L1024.7 595.5L1025.3 597.5L1025.8 599.4L1026.4 601.4L1027.0 603.4L1027.6 605.4L1028.1 607.4L1028.7 609.4L1029.3 611.5L1029.9 613.5L1030.4 615.5L1031.0 617.5L1031.6 619.6L1032.2 621.6L1032.7 623.6L1033.3 625.7L1033.9 627.7L1034.5 629.8L1035.0 631.8L1035.6 633.9L1036.2 636.0L1036.8 638.0L1037.3 640.1L1037.9 642.2L1038.5 644.3L1039.0 646.4L1039.6 648.4L1040.2 650.5L1040.8 652.6L1041.3 654.7L1041.9 656.8L1042.5 658.9L1043.1 661.0L1043.6 663.2L1044.2 665.3L1044.8 667.4L1045.4 669.5L1045.9 671.6L1046.5 673.7L1047.1 675.9L1047.7 678.0L1048.2 680.1L1048.8 682.3L1049.4 684.4L1050.0 686.5L1050.5 688.7L1051.1 690.8L1051.7 693.0L1052.3 695.1L1052.8 697.2L1053.4 699.4L1054.0 701.5L1054.6 703.7L1055.1 705.8L1055.7 708.0L1056.3 710.1L1056.9 712.3L1057.4 714.4L1058.0 716.6L1058.6 718.8L1059.2 720.9L1059.7 723.1L1060.3 725.2L1060.9 727.4L1061.5 729.5L1062.0 731.7L1062.6 733.9L1063.2 736.0L1063.7 738.2L1064.3 740.3L1064.9 742.5L1065.5 744.6L1066.0 746.8L1066.6 749.0L1067.2 751.1L1067.8 753.3L1068.3 755.4L1068.9 757.6L1069.5 759.7L1070.1 761.9L1070.6 764.0L1071.2 766.2L1071.8 768.3L1072.4 770.5L1072.9 772.6L1073.5 774.8L1074.1 776.9L1074.7 779.0L1075.2 781.2L1075.8 783.3L1076.4 785.4L1077.0 787.6L1077.5 789.7L1078.1 791.8L1078.7 794.0L1079.3 796.1L1079.8 798.2L1080.4 800.3L1081.0 802.4L1081.6 804.6L1082.1 806.7L1082.7 808.8L1083.3 810.9L1083.9 813.0L1084.4 815.1L1085.0 817.2L1085.6 819.3L1086.2 821.4L1086.7 823.4L1087.3 825.5L1087.9 827.6L1088.4 829.7L1089.0 831.7L1089.6 833.8L1090.2 835.9L1090.7 837.9L1091.3 840.0L1091.9 842.0L1092.5 844.1L1093.0 846.1L1093.6 848.2L1094.2 850.2L1094.8 852.2L1095.3 854.2L1095.9 856.3L1096.5 858.3L1097.1 860.3L1097.6 862.3L1098.2 864.3L1098.8 866.3L1099.4 868.3L1099.9 870.2L1100.5 872.2L1101.1 874.2L1101.7 876.2L1102.2 878.1L1102.8 880.1L1103.4 882.0L1104.0 884.0L1104.5 885.9L1105.1 887.8L1105.7 889.8L1106.3 891.7L1106.8 893.6L1107.4 895.5L1108.0 897.4L1108.6 899.3L1109.1 901.2L1109.7 903.1L1110.3 904.9L1110.8 906.8L1111.4 908.7L1112.0 910.5L1112.6 912.4L1113.1 914.2L1113.7 916.0L1114.3 917.9L1114.9 919.7L1115.4 921.5L1116.0 923.3L1116.6 925.1L1117.2 926.9L1117.7 928.7L1118.3 930.4L1118.9 932.2L1119.5 934.0L1120.0 935.7L1120.6 937.5L1121.2 939.2L1121.8 940.9L1122.3 942.6L1122.9 944.3L1123.5 946.0L1124.1 947.7L1124.6 949.4L1125.2 951.1L1125.8 952.8L1126.4 954.4L1126.9 956.1L1127.5 957.7L1128.1 959.3L1128.7 961.0L1129.2 962.6L1129.8 964.2L1130.4 965.8L1131.0 967.4L1131.5 969.0L1132.1 970.5L1132.7 972.1L1133.3 973.6L1133.8 975.2L1134.4 976.7L1135.0 978.2L1135.5 979.7L1136.1 981.2L1136.7 982.7L1137.3 984.2L1137.8 985.7L1138.4 987.1L1139.0 988.6L1139.6 990.0L1140.1 991.5L1140.7 992.9L1141.3 994.3L1141.9 995.7L1142.4 997.1L1143.0 998.5L1143.6 999.8L1144.2 1001.2L1144.7 1002.6L1145.3 1003.9L1145.9 1005.2L1146.5 1006.5L1147.0 1007.8L1147.6 1009.1L1148.2 1010.4L1148.8 1011.7L1149.3 1013.0L1149.9 1014.2L1150.5 1015.5L1151.1 1016.7L1151.6 1017.9L1152.2 1019.1L1152.8 1020.3L1153.4 1021.5L1153.9 1022.7L1154.5 1023.8L1155.1 1025.0L1155.7 1026.1L1156.2 1027.2L1156.8 1028.4L1157.4 1029.5L1158.0 1030.6L1158.5 1031.6L1159.1 1032.7L1159.7 1033.8L1160.2 1034.8L1160.8 1035.8L1161.4 1036.9L1162.0 1037.9L1162.5 1038.9L1163.1 1039.9L1163.7 1040.8L1164.3 1041.8L1164.8 1042.7L1165.4 1043.7L1166.0 1044.6L1166.6 1045.5L1167.1 1046.4L1167.7 1047.3L1168.3 1048.2L1168.9 1049.0L1169.4 1049.9L1170.0 1050.7L1170.6 1051.6L1171.2 1052.4L1171.7 1053.2L1172.3 1054.0L1172.9 1054.7L1173.5 1055.5L1174.0 1056.2L1174.6 1057.0L1175.2 1057.7L1175.8 1058.4L1176.3 1059.1L1176.9 1059.8L1177.5 1060.5L1178.1 1061.1L1178.6 1061.8L1179.2 1062.4L1179.8 1063.0L1180.4 1063.6L1180.9 1064.2L1181.5 1064.8L1182.1 1065.4L1182.6 1066.0L1183.2 1066.5L1183.8 1067.0L1184.4 1067.5L1184.9 1068.0L1185.5 1068.5L1186.1 1069.0L1186.7 1069.5L1187.2 1069.9L1187.8 1070.4L1188.4 1070.8L1189.0 1071.2L1189.5 1071.6L1190.1 1072.0L1190.7 1072.4L1191.3 1072.7L1191.8 1073.1L1192.4 1073.4L1193.0 1073.7L1193.6 1074.0L1194.1 1074.3L1194.7 1074.6L1195.3 1074.8L1195.9 1075.1L1196.4 1075.3L1197.0 1075.6L1197.6 1075.8L1198.2 1076.0L1198.7 1076.1L1199.3 1076.3L1199.9 1076.5L1200.5 1076.6L1201.0 1076.7L1201.6 1076.9L1202.2 1077.0L1202.8 1077.0L1203.3 1077.1L1203.9 1077.2L1204.5 1077.2L1205.1 1077.3L1205.6 1077.3L1206.2 1077.3L1206.8 1077.3L1207.3 1077.3L1207.9 1077.2L1208.5 1077.2L1209.1 1077.1L1209.6 1077.0L1210.2 1077.0L1210.8 1076.9L1211.4 1076.7L1211.9 1076.6L1212.5 1076.5L1213.1 1076.3L1213.7 1076.1L1214.2 1076.0L1214.8 1075.8L1215.4 1075.6L1216.0 1075.3L1216.5 1075.1L1217.1 1074.8L1217.7 1074.6L1218.3 1074.3L1218.8 1074.0L1219.4 1073.7L1220.0 1073.4L1220.6 1073.1L1221.1 1072.7L1221.7 1072.4L1222.3 1072.0L1222.9 1071.6L1223.4 1071.2L1224.0 1070.8L1224.6 1070.4L1225.2 1069.9L1225.7 1069.5L1226.3 1069.0L1226.9 1068.5L1227.5 1068.0L1228.0 1067.5L1228.6 1067.0L1229.2 1066.5L1229.8 1066.0L1230.3 1065.4L1230.9 1064.8L1231.5 1064.2L1232.0 1063.6L1232.6 1063.0L1233.2 1062.4L1233.8 1061.8L1234.3 1061.1L1234.9 1060.5L1235.5 1059.8L1236.1 1059.1L1236.6 1058.4L1237.2 1057.7L1237.8 1057.0L1238.4 1056.2L1238.9 1055.5L1239.5 1054.7L1240.1 1054.0L1240.7 1053.2L1241.2 1052.4L1241.8 1051.6L1242.4 1050.7L1243.0 1049.9L1243.5 1049.0L1244.1 1048.2L1244.7 1047.3L1245.3 1046.4L1245.8 1045.5L1246.4 1044.6L1247.0 1043.7L1247.6 1042.7L1248.1 1041.8L1248.7 1040.8L1249.3 1039.9L1249.9 1038.9L1250.4 1037.9L1251.0 1036.9L1251.6 1035.8L1252.2 1034.8L1252.7 1033.8L1253.3 1032.7L1253.9 1031.6L1254.4 1030.6L1255.0 1029.5L1255.6 1028.4L1256.2 1027.2L1256.7 1026.1L1257.3 1025.0L1257.9 1023.8L1258.5 1022.7L1259.0 1021.5L1259.6 1020.3L1260.2 1019.1L1260.8 1017.9L1261.3 1016.7L1261.9 1015.5L1262.5 1014.2L1263.1 1013.0L1263.6 1011.7L1264.2 1010.4L1264.8 1009.1L1265.4 1007.8L1265.9 1006.5L1266.5 1005.2L1267.1 1003.9L1267.7 1002.6L1268.2 1001.2L1268.8 999.8L1269.4 998.5L1270.0 997.1L1270.5 995.7L1271.1 994.3L1271.7 992.9L1272.3 991.5L1272.8 990.0L1273.4 988.6L1274.0 987.1L1274.6 985.7L1275.1 984.2L1275.7 982.7L1276.3 981.2L1276.9 979.7L1277.4 978.2L1278.0 976.7L1278.6 975.2L1279.1 973.6L1279.7 972.1L1280.3 970.5L1280.9 969.0L1281.4 967.4L1282.0 965.8L1282.6 964.2L1283.2 962.6L1283.7 961.0L1284.3 959.3L1284.9 957.7L1285.5 956.1L1286.0 954.4L1286.6 952.8L1287.2 951.1L1287.8 949.4L1288.3 947.7L1288.9 946.0L1289.5 944.3L1290.1 942.6L1290.6 940.9L1291.2 939.2L1291.8 937.5L1292.4 935.7L1292.9 934.0L1293.5 932.2L1294.1 930.4L1294.7 928.7L1295.2 926.9L1295.8 925.1L1296.4 923.3L1297.0 921.5L1297.5 919.7L1298.1 917.9L1298.7 916.0L1299.3 914.2L1299.8 912.4L1300.4 910.5L1301.0 908.7L1301.6 906.8L1302.1 904.9L1302.7 903.1L1303.3 901.2L1303.8 899.3L1304.4 897.4L1305.0 895.5L1305.6 893.6L1306.1 891.7L1306.7 889.8L1307.3 887.8L1307.9 885.9L1308.4 884.0L1309.0 882.0L1309.6 880.1L1310.2 878.1L1310.7 876.2L1311.3 874.2L1311.9 872.2L1312.5 870.2L1313.0 868.3L1313.6 866.3L1314.2 864.3L1314.8 862.3L1315.3 860.3L1315.9 858.3L1316.5 856.3L1317.1 854.2L1317.6 852.2L1318.2 850.2L1318.8 848.2L1319.4 846.1L1319.9 844.1L1320.5 842.0L1321.1 840.0L1321.7 837.9L1322.2 835.9L1322.8 833.8L1323.4 831.7L1324.0 829.7L1324.5 827.6L1325.1 825.5L1325.7 823.4L1326.2 821.4L1326.8 819.3L1327.4 817.2L1328.0 815.1L1328.5 813.0L1329.1 810.9L1329.7 808.8L1330.3 806.7L1330.8 804.6L1331.4 802.4L1332.0 800.3L1332.6 798.2L1333.1 796.1L1333.7 794.0L1334.3 791.8L1334.9 789.7L1335.4 787.6L1336.0 785.4L1336.6 783.3L1337.2 781.2L1337.7 779.0L1338.3 776.9L1338.9 774.8L1339.5 772.6L1340.0 770.5L1340.6 768.3L1341.2 766.2L1341.8 764.0L1342.3 761.9L1342.9 759.7L1343.5 757.6L1344.1 755.4L1344.6 753.3L1345.2 751.1L1345.8 749.0L1346.4 746.8L1346.9 744.6L1347.5 742.5L1348.1 740.3L1348.7 738.2L1349.2 736.0L1349.8 733.9L1350.4 731.7L1350.9 729.5L1351.5 727.4L1352.1 725.2L1352.7 723.1L1353.2 720.9L1353.8 718.8L1354.4 716.6L1355.0 714.4L1355.5 712.3L1356.1 710.1L1356.7 708.0L1357.3 705.8L1357.8 703.7L1358.4 701.5L1359.0 699.4L1359.6 697.2L1360.1 695.1L1360.7 693.0L1361.3 690.8L1361.9 688.7L1362.4 686.5L1363.0 684.4L1363.6 682.3L1364.2 680.1L1364.7 678.0L1365.3 675.9L1365.9 673.7L1366.5 671.6L1367.0 669.5L1367.6 667.4L1368.2 665.3L1368.8 663.2L1369.3 661.0L1369.9 658.9L1370.5 656.8L1371.1 654.7L1371.6 652.6L1372.2 650.5L1372.8 648.4L1373.4 646.4L1373.9 644.3L1374.5 642.2L1375.1 640.1L1375.6 638.0L1376.2 636.0L1376.8 633.9L1377.4 631.8L1377.9 629.8L1378.5 627.7L1379.1 625.7L1379.7 623.6L1380.2 621.6L1380.8 619.6L1381.4 617.5L1382.0 615.5L1382.5 613.5L1383.1 611.5L1383.7 609.4L1384.3 607.4L1384.8 605.4L1385.4 603.4L1386.0 601.4L1386.6 599.4L1387.1 597.5L1387.7 595.5L1388.3 593.5L1388.9 591.5L1389.4 589.6L1390.0 587.6L1390.6 585.7L1391.2 583.7L1391.7 581.8L1392.3 579.9L1392.9 577.9L1393.5 576.0L1394.0 574.1L1394.6 572.2L1395.2 570.3L1395.8 568.4L1396.3 566.5L1396.9 564.6L1397.5 562.8L1398.0 560.9L1398.6 559.0L1399.2 557.2L1399.8 555.3L1400.3 553.5L1400.9 551.7L1401.5 549.8L1402.1 548.0L1402.6 546.2L1403.2 544.4L1403.8 542.6L1404.4 540.8L1404.9 539.0L1405.5 537.3L1406.1 535.5L1406.7 533.7L1407.2 532.0L1407.8 530.3L1408.4 528.5L1409.0 526.8L1409.5 525.1L1410.1 523.4L1410.7 521.7L1411.3 520.0L1411.8 518.3L1412.4 516.6L1413.0 514.9L1413.6 513.3L1414.1 511.6L1414.7 510.0L1415.3 508.4L1415.9 506.7L1416.4 505.1L1417.0 503.5L1417.6 501.9L1418.2 500.3L1418.7 498.8L1419.3 497.2L1419.9 495.6L1420.5 494.1L1421.0 492.5L1421.6 491.0L1422.2 489.5L1422.7 488.0L1423.3 486.5L1423.9 485.0L1424.5 483.5L1425.0 482.0L1425.6 480.6L1426.2 479.1L1426.8 477.7L1427.3 476.2L1427.9 474.8L1428.5 473.4L1429.1 472.0L1429.6 470.6L1430.2 469.2L1430.8 467.9L1431.4 466.5L1431.9 465.2L1432.5 463.8L1433.1 462.5L1433.7 461.2L1434.2 459.9L1434.8 458.6L1435.4 457.3L1436.0 456.0L1436.5 454.8L1437.1 453.5L1437.7 452.3L1438.3 451.0L1438.8 449.8L1439.4 448.6L1440.0 447.4L1440.6 446.2L1441.1 445.1L1441.7 443.9L1442.3 442.7L1442.9 441.6L1443.4 440.5L1444.0 439.4L1444.6 438.3L1445.2 437.2L1445.7 436.1L1446.3 435.0L1446.9 434.0L1447.4 432.9L1448.0 431.9L1448.6 430.9L1449.2 429.8L1449.7 428.8L1450.3 427.9L1450.9 426.9L1451.5 425.9L1452.0 425.0L1452.6 424.0L1453.2 423.1L1453.8 422.2L1454.3 421.3L1454.9 420.4L1455.5 419.5L1456.1 418.7L1456.6 417.8L1457.2 417.0L1457.8 416.2L1458.4 415.3L1458.9 414.5L1459.5 413.8L1460.1 413.0L1460.7 412.2L1461.2 411.5L1461.8 410.7L1462.4 410.0L1463.0 409.3L1463.5 408.6L1464.1 407.9L1464.7 407.2L1465.3 406.6L1465.8 405.9L1466.4 405.3L1467.0 404.7L1467.6 404.1L1468.1 403.5L1468.7 402.9L1469.3 402.3L1469.8 401.8L1470.4 401.2L1471.0 400.7L1471.6 400.2L1472.1 399.7L1472.7 399.2L1473.3 398.7L1473.9 398.2L1474.4 397.8L1475.0 397.3L1475.6 396.9L1476.2 396.5L1476.7 396.1L1477.3 395.7L1477.9 395.4L1478.5 395.0L1479.0 394.7L1479.6 394.3L1480.2 394.0L1480.8 393.7L1481.3 393.4L1481.9 393.1L1482.5 392.9L1483.1 392.6L1483.6 392.4L1484.2 392.2L1484.8 392.0L1485.4 391.8L1485.9 391.6L1486.5 391.4L1487.1 391.2L1487.7 391.1L1488.2 391.0L1488.8 390.9L1489.4 390.8L1490.0 390.7L1490.5 390.6L1491.1 390.5L1491.7 390.5L1492.3 390.5L1492.8 390.4L1493.4 390.4L1494.0 390.4L1494.5 390.5L1495.1 390.5L1495.7 390.5L1496.3 390.6L1496.8 390.7L1497.4 390.8L1498.0 390.9L1498.6 391.0L1499.1 391.1L1499.7 391.2L1500.3 391.4L1500.9 391.6L1501.4 391.8L1502.0 392.0L1502.6 392.2L1503.2 392.4L1503.7 392.6L1504.3 392.9L1504.9 393.1L1505.5 393.4L1506.0 393.7L1506.6 394.0L1507.2 394.3L1507.8 394.7L1508.3 395.0L1508.9 395.4L1509.5 395.7L1510.1 396.1L1510.6 396.5L1511.2 396.9L1511.8 397.3L1512.4 397.8L1512.9 398.2L1513.5 398.7L1514.1 399.2L1514.7 399.7L1515.2 400.2L1515.8 400.7L1516.4 401.2L1517.0 401.8L1517.5 402.3L1518.1 402.9L1518.7 403.5L1519.2 404.1L1519.8 404.7L1520.4 405.3L1521.0 405.9L1521.5 406.6L1522.1 407.2L1522.7 407.9L1523.3 408.6L1523.8 409.3L1524.4 410.0L1525.0 410.7L1525.6 411.5L1526.1 412.2L1526.7 413.0L1527.3 413.8L1527.9 414.5L1528.4 415.3L1529.0 416.2L1529.6 417.0L1530.2 417.8L1530.7 418.7L1531.3 419.5L1531.9 420.4L1532.5 421.3L1533.0 422.2L1533.6 423.1L1534.2 424.0L1534.8 425.0L1535.3 425.9L1535.9 426.9L1536.5 427.9L1537.1 428.8L1537.6 429.8L1538.2 430.9L1538.8 431.9L1539.4 432.9L1539.9 434.0L1540.5 435.0L1541.1 436.1L1541.6 437.2L1542.2 438.3L1542.8 439.4L1543.4 440.5L1543.9 441.6L1544.5 442.7L1545.1 443.9L1545.7 445.1L1546.2 446.2L1546.8 447.4L1547.4 448.6L1548.0 449.8L1548.5 451.0L1549.1 452.3L1549.7 453.5L1550.3 454.8L1550.8 456.0L1551.4 457.3L1552.0 458.6L1552.6 459.9L1553.1 461.2L1553.7 462.5L1554.3 463.8L1554.9 465.2L1555.4 466.5L1556.0 467.9L1556.6 469.2L1557.2 470.6L1557.7 472.0L1558.3 473.4L1558.9 474.8L1559.5 476.2L1560.0 477.7L1560.6 479.1L1561.2 480.6L1561.8 482.0L1562.3 483.5L1562.9 485.0L1563.5 486.5L1564.1 488.0L1564.6 489.5L1565.2 491.0L1565.8 492.5L1566.3 494.1L1566.9 495.6L1567.5 497.2L1568.1 498.8L1568.6 500.3L1569.2 501.9L1569.8 503.5L1570.4 505.1L1570.9 506.7L1571.5 508.4L1572.1 510.0L1572.7 511.6L1573.2 513.3L1573.8 514.9L1574.4 516.6L1575.0 518.3L1575.5 520.0L1576.1 521.7L1576.7 523.4L1577.3 525.1L1577.8 526.8L1578.4 528.5L1579.0 530.3L1579.6 532.0L1580.1 533.7L1580.7 535.5L1581.3 537.3L1581.9 539.0L1582.4 540.8L1583.0 542.6L1583.6 544.4L1584.2 546.2L1584.7 548.0L1585.3 549.8L1585.9 551.7L1586.5 553.5L1587.0 555.3L1587.6 557.2L1588.2 559.0L1588.8 560.9L1589.3 562.8L1589.9 564.6L1590.5 566.5L1591.0 568.4L1591.6 570.3L1592.2 572.2L1592.8 574.1L1593.3 576.0L1593.9 577.9L1594.5 579.9L1595.1 581.8L1595.6 583.7L1596.2 585.7L1596.8 587.6L1597.4 589.6L1597.9 591.5L1598.5 593.5L1599.1 595.5L1599.7 597.5L1600.2 599.4L1600.8 601.4L1601.4 603.4L1602.0 605.4L1602.5 607.4L1603.1 609.4L1603.7 611.5L1604.3 613.5L1604.8 615.5L1605.4 617.5L1606.0 619.6L1606.6 621.6L1607.1 623.6L1607.7 625.7L1608.3 627.7L1608.9 629.8L1609.4 631.8L1610.0 633.9L1610.6 636.0L1611.2 638.0L1611.7 640.1L1612.3 642.2L1612.9 644.3L1613.4 646.4L1614.0 648.4L1614.6 650.5L1615.2 652.6L1615.7 654.7L1616.3 656.8L1616.9 658.9L1617.5 661.0L1618.0 663.2L1618.6 665.3L1619.2 667.4L1619.8 669.5L1620.3 671.6L1620.9 673.7L1621.5 675.9L1622.1 678.0L1622.6 680.1L1623.2 682.3L1623.8 684.4L1624.4 686.5L1624.9 688.7L1625.5 690.8L1626.1 693.0L1626.7 695.1L1627.2 697.2L1627.8 699.4L1628.4 701.5L1629.0 703.7L1629.5 705.8L1630.1 708.0L1630.7 710.1L1631.3 712.3L1631.8 714.4L1632.4 716.6L1633.0 718.8L1633.6 720.9L1634.1 723.1L1634.7 725.2L1635.3 727.4L1635.9 729.5L1636.4 731.7L1637.0 733.9" stroke="#000" stroke-width="4.5" stroke-dasharray="0.01 11" stroke-linecap="round"/></g>
<text transform="translate(180.3 67.2) scale(0.940 1)" font-size="60.0" text-anchor="end">2</text>
<text transform="translate(179.6 238.8) scale(0.940 1)" font-size="60.0" text-anchor="end">1.5</text>
<text transform="translate(179.2 410.7) scale(0.940 1)" font-size="60.0" text-anchor="end">1</text>
<text transform="translate(179.0 583.8) scale(0.940 1)" font-size="60.0" text-anchor="end">0.5</text>
<text transform="translate(180.4 755.3) scale(0.940 1)" font-size="60.0" text-anchor="end">0</text>
<text transform="translate(189.0 932.8) scale(0.940 1)" font-size="60.0" text-anchor="end">–0.5</text>
<text transform="translate(189.0 1103.9) scale(0.940 1)" font-size="60.0" text-anchor="end">–1</text>
<text transform="translate(188.6 1275.6) scale(0.940 1)" font-size="60.0" text-anchor="end">–1.5</text>
<text transform="translate(200.4 1323.9) scale(0.940 1)" font-size="60.0" text-anchor="middle">0</text>
<text transform="translate(487.4 1323.0) scale(0.940 1)" font-size="60.0" text-anchor="middle">1</text>
<text transform="translate(775.3 1323.5) scale(0.940 1)" font-size="60.0" text-anchor="middle">2</text>
<text transform="translate(1062.2 1323.5) scale(0.940 1)" font-size="60.0" text-anchor="middle">3</text>
<text transform="translate(1348.9 1323.0) scale(0.940 1)" font-size="60.0" text-anchor="middle">4</text>
<text transform="translate(1636.1 1323.3) scale(0.940 1)" font-size="60.0" text-anchor="middle">5</text>
<text transform="translate(902.8 1387.0) scale(1.000 1)" font-size="63.2" text-anchor="middle">Time (sec)</text>
<text transform="translate(75 654) rotate(-90)" font-size="63.1" text-anchor="middle">Position of lifting part (m)</text>
<rect x="362" y="63" width="1049" height="139" fill="#fff" stroke="#0f0f0f" stroke-width="2"/>
<path d="M371.9 100.45H482.3" stroke="#000" stroke-width="5.1"/>
<path d="M371.9 165.5H482.3" stroke="#0000ff" stroke-width="5.1" stroke-dasharray="28.2 15.8"/>
<use href="#sq" x="427.5" y="165.5"/>
<path d="M885 100.4H995" stroke="#ff0000" stroke-width="5.1" stroke-dasharray="22 8 6 8"/>
<use href="#di" x="939.4" y="100.4"/>
<path d="M885 165.5H995.5" stroke="#000" stroke-width="5" stroke-dasharray="3.6 7.4" stroke-dashoffset="0.6"/>
<text transform="translate(489.0 126.2) scale(1.000 1)" font-size="54.5" text-anchor="start" style="fill:#000">No payload</text>
<text transform="translate(489.0 189.6) scale(1.000 1)" font-size="54.5" text-anchor="start" style="fill:#000">Payload 2(–20%)</text>
<text transform="translate(1001.3 120.8) scale(1.000 1)" font-size="54.5" text-anchor="start" style="fill:#000">Payload 1 (+20%)</text>
<text transform="translate(1001.3 185.4) scale(1.000 1)" font-size="54.5" text-anchor="start" style="fill:#000">Desired trajectory</text>
<path d="M261.1 609.2L378.5 948" stroke="#000" stroke-width="1.7" fill="none"/>
<path d="M384.4 961.8L357.8 930.5L374.2 936.6L384.4 922.3Z" fill="#000"/>
<rect x="317.8" y="969.3" width="232.2" height="192.5" fill="#fff"/>
<path d="M378.2 969.3V1161.8M533.9 969.3V1161.8M317.8 995.8H550.0M317.8 1077.2H550.0M317.8 1158.6H550.0" stroke="#d6d6d6" stroke-width="1.6" fill="none"/>
<g clip-path="url(#ci)" fill="none">
<path d="M284.8 947.5L291.0 961.7L297.2 975.7L303.5 989.6L309.7 1003.5L315.9 1017.2L322.1 1031.0L328.4 1044.6L334.6 1056.8L340.8 1067.8L347.1 1077.6L353.3 1086.6L359.5 1094.5L365.7 1100.8L372.0 1106.1L378.2 1109.8L384.4 1112.6L390.7 1113.8L396.9 1113.7L403.1 1113.0L409.3 1111.2L415.6 1108.8L421.8 1105.5L428.0 1101.3L434.3 1096.5L440.5 1090.7L446.7 1084.6L452.9 1077.9L459.2 1070.6L465.4 1062.8L471.6 1054.4L477.8 1046.0L484.1 1037.4L490.3 1028.4L496.5 1018.6L502.8 1008.3L509.0 997.9L515.2 987.3L521.4 976.6L527.7 965.9L533.9 955.2L540.1 944.5L546.4 933.8L552.6 923.1L558.8 912.5L565.0 901.9L571.3 891.4L577.5 881.1L583.7 870.8L590.0 860.8L596.2 850.8" stroke="#000" stroke-width="4.7"/>
<path d="M284.8 891.1L291.0 905.3L297.2 919.2L303.5 932.9L309.7 946.2L315.9 959.1L322.1 971.4L328.4 982.5L334.6 994.5L340.8 1009.0L347.1 1019.8L353.3 1029.7L359.5 1041.4L365.7 1050.4L372.0 1057.4L378.2 1063.2L384.4 1068.2L390.7 1072.4L396.9 1074.1L403.1 1075.1L409.3 1075.2L415.6 1075.0L421.8 1074.6L428.0 1072.7L434.3 1069.0L440.5 1065.3L446.7 1061.1L452.9 1056.1L459.2 1050.3L465.4 1042.1L471.6 1034.1L477.8 1026.6L484.1 1018.7L490.3 1009.2L496.5 999.1L502.8 989.9L509.0 980.6L515.2 970.5L521.4 960.3L527.7 949.9L533.9 939.4L540.1 928.8L546.4 918.2L552.6 907.6L558.8 897.0L565.0 886.4L571.3 875.8L577.5 865.3L583.7 854.9L590.0 844.7L596.2 834.6" stroke="#0000ff" stroke-width="4.6" stroke-dasharray="28.6 15.4" stroke-dashoffset="3"/>
<path d="M284.8 922.1L291.0 936.7L297.2 951.2L303.5 965.7L309.7 980.1L315.9 994.6L322.1 1008.9L328.4 1022.7L334.6 1035.2L340.8 1047.1L347.1 1059.5L353.3 1072.0L359.5 1081.6L365.7 1089.4L372.0 1095.7L378.2 1100.5L384.4 1103.8L390.7 1105.5L396.9 1106.3L403.1 1106.3L409.3 1106.3L415.6 1104.9L421.8 1102.6L428.0 1099.7L434.3 1096.2L440.5 1092.3L446.7 1087.8L452.9 1082.6L459.2 1076.5L465.4 1069.4L471.6 1061.5L477.8 1053.2L484.1 1044.5L490.3 1035.2L496.5 1025.6L502.8 1015.4L509.0 1004.5L515.2 993.0L521.4 981.7L527.7 970.8L533.9 959.7L540.1 948.5L546.4 937.0L552.6 925.5L558.8 914.0L565.0 902.5L571.3 891.0L577.5 879.6L583.7 868.4L590.0 857.4L596.2 846.6" stroke="#ff0000" stroke-width="5" stroke-dasharray="22 8 6 8" stroke-dashoffset="5.5"/>
<use href="#sq" x="393.6" y="1073.2"/>
<use href="#sq" x="486.6" y="1014.9"/>
<use href="#di" x="346.6" y="1058.5"/>
<use href="#di" x="440.6" y="1092.2"/>
</g>
<g clip-path="url(#ci)" fill="none"><path d="M284.8 1291.9L291.0 1281.9L297.2 1271.9L303.5 1262.0L309.7 1252.0L315.9 1242.1L322.1 1232.2L328.4 1222.4L334.6 1212.5L340.8 1202.6L347.1 1192.8L353.3 1183.0L359.5 1173.2L365.7 1163.4L372.0 1153.7L378.2 1143.9L384.4 1134.2L390.7 1124.5L396.9 1114.8L403.1 1105.2L409.3 1095.5L415.6 1085.9L421.8 1076.3L428.0 1066.8L434.3 1057.2L440.5 1047.7L446.7 1038.2L452.9 1028.7L459.2 1019.3L465.4 1009.8L471.6 1000.4L477.8 991.1L484.1 981.7L490.3 972.4L496.5 963.1L502.8 953.8L509.0 944.6L515.2 935.4L521.4 926.2L527.7 917.0L533.9 907.9L540.1 898.8L546.4 889.7L552.6 880.7L558.8 871.7L565.0 862.7L571.3 853.8L577.5 844.8L583.7 836.0L590.0 827.1L596.2 818.3" stroke="#000" stroke-width="4.5" stroke-dasharray="0.01 10.8" stroke-dashoffset="-3.5" stroke-linecap="round"/></g>
<path d="M378.2 1161.8v-2.5M378.2 969.3v2.5M533.9 1161.8v-2.5M533.9 969.3v2.5M317.8 995.8h2.5M550.0 995.8h-2.5M317.8 1077.2h2.5M550.0 1077.2h-2.5M317.8 1158.6h2.5M550.0 1158.6h-2.5" stroke="#0f0f0f" stroke-width="1.6" fill="none"/>
<rect x="317.8" y="969.3" width="232.2" height="192.5" fill="none" stroke="#0f0f0f" stroke-width="1.8"/>
<text transform="translate(299.8 1013.4) scale(0.955 1)" font-size="51.0" text-anchor="end">0.4</text>
<text transform="translate(299.8 1095.8) scale(0.955 1)" font-size="51.0" text-anchor="end">0.35</text>
<text transform="translate(299.8 1178.1) scale(0.955 1)" font-size="51.0" text-anchor="end">0.3</text>
<text transform="translate(376.4 1226.5) scale(0.955 1)" font-size="51.0" text-anchor="middle">0.1</text>
<text transform="translate(533.1 1226.5) scale(0.955 1)" font-size="51.0" text-anchor="middle">0.15</text>
</svg></body></html>
